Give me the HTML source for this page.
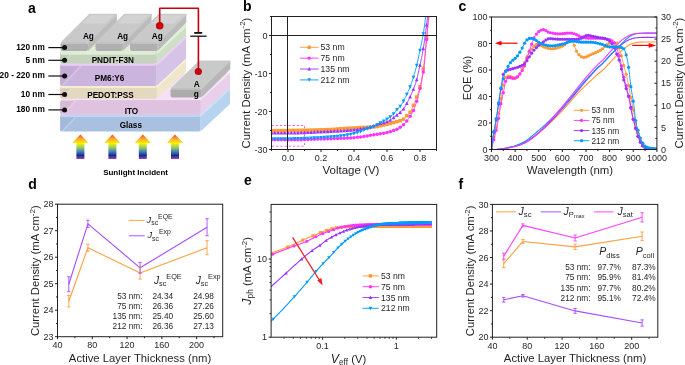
<!DOCTYPE html>
<html><head><meta charset="utf-8"><style>
html,body{margin:0;padding:0;background:#fff;overflow:hidden;}
svg{display:block;font-family:"Liberation Sans", sans-serif;will-change:transform;}
</style></head><body>
<svg width="685" height="365" viewBox="0 0 685 365">
<polygon points="200.5,115 230,87.5 230,103.9 200.5,131.4" fill="#b6d3f0"/>
<polygon points="200.5,115 230,87.5 230,89.5 200.5,117" fill="#cbe4fa"/>
<polygon points="60,115 200.5,115 230,87.5 89.5,87.5" fill="#c4dcf4"/>
<rect x="60" y="115" width="140.5" height="16.4" rx="2" fill="#a9c0e1"/>
<rect x="60.6" y="115" width="139.3" height="2" rx="1" fill="#bdd6f3"/>
<polygon points="60.8,117.5 74.46,117.5 61.5,130.9 60.8,130.9" fill="#000" fill-opacity="0.035"/>
<polygon points="74.46,117.3 76.66,117.3 63.7,131.1 61.5,131.1" fill="#fff" fill-opacity="0.22"/>
<polygon points="200.5,100.3 230,72.8 230,87.3 200.5,114.8" fill="#e9cfea"/>
<polygon points="200.5,100.3 230,72.8 230,72.9 200.5,100.4" fill="#f3dcf3"/>
<polygon points="60,100.3 200.5,100.3 230,72.8 89.5,72.8" fill="#f7e0f7"/>
<rect x="60" y="100.3" width="140.5" height="14.5" rx="2" fill="#dec2df"/>
<rect x="60.6" y="100.3" width="139.3" height="0.1" rx="1" fill="#dec2df"/>
<polygon points="60.8,100.9 74.46,100.9 61.5,114.3 60.8,114.3" fill="#000" fill-opacity="0.035"/>
<polygon points="74.46,100.7 76.66,100.7 63.7,114.5 61.5,114.5" fill="#fff" fill-opacity="0.22"/>
<polygon points="156.5,85.8 186,58.3 186,71.3 156.5,98.8" fill="#efe6cc"/>
<polygon points="156.5,85.8 186,58.3 186,60.5 156.5,88" fill="#f8f4da"/>
<polygon points="60,85.8 156.5,85.8 186,58.3 89.5,58.3" fill="#f4efd3"/>
<rect x="60" y="85.8" width="96.5" height="13" rx="2" fill="#e4d8bf"/>
<rect x="60.6" y="85.8" width="95.3" height="2.2" rx="1" fill="#f4efd3"/>
<polygon points="60.8,88.5 71.22,88.5 61.5,98.3 60.8,98.3" fill="#000" fill-opacity="0.035"/>
<polygon points="71.22,88.3 73.42,88.3 63.7,98.5 61.5,98.5" fill="#fff" fill-opacity="0.22"/>
<polygon points="156.5,63.7 186,36.2 186,58.4 156.5,85.9" fill="#d5c3e8"/>
<polygon points="156.5,63.7 186,36.2 186,38.2 156.5,65.7" fill="#efd2f8"/>
<polygon points="60,63.7 156.5,63.7 186,36.2 89.5,36.2" fill="#ebcdf5"/>
<rect x="60" y="63.7" width="96.5" height="22.2" rx="2" fill="#cbb4de"/>
<rect x="60.6" y="63.7" width="95.3" height="2" rx="1" fill="#ebcdf5"/>
<polygon points="60.8,66.2 79.68,66.2 61.5,85.4 60.8,85.4" fill="#000" fill-opacity="0.035"/>
<polygon points="79.68,66 81.88,66 63.7,85.6 61.5,85.6" fill="#fff" fill-opacity="0.22"/>
<polygon points="156.5,51.1 186,23.6 186,35.9 156.5,63.4" fill="#cfdfc6"/>
<polygon points="156.5,51.1 186,23.6 186,27.3 156.5,54.8" fill="#e0f0d8"/>
<polygon points="60,51.1 156.5,51.1 186,23.6 89.5,23.6" fill="#ddeed5"/>
<rect x="60" y="51.1" width="96.5" height="12.3" rx="2" fill="#c5d3bd"/>
<rect x="60.6" y="51.1" width="95.3" height="3.7" rx="1" fill="#ddeed5"/>
<polygon points="60.8,55.3 69.24,55.3 61.5,62.9 60.8,62.9" fill="#000" fill-opacity="0.035"/>
<polygon points="69.24,55.1 71.44,55.1 63.7,63.1 61.5,63.1" fill="#fff" fill-opacity="0.22"/>
<polygon points="201.5,88.6 230.3,60.4 230.3,69.2 201.5,97.4" fill="#b7b7b7"/>
<polygon points="201.5,88.6 230.3,60.4 230.3,61.8 201.5,90" fill="#c2c2c2"/>
<polygon points="170.5,88.6 201.5,88.6 230.3,60.4 199.3,60.4" fill="#c9c9c9"/>
<rect x="170.5" y="88.6" width="31" height="8.8" rx="2" fill="#acacac"/>
<rect x="171.1" y="88.6" width="29.8" height="1.4" rx="1" fill="#bdbdbd"/>
<polygon points="88,42.4 116.8,13.8 116.8,22.4 88,51" fill="#bbbbbb"/>
<polygon points="88,42.4 116.8,13.8 116.8,15.4 88,44" fill="#c6c6c6"/>
<polygon points="60.5,42.4 88,42.4 116.8,13.8 89.3,13.8" fill="#c9c9c9"/>
<rect x="60.5" y="42.4" width="27.5" height="8.6" rx="2" fill="#b0b0b0"/>
<rect x="61.1" y="42.4" width="26.3" height="1.6" rx="1" fill="#c2c2c2"/>
<polygon points="82.01,23.52 104.51,23.52 113.86,15.23 90.36,15.23" fill="#d3d3d3"/>
<polygon points="122.8,42.4 151.6,13.8 151.6,22.4 122.8,51" fill="#bbbbbb"/>
<polygon points="122.8,42.4 151.6,13.8 151.6,15.4 122.8,44" fill="#c6c6c6"/>
<polygon points="95.5,42.4 122.8,42.4 151.6,13.8 124.3,13.8" fill="#c9c9c9"/>
<rect x="95.5" y="42.4" width="27.3" height="8.6" rx="2" fill="#b0b0b0"/>
<rect x="96.1" y="42.4" width="26.1" height="1.6" rx="1" fill="#c2c2c2"/>
<polygon points="117.01,23.52 139.31,23.52 148.66,15.23 125.36,15.23" fill="#d3d3d3"/>
<polygon points="157.5,42.4 186.3,13.8 186.3,22.4 157.5,51" fill="#bbbbbb"/>
<polygon points="157.5,42.4 186.3,13.8 186.3,15.4 157.5,44" fill="#c6c6c6"/>
<polygon points="130,42.4 157.5,42.4 186.3,13.8 158.8,13.8" fill="#c9c9c9"/>
<rect x="130" y="42.4" width="27.5" height="8.6" rx="2" fill="#b0b0b0"/>
<rect x="130.6" y="42.4" width="26.3" height="1.6" rx="1" fill="#c2c2c2"/>
<polygon points="151.51,23.52 174.01,23.52 183.36,15.23 159.86,15.23" fill="#d3d3d3"/>
<text x="88.4" y="39.1" font-size="8.2" text-anchor="middle" font-weight="bold" fill="#000">Ag</text>
<text x="122.6" y="39.1" font-size="8.2" text-anchor="middle" font-weight="bold" fill="#000">Ag</text>
<text x="157.3" y="39.1" font-size="8.2" text-anchor="middle" font-weight="bold" fill="#000">Ag</text>
<text x="112.8" y="63.1" font-size="8.2" text-anchor="middle" font-weight="bold" fill="#000">PNDIT-F3N</text>
<text x="109.6" y="80.7" font-size="8.2" text-anchor="middle" font-weight="bold" fill="#000">PM6:Y6</text>
<text x="110.4" y="97.7" font-size="8.2" text-anchor="middle" font-weight="bold" fill="#000">PEDOT:PSS</text>
<text x="131.4" y="114" font-size="8.2" text-anchor="middle" font-weight="bold" fill="#000">ITO</text>
<text x="130.8" y="128.4" font-size="8.2" text-anchor="middle" font-weight="bold" fill="#000">Glass</text>
<text x="196.8" y="87.2" font-size="8.2" text-anchor="middle" font-weight="bold" fill="#000">A</text>
<text x="196.2" y="96.6" font-size="8.2" text-anchor="middle" font-weight="bold" fill="#000">g</text>
<text x="44.8" y="49.9" font-size="8.3" text-anchor="end" font-weight="bold" fill="#000">120 nm</text>
<path d="M48.3 47.6H64.5" stroke="#111" stroke-width="1.2"/><circle cx="64.6" cy="47.6" r="2.5" fill="#111"/>
<text x="44.8" y="62.6" font-size="8.3" text-anchor="end" font-weight="bold" fill="#000">5 nm</text>
<path d="M48.3 60.3H64.5" stroke="#111" stroke-width="1.2"/><circle cx="64.6" cy="60.3" r="2.5" fill="#111"/>
<text x="44.8" y="78.3" font-size="8.3" text-anchor="end" font-weight="bold" fill="#000">20 - 220 nm</text>
<path d="M48.3 76H64.5" stroke="#111" stroke-width="1.2"/><circle cx="64.6" cy="76" r="2.5" fill="#111"/>
<text x="44.8" y="96.8" font-size="8.3" text-anchor="end" font-weight="bold" fill="#000">10 nm</text>
<path d="M48.3 94.5H64.5" stroke="#111" stroke-width="1.2"/><circle cx="64.6" cy="94.5" r="2.5" fill="#111"/>
<text x="44.8" y="112.2" font-size="8.3" text-anchor="end" font-weight="bold" fill="#000">180 nm</text>
<path d="M48.3 109.9H64.5" stroke="#111" stroke-width="1.2"/><circle cx="64.6" cy="109.9" r="2.5" fill="#111"/>
<path d="M159.7 25.7V8.6Q159.7 8.3 160 8.3H198.1Q198.4 8.3 198.4 8.6V32.6M198.4 36.2V71.5" stroke="#c8000b" stroke-width="1.6" fill="none"/>
<circle cx="159.7" cy="25.7" r="3.8" fill="#c8000b"/><circle cx="198.3" cy="71.5" r="3.6" fill="#c8000b"/>
<path d="M194.2 32.9H202.2" stroke="#111" stroke-width="1.8"/><path d="M190.3 36.2H206.6" stroke="#111" stroke-width="1.3"/>
<defs><linearGradient id="rb" x1="0" y1="0" x2="0" y2="1"><stop offset="0" stop-color="#f0443a"/><stop offset="0.18" stop-color="#fca629"/><stop offset="0.36" stop-color="#fff200"/><stop offset="0.55" stop-color="#8fc868"/><stop offset="0.72" stop-color="#3c78bf"/><stop offset="0.86" stop-color="#1d2a86"/><stop offset="1" stop-color="#8b4ac4"/></linearGradient></defs>
<polygon points="80.4,134.4 88.6,142.9 84.4,142.9 84.4,158.9 76.4,158.9 76.4,142.9 72.2,142.9" fill="url(#rb)"/>
<polygon points="112.4,134.4 120.6,142.9 116.4,142.9 116.4,158.9 108.4,158.9 108.4,142.9 104.2,142.9" fill="url(#rb)"/>
<polygon points="142.8,134.4 151,142.9 146.8,142.9 146.8,158.9 138.8,158.9 138.8,142.9 134.6,142.9" fill="url(#rb)"/>
<polygon points="175,134.4 183.2,142.9 179,142.9 179,158.9 171,158.9 171,142.9 166.8,142.9" fill="url(#rb)"/>
<text x="135.6" y="174.6" font-size="8.0" text-anchor="middle" font-weight="bold" fill="#000">Sunlight Incident</text>
<clipPath id="cb"><rect x="271.5" y="16.5" width="165.0" height="133.0"/></clipPath>
<rect x="271.5" y="125.5" width="33" height="20.7" fill="none" stroke="#ff4fd0" stroke-width="0.9" stroke-dasharray="2.2 2"/>
<g clip-path="url(#cb)">
<polyline points="271.5,130.69 271.91,130.69 272.32,130.68 272.74,130.68 273.15,130.68 273.56,130.67 273.98,130.67 274.39,130.66 274.8,130.66 275.21,130.66 275.62,130.65 276.04,130.65 276.45,130.64 276.86,130.64 277.27,130.64 277.69,130.63 278.1,130.63 278.51,130.62 278.93,130.62 279.34,130.61 279.75,130.61 280.16,130.6 280.57,130.6 280.99,130.59 281.4,130.59 281.81,130.58 282.23,130.58 282.64,130.57 283.05,130.57 283.46,130.56 283.88,130.56 284.29,130.55 284.7,130.55 285.11,130.54 285.53,130.53 285.94,130.53 286.35,130.52 286.76,130.52 287.18,130.51 287.59,130.51 288,130.5 288.41,130.49 288.83,130.49 289.24,130.48 289.65,130.48 290.06,130.47 290.48,130.46 290.89,130.46 291.3,130.45 291.71,130.45 292.12,130.44 292.54,130.43 292.95,130.43 293.36,130.42 293.78,130.41 294.19,130.41 294.6,130.4 295.01,130.4 295.43,130.39 295.84,130.38 296.25,130.38 296.66,130.37 297.08,130.36 297.49,130.36 297.9,130.35 298.31,130.34 298.73,130.34 299.14,130.33 299.55,130.32 299.96,130.32 300.38,130.31 300.79,130.3 301.2,130.29 301.61,130.29 302.03,130.28 302.44,130.27 302.85,130.27 303.26,130.26 303.68,130.25 304.09,130.24 304.5,130.24 304.91,130.23 305.33,130.22 305.74,130.21 306.15,130.2 306.56,130.2 306.98,130.19 307.39,130.18 307.8,130.17 308.21,130.16 308.63,130.15 309.04,130.15 309.45,130.14 309.86,130.13 310.28,130.12 310.69,130.11 311.1,130.1 311.51,130.09 311.93,130.08 312.34,130.07 312.75,130.06 313.16,130.05 313.58,130.04 313.99,130.04 314.4,130.03 314.81,130.02 315.23,130 315.64,129.99 316.05,129.98 316.46,129.97 316.88,129.96 317.29,129.95 317.7,129.94 318.11,129.93 318.53,129.92 318.94,129.91 319.35,129.9 319.76,129.89 320.18,129.87 320.59,129.86 321,129.85 321.41,129.84 321.83,129.83 322.24,129.81 322.65,129.8 323.06,129.79 323.48,129.77 323.89,129.76 324.3,129.75 324.71,129.74 325.13,129.72 325.54,129.71 325.95,129.69 326.36,129.68 326.78,129.67 327.19,129.65 327.6,129.64 328.01,129.62 328.43,129.61 328.84,129.59 329.25,129.58 329.66,129.56 330.08,129.55 330.49,129.53 330.9,129.51 331.31,129.49 331.73,129.47 332.14,129.45 332.55,129.42 332.96,129.39 333.38,129.37 333.79,129.34 334.2,129.31 334.61,129.28 335.03,129.25 335.44,129.22 335.85,129.18 336.26,129.15 336.68,129.11 337.09,129.08 337.5,129.05 337.91,129.01 338.33,128.98 338.74,128.94 339.15,128.91 339.56,128.87 339.98,128.84 340.39,128.8 340.8,128.77 341.21,128.73 341.63,128.7 342.04,128.67 342.45,128.64 342.86,128.6 343.28,128.57 343.69,128.55 344.1,128.52 344.51,128.49 344.93,128.47 345.34,128.44 345.75,128.42 346.16,128.39 346.58,128.37 346.99,128.34 347.4,128.32 347.81,128.3 348.23,128.27 348.64,128.25 349.05,128.23 349.46,128.2 349.88,128.18 350.29,128.16 350.7,128.14 351.11,128.12 351.53,128.09 351.94,128.07 352.35,128.05 352.76,128.03 353.18,128.01 353.59,127.99 354,127.96 354.41,127.94 354.83,127.92 355.24,127.9 355.65,127.88 356.06,127.86 356.48,127.84 356.89,127.81 357.3,127.79 357.71,127.77 358.13,127.75 358.54,127.72 358.95,127.7 359.36,127.68 359.78,127.66 360.19,127.63 360.6,127.61 361.01,127.59 361.43,127.57 361.84,127.55 362.25,127.53 362.66,127.52 363.08,127.5 363.49,127.48 363.9,127.46 364.31,127.44 364.73,127.42 365.14,127.4 365.55,127.39 365.96,127.37 366.38,127.35 366.79,127.33 367.2,127.31 367.61,127.29 368.03,127.27 368.44,127.24 368.85,127.22 369.26,127.2 369.68,127.18 370.09,127.15 370.5,127.13 370.91,127.1 371.33,127.07 371.74,127.05 372.15,127.02 372.56,126.99 372.98,126.95 373.39,126.92 373.8,126.89 374.21,126.85 374.63,126.81 375.04,126.77 375.45,126.73 375.86,126.67 376.28,126.61 376.69,126.55 377.1,126.48 377.51,126.41 377.93,126.33 378.34,126.25 378.75,126.16 379.16,126.07 379.58,125.98 379.99,125.89 380.4,125.8 380.81,125.7 381.23,125.61 381.64,125.51 382.05,125.41 382.46,125.31 382.88,125.22 383.29,125.12 383.7,125.03 384.11,124.93 384.53,124.84 384.94,124.75 385.35,124.65 385.76,124.56 386.18,124.46 386.59,124.36 387,124.27 387.41,124.17 387.83,124.07 388.24,123.97 388.65,123.86 389.06,123.76 389.48,123.65 389.89,123.55 390.3,123.44 390.71,123.33 391.13,123.22 391.54,123.11 391.95,123 392.36,122.88 392.78,122.77 393.19,122.65 393.6,122.53 394.01,122.41 394.43,122.3 394.84,122.18 395.25,122.07 395.66,121.97 396.08,121.86 396.49,121.75 396.9,121.64 397.31,121.53 397.73,121.42 398.14,121.31 398.55,121.19 398.96,121.06 399.38,120.93 399.79,120.8 400.2,120.65 400.61,120.5 401.03,120.34 401.44,120.16 401.85,119.98 402.26,119.78 402.68,119.58 403.09,119.35 403.5,119.11 403.91,118.76 404.33,118.32 404.74,117.83 405.15,117.33 405.56,116.87 405.98,116.46 406.39,116.07 406.8,115.7 407.21,115.35 407.63,114.99 408.04,114.61 408.45,114.22 408.86,113.8 409.28,113.34 409.69,112.83 410.1,112.24 410.51,111.55 410.93,110.78 411.34,109.95 411.75,109.06 412.16,108.15 412.58,107.21 412.99,106.29 413.4,105.36 413.81,104.42 414.23,103.44 414.64,102.44 415.05,101.41 415.46,100.34 415.88,99.25 416.29,98.13 416.7,96.98 417.11,95.83 417.53,94.68 417.94,93.49 418.35,92.27 418.76,90.99 419.18,89.64 419.59,88.21 420,86.69 420.41,85.05 420.83,83.28 421.24,81.32 421.65,79.19 422.06,76.88 422.48,74.41 422.89,71.76 423.3,68.95 423.71,65.97 424.13,62.51 424.54,58.56 424.95,54.3 425.36,49.88 425.78,45.49 426.19,41.28 426.6,37.4 427.01,33.65 427.43,29.97 427.84,26.36 428.25,22.81 428.66,19.34 429.08,15.94" fill="none" stroke="#ff9933" stroke-width="0.9" stroke-linejoin="round"/>
<g><rect x="269.75" y="128.94" width="3.5" height="3.5" fill="#ff9933"/><rect x="273.05" y="128.91" width="3.5" height="3.5" fill="#ff9933"/><rect x="276.35" y="128.88" width="3.5" height="3.5" fill="#ff9933"/><rect x="279.65" y="128.84" width="3.5" height="3.5" fill="#ff9933"/><rect x="282.95" y="128.8" width="3.5" height="3.5" fill="#ff9933"/><rect x="286.25" y="128.75" width="3.5" height="3.5" fill="#ff9933"/><rect x="289.55" y="128.7" width="3.5" height="3.5" fill="#ff9933"/><rect x="292.85" y="128.65" width="3.5" height="3.5" fill="#ff9933"/><rect x="296.15" y="128.6" width="3.5" height="3.5" fill="#ff9933"/><rect x="299.45" y="128.54" width="3.5" height="3.5" fill="#ff9933"/><rect x="302.75" y="128.49" width="3.5" height="3.5" fill="#ff9933"/><rect x="306.05" y="128.42" width="3.5" height="3.5" fill="#ff9933"/><rect x="309.35" y="128.35" width="3.5" height="3.5" fill="#ff9933"/><rect x="312.65" y="128.28" width="3.5" height="3.5" fill="#ff9933"/><rect x="315.95" y="128.19" width="3.5" height="3.5" fill="#ff9933"/><rect x="319.25" y="128.1" width="3.5" height="3.5" fill="#ff9933"/><rect x="322.55" y="128" width="3.5" height="3.5" fill="#ff9933"/><rect x="325.85" y="127.89" width="3.5" height="3.5" fill="#ff9933"/><rect x="329.15" y="127.76" width="3.5" height="3.5" fill="#ff9933"/><rect x="332.45" y="127.56" width="3.5" height="3.5" fill="#ff9933"/><rect x="335.75" y="127.3" width="3.5" height="3.5" fill="#ff9933"/><rect x="339.05" y="127.02" width="3.5" height="3.5" fill="#ff9933"/><rect x="342.35" y="126.77" width="3.5" height="3.5" fill="#ff9933"/><rect x="345.65" y="126.57" width="3.5" height="3.5" fill="#ff9933"/><rect x="348.95" y="126.39" width="3.5" height="3.5" fill="#ff9933"/><rect x="352.25" y="126.21" width="3.5" height="3.5" fill="#ff9933"/><rect x="355.55" y="126.04" width="3.5" height="3.5" fill="#ff9933"/><rect x="358.85" y="125.86" width="3.5" height="3.5" fill="#ff9933"/><rect x="362.15" y="125.71" width="3.5" height="3.5" fill="#ff9933"/><rect x="365.45" y="125.56" width="3.5" height="3.5" fill="#ff9933"/><rect x="368.75" y="125.38" width="3.5" height="3.5" fill="#ff9933"/><rect x="372.05" y="125.14" width="3.5" height="3.5" fill="#ff9933"/><rect x="375.35" y="124.73" width="3.5" height="3.5" fill="#ff9933"/><rect x="378.65" y="124.05" width="3.5" height="3.5" fill="#ff9933"/><rect x="381.95" y="123.28" width="3.5" height="3.5" fill="#ff9933"/><rect x="385.25" y="122.52" width="3.5" height="3.5" fill="#ff9933"/><rect x="388.55" y="121.69" width="3.5" height="3.5" fill="#ff9933"/><rect x="391.85" y="120.78" width="3.5" height="3.5" fill="#ff9933"/><rect x="395.15" y="119.89" width="3.5" height="3.5" fill="#ff9933"/><rect x="398.45" y="118.9" width="3.5" height="3.5" fill="#ff9933"/><rect x="401.75" y="117.36" width="3.5" height="3.5" fill="#ff9933"/><rect x="405.05" y="113.95" width="3.5" height="3.5" fill="#ff9933"/><rect x="408.35" y="110.49" width="3.5" height="3.5" fill="#ff9933"/><rect x="411.65" y="103.61" width="3.5" height="3.5" fill="#ff9933"/><rect x="414.95" y="95.23" width="3.5" height="3.5" fill="#ff9933"/><rect x="418.25" y="84.94" width="3.5" height="3.5" fill="#ff9933"/><rect x="421.55" y="67.2" width="3.5" height="3.5" fill="#ff9933"/><rect x="424.85" y="35.65" width="3.5" height="3.5" fill="#ff9933"/></g>
<polyline points="271.5,133.01 271.91,133.01 272.32,133.01 272.74,133.01 273.15,133.01 273.56,133.01 273.98,133.01 274.39,133.01 274.8,133.01 275.21,133.01 275.62,133.01 276.04,133.01 276.45,133.01 276.86,133.01 277.27,133.01 277.69,133.01 278.1,133.01 278.51,133.01 278.93,133.01 279.34,133.01 279.75,133.01 280.16,133.01 280.57,133.01 280.99,133.01 281.4,133.01 281.81,133.01 282.23,133.01 282.64,133.01 283.05,133.01 283.46,133.01 283.88,133.01 284.29,133.01 284.7,133.01 285.11,133.01 285.53,133.01 285.94,133.01 286.35,133.01 286.76,133.01 287.18,133.01 287.59,133.01 288,133.01 288.41,133.01 288.83,133.01 289.24,133.01 289.65,133 290.06,133 290.48,133 290.89,132.99 291.3,132.99 291.71,132.99 292.12,132.98 292.54,132.98 292.95,132.97 293.36,132.96 293.78,132.96 294.19,132.95 294.6,132.94 295.01,132.93 295.43,132.92 295.84,132.91 296.25,132.9 296.66,132.89 297.08,132.88 297.49,132.87 297.9,132.86 298.31,132.85 298.73,132.84 299.14,132.83 299.55,132.81 299.96,132.8 300.38,132.79 300.79,132.77 301.2,132.76 301.61,132.74 302.03,132.73 302.44,132.71 302.85,132.7 303.26,132.68 303.68,132.67 304.09,132.65 304.5,132.64 304.91,132.62 305.33,132.6 305.74,132.58 306.15,132.57 306.56,132.55 306.98,132.53 307.39,132.51 307.8,132.49 308.21,132.48 308.63,132.46 309.04,132.44 309.45,132.42 309.86,132.4 310.28,132.38 310.69,132.36 311.1,132.34 311.51,132.32 311.93,132.3 312.34,132.28 312.75,132.26 313.16,132.24 313.58,132.22 313.99,132.2 314.4,132.18 314.81,132.16 315.23,132.14 315.64,132.12 316.05,132.1 316.46,132.08 316.88,132.05 317.29,132.03 317.7,132.01 318.11,131.99 318.53,131.97 318.94,131.95 319.35,131.93 319.76,131.91 320.18,131.89 320.59,131.86 321,131.84 321.41,131.82 321.83,131.8 322.24,131.78 322.65,131.76 323.06,131.74 323.48,131.72 323.89,131.7 324.3,131.68 324.71,131.66 325.13,131.64 325.54,131.62 325.95,131.6 326.36,131.58 326.78,131.56 327.19,131.54 327.6,131.52 328.01,131.5 328.43,131.48 328.84,131.46 329.25,131.44 329.66,131.43 330.08,131.41 330.49,131.39 330.9,131.37 331.31,131.35 331.73,131.34 332.14,131.32 332.55,131.3 332.96,131.28 333.38,131.27 333.79,131.25 334.2,131.23 334.61,131.21 335.03,131.19 335.44,131.18 335.85,131.16 336.26,131.14 336.68,131.12 337.09,131.1 337.5,131.08 337.91,131.06 338.33,131.04 338.74,131.02 339.15,131 339.56,130.98 339.98,130.96 340.39,130.94 340.8,130.92 341.21,130.89 341.63,130.87 342.04,130.85 342.45,130.82 342.86,130.8 343.28,130.77 343.69,130.75 344.1,130.72 344.51,130.7 344.93,130.67 345.34,130.64 345.75,130.61 346.16,130.58 346.58,130.55 346.99,130.52 347.4,130.48 347.81,130.45 348.23,130.41 348.64,130.38 349.05,130.34 349.46,130.3 349.88,130.26 350.29,130.23 350.7,130.19 351.11,130.15 351.53,130.1 351.94,130.06 352.35,130.02 352.76,129.97 353.18,129.93 353.59,129.89 354,129.84 354.41,129.79 354.83,129.75 355.24,129.7 355.65,129.65 356.06,129.6 356.48,129.55 356.89,129.5 357.3,129.45 357.71,129.4 358.13,129.35 358.54,129.29 358.95,129.24 359.36,129.19 359.78,129.13 360.19,129.08 360.6,129.02 361.01,128.96 361.43,128.9 361.84,128.84 362.25,128.78 362.66,128.71 363.08,128.65 363.49,128.58 363.9,128.51 364.31,128.44 364.73,128.36 365.14,128.29 365.55,128.21 365.96,128.13 366.38,128.05 366.79,127.96 367.2,127.87 367.61,127.78 368.03,127.69 368.44,127.59 368.85,127.48 369.26,127.36 369.68,127.24 370.09,127.1 370.5,126.96 370.91,126.82 371.33,126.67 371.74,126.51 372.15,126.35 372.56,126.19 372.98,126.03 373.39,125.86 373.8,125.7 374.21,125.53 374.63,125.36 375.04,125.2 375.45,125.03 375.86,124.87 376.28,124.72 376.69,124.56 377.1,124.41 377.51,124.27 377.93,124.13 378.34,124 378.75,123.87 379.16,123.76 379.58,123.64 379.99,123.53 380.4,123.43 380.81,123.33 381.23,123.23 381.64,123.14 382.05,123.04 382.46,122.95 382.88,122.85 383.29,122.76 383.7,122.66 384.11,122.56 384.53,122.46 384.94,122.36 385.35,122.25 385.76,122.14 386.18,122.02 386.59,121.89 387,121.76 387.41,121.62 387.83,121.47 388.24,121.31 388.65,121.14 389.06,120.96 389.48,120.75 389.89,120.49 390.3,120.19 390.71,119.87 391.13,119.54 391.54,119.19 391.95,118.85 392.36,118.51 392.78,118.19 393.19,117.88 393.6,117.57 394.01,117.26 394.43,116.95 394.84,116.64 395.25,116.32 395.66,116.01 396.08,115.69 396.49,115.36 396.9,115.04 397.31,114.72 397.73,114.4 398.14,114.08 398.55,113.75 398.96,113.41 399.38,113.07 399.79,112.71 400.2,112.34 400.61,111.96 401.03,111.58 401.44,111.18 401.85,110.77 402.26,110.34 402.68,109.89 403.09,109.41 403.5,108.9 403.91,108.33 404.33,107.72 404.74,107.07 405.15,106.39 405.56,105.69 405.98,104.97 406.39,104.25 406.8,103.5 407.21,102.73 407.63,101.94 408.04,101.12 408.45,100.29 408.86,99.44 409.28,98.59 409.69,97.72 410.1,96.85 410.51,95.97 410.93,95.07 411.34,94.16 411.75,93.23 412.16,92.27 412.58,91.29 412.99,90.28 413.4,89.26 413.81,88.23 414.23,87.17 414.64,86.08 415.05,84.94 415.46,83.75 415.88,82.48 416.29,81.13 416.7,79.64 417.11,78.04 417.53,76.32 417.94,74.53 418.35,72.67 418.76,70.79 419.18,68.89 419.59,67.01 420,65.14 420.41,63.27 420.83,61.38 421.24,59.46 421.65,57.47 422.06,55.42 422.48,53.27 422.89,51.01 423.3,48.62 423.71,46.04 424.13,43.28 424.54,40.38 424.95,37.37 425.36,34.29 425.78,31.17 426.19,28.05 426.6,24.95 427.01,21.78 427.43,18.55 427.84,15.26" fill="none" stroke="#9933ff" stroke-width="0.9" stroke-linejoin="round"/>
<g><polygon points="271.5,131 273.34,134.62 269.66,134.62" fill="#9933ff"/><polygon points="274.8,131 276.64,134.62 272.96,134.62" fill="#9933ff"/><polygon points="278.1,131 279.94,134.62 276.26,134.62" fill="#9933ff"/><polygon points="281.4,131 283.24,134.62 279.56,134.62" fill="#9933ff"/><polygon points="284.7,131 286.54,134.62 282.86,134.62" fill="#9933ff"/><polygon points="288,131 289.84,134.62 286.16,134.62" fill="#9933ff"/><polygon points="291.3,130.98 293.14,134.6 289.46,134.6" fill="#9933ff"/><polygon points="294.6,130.93 296.44,134.55 292.76,134.55" fill="#9933ff"/><polygon points="297.9,130.85 299.74,134.47 296.06,134.47" fill="#9933ff"/><polygon points="301.2,130.75 303.04,134.37 299.36,134.37" fill="#9933ff"/><polygon points="304.5,130.62 306.34,134.25 302.66,134.25" fill="#9933ff"/><polygon points="307.8,130.48 309.64,134.1 305.96,134.1" fill="#9933ff"/><polygon points="311.1,130.33 312.94,133.95 309.26,133.95" fill="#9933ff"/><polygon points="314.4,130.17 316.24,133.79 312.56,133.79" fill="#9933ff"/><polygon points="317.7,130 319.54,133.62 315.86,133.62" fill="#9933ff"/><polygon points="321,129.83 322.84,133.45 319.16,133.45" fill="#9933ff"/><polygon points="324.3,129.67 326.14,133.29 322.46,133.29" fill="#9933ff"/><polygon points="327.6,129.51 329.44,133.13 325.76,133.13" fill="#9933ff"/><polygon points="330.9,129.36 332.74,132.98 329.06,132.98" fill="#9933ff"/><polygon points="334.2,129.22 336.04,132.84 332.36,132.84" fill="#9933ff"/><polygon points="337.5,129.07 339.34,132.69 335.66,132.69" fill="#9933ff"/><polygon points="340.8,128.9 342.64,132.53 338.96,132.53" fill="#9933ff"/><polygon points="344.1,128.71 345.94,132.33 342.26,132.33" fill="#9933ff"/><polygon points="347.4,128.47 349.24,132.09 345.56,132.09" fill="#9933ff"/><polygon points="350.7,128.17 352.54,131.8 348.86,131.8" fill="#9933ff"/><polygon points="354,127.83 355.84,131.45 352.16,131.45" fill="#9933ff"/><polygon points="357.3,127.44 359.14,131.06 355.46,131.06" fill="#9933ff"/><polygon points="360.6,127.01 362.44,130.63 358.76,130.63" fill="#9933ff"/><polygon points="363.9,126.5 365.74,130.12 362.06,130.12" fill="#9933ff"/><polygon points="367.2,125.86 369.04,129.48 365.36,129.48" fill="#9933ff"/><polygon points="370.5,124.95 372.34,128.57 368.66,128.57" fill="#9933ff"/><polygon points="373.8,123.68 375.64,127.31 371.96,127.31" fill="#9933ff"/><polygon points="377.1,122.4 378.94,126.02 375.26,126.02" fill="#9933ff"/><polygon points="380.4,121.42 382.24,125.04 378.56,125.04" fill="#9933ff"/><polygon points="383.7,120.65 385.54,124.27 381.86,124.27" fill="#9933ff"/><polygon points="387,119.74 388.84,123.37 385.16,123.37" fill="#9933ff"/><polygon points="390.3,118.18 392.14,121.8 388.46,121.8" fill="#9933ff"/><polygon points="393.6,115.56 395.44,119.18 391.76,119.18" fill="#9933ff"/><polygon points="396.9,113.03 398.74,116.65 395.06,116.65" fill="#9933ff"/><polygon points="400.2,110.33 402.04,113.95 398.36,113.95" fill="#9933ff"/><polygon points="403.5,106.88 405.34,110.51 401.66,110.51" fill="#9933ff"/><polygon points="406.8,101.49 408.64,105.11 404.96,105.11" fill="#9933ff"/><polygon points="410.1,94.84 411.94,98.46 408.26,98.46" fill="#9933ff"/><polygon points="413.4,87.25 415.24,90.87 411.56,90.87" fill="#9933ff"/><polygon points="416.7,77.63 418.54,81.25 414.86,81.25" fill="#9933ff"/><polygon points="420,63.13 421.84,66.75 418.16,66.75" fill="#9933ff"/><polygon points="423.3,46.61 425.14,50.23 421.46,50.23" fill="#9933ff"/><polygon points="426.6,22.94 428.44,26.56 424.76,26.56" fill="#9933ff"/></g>
<polyline points="271.5,139.81 271.91,139.81 272.32,139.81 272.74,139.81 273.15,139.81 273.56,139.81 273.98,139.81 274.39,139.81 274.8,139.81 275.21,139.81 275.62,139.81 276.04,139.81 276.45,139.81 276.86,139.81 277.27,139.81 277.69,139.81 278.1,139.81 278.51,139.81 278.93,139.81 279.34,139.81 279.75,139.81 280.16,139.81 280.57,139.81 280.99,139.81 281.4,139.81 281.81,139.81 282.23,139.81 282.64,139.81 283.05,139.81 283.46,139.81 283.88,139.81 284.29,139.81 284.7,139.81 285.11,139.81 285.53,139.81 285.94,139.81 286.35,139.81 286.76,139.81 287.18,139.81 287.59,139.81 288,139.81 288.41,139.81 288.83,139.81 289.24,139.81 289.65,139.81 290.06,139.81 290.48,139.8 290.89,139.8 291.3,139.8 291.71,139.79 292.12,139.79 292.54,139.79 292.95,139.78 293.36,139.78 293.78,139.77 294.19,139.77 294.6,139.76 295.01,139.76 295.43,139.75 295.84,139.75 296.25,139.74 296.66,139.73 297.08,139.72 297.49,139.72 297.9,139.71 298.31,139.7 298.73,139.69 299.14,139.68 299.55,139.68 299.96,139.67 300.38,139.66 300.79,139.65 301.2,139.64 301.61,139.63 302.03,139.62 302.44,139.61 302.85,139.6 303.26,139.59 303.68,139.57 304.09,139.56 304.5,139.55 304.91,139.54 305.33,139.53 305.74,139.52 306.15,139.5 306.56,139.49 306.98,139.48 307.39,139.47 307.8,139.45 308.21,139.44 308.63,139.43 309.04,139.42 309.45,139.4 309.86,139.39 310.28,139.38 310.69,139.36 311.1,139.35 311.51,139.34 311.93,139.32 312.34,139.31 312.75,139.29 313.16,139.28 313.58,139.27 313.99,139.25 314.4,139.24 314.81,139.22 315.23,139.21 315.64,139.19 316.05,139.18 316.46,139.17 316.88,139.15 317.29,139.14 317.7,139.12 318.11,139.11 318.53,139.09 318.94,139.08 319.35,139.06 319.76,139.05 320.18,139.03 320.59,139.02 321,139.01 321.41,138.99 321.83,138.98 322.24,138.96 322.65,138.95 323.06,138.93 323.48,138.92 323.89,138.91 324.3,138.89 324.71,138.88 325.13,138.86 325.54,138.85 325.95,138.84 326.36,138.82 326.78,138.81 327.19,138.8 327.6,138.78 328.01,138.77 328.43,138.76 328.84,138.74 329.25,138.73 329.66,138.72 330.08,138.71 330.49,138.69 330.9,138.68 331.31,138.67 331.73,138.66 332.14,138.64 332.55,138.63 332.96,138.62 333.38,138.61 333.79,138.6 334.2,138.58 334.61,138.57 335.03,138.56 335.44,138.55 335.85,138.53 336.26,138.52 336.68,138.51 337.09,138.5 337.5,138.48 337.91,138.47 338.33,138.46 338.74,138.44 339.15,138.43 339.56,138.41 339.98,138.4 340.39,138.38 340.8,138.37 341.21,138.35 341.63,138.34 342.04,138.32 342.45,138.31 342.86,138.29 343.28,138.27 343.69,138.25 344.1,138.24 344.51,138.22 344.93,138.2 345.34,138.18 345.75,138.16 346.16,138.14 346.58,138.12 346.99,138.1 347.4,138.07 347.81,138.05 348.23,138.03 348.64,138.01 349.05,137.98 349.46,137.96 349.88,137.93 350.29,137.91 350.7,137.88 351.11,137.85 351.53,137.83 351.94,137.8 352.35,137.77 352.76,137.74 353.18,137.71 353.59,137.68 354,137.65 354.41,137.61 354.83,137.58 355.24,137.55 355.65,137.51 356.06,137.48 356.48,137.44 356.89,137.41 357.3,137.37 357.71,137.33 358.13,137.29 358.54,137.25 358.95,137.21 359.36,137.17 359.78,137.13 360.19,137.08 360.6,137.03 361.01,136.97 361.43,136.92 361.84,136.86 362.25,136.79 362.66,136.73 363.08,136.66 363.49,136.59 363.9,136.52 364.31,136.45 364.73,136.37 365.14,136.29 365.55,136.22 365.96,136.14 366.38,136.06 366.79,135.98 367.2,135.9 367.61,135.81 368.03,135.73 368.44,135.65 368.85,135.56 369.26,135.48 369.68,135.4 370.09,135.32 370.5,135.24 370.91,135.16 371.33,135.08 371.74,135 372.15,134.92 372.56,134.84 372.98,134.77 373.39,134.7 373.8,134.63 374.21,134.56 374.63,134.49 375.04,134.43 375.45,134.36 375.86,134.3 376.28,134.24 376.69,134.19 377.1,134.13 377.51,134.07 377.93,134.02 378.34,133.96 378.75,133.91 379.16,133.85 379.58,133.8 379.99,133.74 380.4,133.69 380.81,133.63 381.23,133.57 381.64,133.51 382.05,133.45 382.46,133.38 382.88,133.32 383.29,133.25 383.7,133.17 384.11,133.1 384.53,133.02 384.94,132.94 385.35,132.86 385.76,132.77 386.18,132.68 386.59,132.59 387,132.5 387.41,132.4 387.83,132.3 388.24,132.2 388.65,132.09 389.06,131.98 389.48,131.87 389.89,131.75 390.3,131.63 390.71,131.51 391.13,131.39 391.54,131.26 391.95,131.13 392.36,131 392.78,130.85 393.19,130.71 393.6,130.56 394.01,130.4 394.43,130.24 394.84,130.07 395.25,129.89 395.66,129.71 396.08,129.53 396.49,129.34 396.9,129.14 397.31,128.94 397.73,128.73 398.14,128.52 398.55,128.3 398.96,128.07 399.38,127.83 399.79,127.58 400.2,127.32 400.61,127.04 401.03,126.76 401.44,126.46 401.85,126.15 402.26,125.82 402.68,125.49 403.09,125.13 403.5,124.76 403.91,124.37 404.33,123.96 404.74,123.51 405.15,123.05 405.56,122.57 405.98,122.07 406.39,121.55 406.8,121.01 407.21,120.46 407.63,119.89 408.04,119.32 408.45,118.73 408.86,118.13 409.28,117.52 409.69,116.91 410.1,116.28 410.51,115.65 410.93,115 411.34,114.33 411.75,113.63 412.16,112.9 412.58,112.14 412.99,111.34 413.4,110.49 413.81,109.6 414.23,108.63 414.64,107.56 415.05,106.41 415.46,105.19 415.88,103.9 416.29,102.56 416.7,101.18 417.11,99.77 417.53,98.34 417.94,96.85 418.35,95.3 418.76,93.68 419.18,92.02 419.59,90.29 420,88.51 420.41,86.68 420.83,84.82 421.24,82.95 421.65,81.04 422.06,79.04 422.48,76.92 422.89,74.61 423.3,72.09 423.71,69.3 424.13,65.99 424.54,62.14 424.95,57.89 425.36,53.38 425.78,48.74 426.19,44.11 426.6,39.59 427.01,35 427.43,30.31 427.84,25.5 428.25,20.6 428.66,15.61" fill="none" stroke="#ff33ff" stroke-width="0.9" stroke-linejoin="round"/>
<g><circle cx="271.5" cy="139.81" r="1.75" fill="#ff33ff"/><circle cx="274.8" cy="139.81" r="1.75" fill="#ff33ff"/><circle cx="278.1" cy="139.81" r="1.75" fill="#ff33ff"/><circle cx="281.4" cy="139.81" r="1.75" fill="#ff33ff"/><circle cx="284.7" cy="139.81" r="1.75" fill="#ff33ff"/><circle cx="288" cy="139.81" r="1.75" fill="#ff33ff"/><circle cx="291.3" cy="139.8" r="1.75" fill="#ff33ff"/><circle cx="294.6" cy="139.76" r="1.75" fill="#ff33ff"/><circle cx="297.9" cy="139.71" r="1.75" fill="#ff33ff"/><circle cx="301.2" cy="139.64" r="1.75" fill="#ff33ff"/><circle cx="304.5" cy="139.55" r="1.75" fill="#ff33ff"/><circle cx="307.8" cy="139.45" r="1.75" fill="#ff33ff"/><circle cx="311.1" cy="139.35" r="1.75" fill="#ff33ff"/><circle cx="314.4" cy="139.24" r="1.75" fill="#ff33ff"/><circle cx="317.7" cy="139.12" r="1.75" fill="#ff33ff"/><circle cx="321" cy="139.01" r="1.75" fill="#ff33ff"/><circle cx="324.3" cy="138.89" r="1.75" fill="#ff33ff"/><circle cx="327.6" cy="138.78" r="1.75" fill="#ff33ff"/><circle cx="330.9" cy="138.68" r="1.75" fill="#ff33ff"/><circle cx="334.2" cy="138.58" r="1.75" fill="#ff33ff"/><circle cx="337.5" cy="138.48" r="1.75" fill="#ff33ff"/><circle cx="340.8" cy="138.37" r="1.75" fill="#ff33ff"/><circle cx="344.1" cy="138.24" r="1.75" fill="#ff33ff"/><circle cx="347.4" cy="138.07" r="1.75" fill="#ff33ff"/><circle cx="350.7" cy="137.88" r="1.75" fill="#ff33ff"/><circle cx="354" cy="137.65" r="1.75" fill="#ff33ff"/><circle cx="357.3" cy="137.37" r="1.75" fill="#ff33ff"/><circle cx="360.6" cy="137.03" r="1.75" fill="#ff33ff"/><circle cx="363.9" cy="136.52" r="1.75" fill="#ff33ff"/><circle cx="367.2" cy="135.9" r="1.75" fill="#ff33ff"/><circle cx="370.5" cy="135.24" r="1.75" fill="#ff33ff"/><circle cx="373.8" cy="134.63" r="1.75" fill="#ff33ff"/><circle cx="377.1" cy="134.13" r="1.75" fill="#ff33ff"/><circle cx="380.4" cy="133.69" r="1.75" fill="#ff33ff"/><circle cx="383.7" cy="133.17" r="1.75" fill="#ff33ff"/><circle cx="387" cy="132.5" r="1.75" fill="#ff33ff"/><circle cx="390.3" cy="131.63" r="1.75" fill="#ff33ff"/><circle cx="393.6" cy="130.56" r="1.75" fill="#ff33ff"/><circle cx="396.9" cy="129.14" r="1.75" fill="#ff33ff"/><circle cx="400.2" cy="127.32" r="1.75" fill="#ff33ff"/><circle cx="403.5" cy="124.76" r="1.75" fill="#ff33ff"/><circle cx="406.8" cy="121.01" r="1.75" fill="#ff33ff"/><circle cx="410.1" cy="116.28" r="1.75" fill="#ff33ff"/><circle cx="413.4" cy="110.49" r="1.75" fill="#ff33ff"/><circle cx="416.7" cy="101.18" r="1.75" fill="#ff33ff"/><circle cx="420" cy="88.51" r="1.75" fill="#ff33ff"/><circle cx="423.3" cy="72.09" r="1.75" fill="#ff33ff"/><circle cx="426.6" cy="39.59" r="1.75" fill="#ff33ff"/></g>
<polyline points="271.5,138.86 271.91,138.86 272.32,138.86 272.74,138.86 273.15,138.86 273.56,138.86 273.98,138.86 274.39,138.86 274.8,138.86 275.21,138.86 275.62,138.85 276.04,138.85 276.45,138.85 276.86,138.85 277.27,138.85 277.69,138.85 278.1,138.85 278.51,138.84 278.93,138.84 279.34,138.84 279.75,138.84 280.16,138.84 280.57,138.83 280.99,138.83 281.4,138.83 281.81,138.83 282.23,138.82 282.64,138.82 283.05,138.82 283.46,138.82 283.88,138.81 284.29,138.81 284.7,138.81 285.11,138.8 285.53,138.8 285.94,138.8 286.35,138.8 286.76,138.79 287.18,138.79 287.59,138.79 288,138.78 288.41,138.78 288.83,138.78 289.24,138.77 289.65,138.77 290.06,138.76 290.48,138.76 290.89,138.75 291.3,138.75 291.71,138.74 292.12,138.73 292.54,138.73 292.95,138.72 293.36,138.71 293.78,138.7 294.19,138.7 294.6,138.69 295.01,138.68 295.43,138.67 295.84,138.66 296.25,138.65 296.66,138.64 297.08,138.63 297.49,138.62 297.9,138.61 298.31,138.59 298.73,138.58 299.14,138.57 299.55,138.56 299.96,138.55 300.38,138.53 300.79,138.52 301.2,138.51 301.61,138.49 302.03,138.48 302.44,138.46 302.85,138.45 303.26,138.43 303.68,138.42 304.09,138.4 304.5,138.39 304.91,138.37 305.33,138.35 305.74,138.34 306.15,138.32 306.56,138.3 306.98,138.28 307.39,138.27 307.8,138.25 308.21,138.23 308.63,138.21 309.04,138.19 309.45,138.17 309.86,138.15 310.28,138.14 310.69,138.12 311.1,138.1 311.51,138.08 311.93,138.06 312.34,138.04 312.75,138.01 313.16,137.99 313.58,137.97 313.99,137.95 314.4,137.93 314.81,137.91 315.23,137.89 315.64,137.86 316.05,137.84 316.46,137.82 316.88,137.8 317.29,137.77 317.7,137.75 318.11,137.73 318.53,137.7 318.94,137.68 319.35,137.66 319.76,137.63 320.18,137.61 320.59,137.58 321,137.56 321.41,137.54 321.83,137.51 322.24,137.49 322.65,137.46 323.06,137.44 323.48,137.41 323.89,137.39 324.3,137.36 324.71,137.34 325.13,137.31 325.54,137.28 325.95,137.26 326.36,137.23 326.78,137.21 327.19,137.18 327.6,137.15 328.01,137.13 328.43,137.1 328.84,137.07 329.25,137.05 329.66,137.02 330.08,136.99 330.49,136.96 330.9,136.94 331.31,136.91 331.73,136.88 332.14,136.84 332.55,136.81 332.96,136.78 333.38,136.74 333.79,136.71 334.2,136.67 334.61,136.63 335.03,136.6 335.44,136.56 335.85,136.52 336.26,136.47 336.68,136.43 337.09,136.39 337.5,136.35 337.91,136.3 338.33,136.25 338.74,136.21 339.15,136.16 339.56,136.11 339.98,136.06 340.39,136.01 340.8,135.96 341.21,135.91 341.63,135.85 342.04,135.8 342.45,135.74 342.86,135.69 343.28,135.63 343.69,135.57 344.1,135.51 344.51,135.45 344.93,135.39 345.34,135.33 345.75,135.26 346.16,135.19 346.58,135.12 346.99,135.05 347.4,134.98 347.81,134.9 348.23,134.82 348.64,134.74 349.05,134.66 349.46,134.57 349.88,134.48 350.29,134.4 350.7,134.3 351.11,134.21 351.53,134.12 351.94,134.02 352.35,133.92 352.76,133.82 353.18,133.72 353.59,133.61 354,133.51 354.41,133.4 354.83,133.29 355.24,133.18 355.65,133.06 356.06,132.95 356.48,132.83 356.89,132.71 357.3,132.59 357.71,132.47 358.13,132.35 358.54,132.22 358.95,132.1 359.36,131.97 359.78,131.83 360.19,131.68 360.6,131.52 361.01,131.36 361.43,131.18 361.84,131 362.25,130.82 362.66,130.63 363.08,130.44 363.49,130.25 363.9,130.06 364.31,129.87 364.73,129.68 365.14,129.5 365.55,129.32 365.96,129.14 366.38,128.98 366.79,128.82 367.2,128.67 367.61,128.53 368.03,128.39 368.44,128.26 368.85,128.14 369.26,128.01 369.68,127.89 370.09,127.77 370.5,127.65 370.91,127.53 371.33,127.4 371.74,127.27 372.15,127.13 372.56,126.99 372.98,126.84 373.39,126.68 373.8,126.52 374.21,126.34 374.63,126.15 375.04,125.95 375.45,125.74 375.86,125.52 376.28,125.3 376.69,125.06 377.1,124.83 377.51,124.59 377.93,124.35 378.34,124.11 378.75,123.87 379.16,123.63 379.58,123.39 379.99,123.15 380.4,122.92 380.81,122.69 381.23,122.47 381.64,122.24 382.05,122.02 382.46,121.79 382.88,121.57 383.29,121.34 383.7,121.11 384.11,120.87 384.53,120.64 384.94,120.4 385.35,120.15 385.76,119.9 386.18,119.64 386.59,119.38 387,119.1 387.41,118.83 387.83,118.55 388.24,118.27 388.65,117.99 389.06,117.7 389.48,117.4 389.89,117.1 390.3,116.78 390.71,116.46 391.13,116.13 391.54,115.79 391.95,115.43 392.36,115.06 392.78,114.68 393.19,114.28 393.6,113.85 394.01,113.35 394.43,112.82 394.84,112.25 395.25,111.68 395.66,111.13 396.08,110.6 396.49,110.12 396.9,109.68 397.31,109.28 397.73,108.89 398.14,108.51 398.55,108.12 398.96,107.72 399.38,107.28 399.79,106.8 400.2,106.28 400.61,105.73 401.03,105.15 401.44,104.54 401.85,103.9 402.26,103.24 402.68,102.56 403.09,101.86 403.5,101.12 403.91,100.34 404.33,99.53 404.74,98.69 405.15,97.83 405.56,96.96 405.98,96.09 406.39,95.21 406.8,94.34 407.21,93.46 407.63,92.57 408.04,91.67 408.45,90.74 408.86,89.8 409.28,88.82 409.69,87.81 410.1,86.77 410.51,85.71 410.93,84.61 411.34,83.48 411.75,82.32 412.16,81.13 412.58,79.9 412.99,78.64 413.4,77.34 413.81,76 414.23,74.62 414.64,73.2 415.05,71.73 415.46,70.22 415.88,68.66 416.29,67.06 416.7,65.38 417.11,63.62 417.53,61.8 417.94,59.92 418.35,58.02 418.76,56.09 419.18,54.15 419.59,52.22 420,50.31 420.41,48.43 420.83,46.55 421.24,44.64 421.65,42.68 422.06,40.64 422.48,38.51 422.89,36.24 423.3,33.83 423.71,31.23 424.13,28.46 424.54,25.53 424.95,22.45 425.36,19.25 425.78,15.95" fill="none" stroke="#0099ff" stroke-width="0.9" stroke-linejoin="round"/>
<g><polygon points="271.5,140.87 273.34,137.25 269.66,137.25" fill="#0099ff"/><polygon points="274.8,140.87 276.64,137.25 272.96,137.25" fill="#0099ff"/><polygon points="278.1,140.86 279.94,137.24 276.26,137.24" fill="#0099ff"/><polygon points="281.4,140.84 283.24,137.22 279.56,137.22" fill="#0099ff"/><polygon points="284.7,140.82 286.54,137.2 282.86,137.2" fill="#0099ff"/><polygon points="288,140.8 289.84,137.17 286.16,137.17" fill="#0099ff"/><polygon points="291.3,140.76 293.14,137.14 289.46,137.14" fill="#0099ff"/><polygon points="294.6,140.7 296.44,137.08 292.76,137.08" fill="#0099ff"/><polygon points="297.9,140.62 299.74,137 296.06,137" fill="#0099ff"/><polygon points="301.2,140.52 303.04,136.9 299.36,136.9" fill="#0099ff"/><polygon points="304.5,140.4 306.34,136.78 302.66,136.78" fill="#0099ff"/><polygon points="307.8,140.26 309.64,136.64 305.96,136.64" fill="#0099ff"/><polygon points="311.1,140.11 312.94,136.49 309.26,136.49" fill="#0099ff"/><polygon points="314.4,139.94 316.24,136.32 312.56,136.32" fill="#0099ff"/><polygon points="317.7,139.76 319.54,136.14 315.86,136.14" fill="#0099ff"/><polygon points="321,139.57 322.84,135.95 319.16,135.95" fill="#0099ff"/><polygon points="324.3,139.37 326.14,135.75 322.46,135.75" fill="#0099ff"/><polygon points="327.6,139.17 329.44,135.54 325.76,135.54" fill="#0099ff"/><polygon points="330.9,138.95 332.74,135.33 329.06,135.33" fill="#0099ff"/><polygon points="334.2,138.68 336.04,135.06 332.36,135.06" fill="#0099ff"/><polygon points="337.5,138.36 339.34,134.74 335.66,134.74" fill="#0099ff"/><polygon points="340.8,137.97 342.64,134.35 338.96,134.35" fill="#0099ff"/><polygon points="344.1,137.52 345.94,133.9 342.26,133.9" fill="#0099ff"/><polygon points="347.4,136.99 349.24,133.37 345.56,133.37" fill="#0099ff"/><polygon points="350.7,136.32 352.54,132.69 348.86,132.69" fill="#0099ff"/><polygon points="354,135.52 355.84,131.9 352.16,131.9" fill="#0099ff"/><polygon points="357.3,134.6 359.14,130.98 355.46,130.98" fill="#0099ff"/><polygon points="360.6,133.53 362.44,129.91 358.76,129.91" fill="#0099ff"/><polygon points="363.9,132.07 365.74,128.45 362.06,128.45" fill="#0099ff"/><polygon points="367.2,130.68 369.04,127.06 365.36,127.06" fill="#0099ff"/><polygon points="370.5,129.66 372.34,126.04 368.66,126.04" fill="#0099ff"/><polygon points="373.8,128.53 375.64,124.91 371.96,124.91" fill="#0099ff"/><polygon points="377.1,126.84 378.94,123.22 375.26,123.22" fill="#0099ff"/><polygon points="380.4,124.93 382.24,121.31 378.56,121.31" fill="#0099ff"/><polygon points="383.7,123.12 385.54,119.5 381.86,119.5" fill="#0099ff"/><polygon points="387,121.12 388.84,117.49 385.16,117.49" fill="#0099ff"/><polygon points="390.3,118.8 392.14,115.17 388.46,115.17" fill="#0099ff"/><polygon points="393.6,115.86 395.44,112.24 391.76,112.24" fill="#0099ff"/><polygon points="396.9,111.69 398.74,108.07 395.06,108.07" fill="#0099ff"/><polygon points="400.2,108.3 402.04,104.67 398.36,104.67" fill="#0099ff"/><polygon points="403.5,103.13 405.34,99.51 401.66,99.51" fill="#0099ff"/><polygon points="406.8,96.35 408.64,92.73 404.96,92.73" fill="#0099ff"/><polygon points="410.1,88.79 411.94,85.16 408.26,85.16" fill="#0099ff"/><polygon points="413.4,79.35 415.24,75.73 411.56,75.73" fill="#0099ff"/><polygon points="416.7,67.39 418.54,63.77 414.86,63.77" fill="#0099ff"/><polygon points="420,52.33 421.84,48.7 418.16,48.7" fill="#0099ff"/><polygon points="423.3,35.84 425.14,32.22 421.46,32.22" fill="#0099ff"/></g>
</g>
<path d="M271.5 35.5H436.5M287.5 16.5V149.5" stroke="#231f20" stroke-width="1.0"/>
<rect x="271.5" y="16.5" width="165" height="133" fill="none" stroke="#231f20" stroke-width="1.0"/>
<path d="M288 149.5v2.5M321 149.5v2.5M354 149.5v2.5M387 149.5v2.5M420 149.5v2.5M271.5 149.5v1.5M304.5 149.5v1.5M337.5 149.5v1.5M370.5 149.5v1.5M403.5 149.5v1.5M436.5 149.5v1.5" stroke="#231f20" stroke-width="1.0" fill="none"/>
<text x="288" y="161" font-size="9.0" text-anchor="middle" fill="#231f20">0.0</text>
<text x="321" y="161" font-size="9.0" text-anchor="middle" fill="#231f20">0.2</text>
<text x="354" y="161" font-size="9.0" text-anchor="middle" fill="#231f20">0.4</text>
<text x="387" y="161" font-size="9.0" text-anchor="middle" fill="#231f20">0.6</text>
<text x="420" y="161" font-size="9.0" text-anchor="middle" fill="#231f20">0.8</text>
<path d="M271.5 149.5h-2.5M271.5 111.5h-2.5M271.5 73.5h-2.5M271.5 35.5h-2.5M271.5 130.5h-1.5M271.5 92.5h-1.5M271.5 54.5h-1.5M271.5 16.5h-1.5" stroke="#231f20" stroke-width="1.0" fill="none"/>
<text x="267.5" y="152.7" font-size="9.0" text-anchor="end" fill="#231f20">-30</text>
<text x="267.5" y="114.7" font-size="9.0" text-anchor="end" fill="#231f20">-20</text>
<text x="267.5" y="76.7" font-size="9.0" text-anchor="end" fill="#231f20">-10</text>
<text x="267.5" y="38.7" font-size="9.0" text-anchor="end" fill="#231f20">0</text>
<text x="351" y="173.6" font-size="11.5" text-anchor="middle" fill="#231f20">Voltage (V)</text>
<text transform="translate(249.5,83) rotate(-90)" font-size="11.3" text-anchor="middle" fill="#231f20">Current Density (mA cm<tspan font-size="8" dy="-4.2">-2</tspan><tspan dy="4.2">)</tspan></text>
<path d="M300 47.3H318.6" stroke="#ff9933" stroke-width="0.9"/>
<rect x="307.5" y="45.6" width="3.4" height="3.4" fill="#ff9933"/>
<text x="320.5" y="50.4" font-size="8.7" fill="#231f20">53 nm</text>
<path d="M300 58.17H318.6" stroke="#ff33ff" stroke-width="0.9"/>
<circle cx="309.2" cy="58.17" r="1.7" fill="#ff33ff"/>
<text x="320.5" y="61.27" font-size="8.7" fill="#231f20">75 nm</text>
<path d="M300 69.04H318.6" stroke="#9933ff" stroke-width="0.9"/>
<polygon points="309.2,67.08 310.99,70.6 307.41,70.6" fill="#9933ff"/>
<text x="320.5" y="72.14" font-size="8.7" fill="#231f20">135 nm</text>
<path d="M300 79.91H318.6" stroke="#0099ff" stroke-width="0.9"/>
<polygon points="309.2,81.86 310.99,78.35 307.41,78.35" fill="#0099ff"/>
<text x="320.5" y="83.01" font-size="8.7" fill="#231f20">212 nm</text>
<clipPath id="cc"><rect x="491.5" y="14.0" width="165.39999999999998" height="135.5"/></clipPath>
<g clip-path="url(#cc)">
<polyline points="491.5,149.5 492.45,149.5 493.39,149.5 494.34,149.49 495.28,149.48 496.23,149.46 497.17,149.43 498.12,149.38 499.06,149.32 500.01,149.23 500.95,149.12 501.9,149.01 502.84,148.88 503.79,148.73 504.73,148.58 505.68,148.41 506.62,148.23 507.57,148.04 508.51,147.84 509.46,147.64 510.4,147.44 511.35,147.23 512.29,147.03 513.24,146.82 514.18,146.6 515.13,146.36 516.07,146.1 517.02,145.83 517.96,145.55 518.91,145.24 519.85,144.93 520.8,144.59 521.74,144.23 522.69,143.84 523.63,143.43 524.58,142.98 525.53,142.51 526.47,142 527.42,141.46 528.36,140.88 529.31,140.27 530.25,139.63 531.2,138.97 532.14,138.29 533.09,137.58 534.03,136.86 534.98,136.12 535.92,135.37 536.87,134.6 537.81,133.82 538.76,133.03 539.7,132.24 540.65,131.44 541.59,130.63 542.54,129.82 543.48,129.01 544.43,128.19 545.37,127.35 546.32,126.5 547.26,125.64 548.21,124.77 549.15,123.88 550.1,122.98 551.04,122.08 551.99,121.16 552.93,120.23 553.88,119.29 554.82,118.35 555.77,117.4 556.71,116.44 557.66,115.48 558.61,114.51 559.55,113.53 560.5,112.54 561.44,111.54 562.39,110.53 563.33,109.51 564.28,108.48 565.22,107.44 566.17,106.4 567.11,105.33 568.06,104.26 569,103.17 569.95,102.08 570.89,100.97 571.84,99.87 572.78,98.78 573.73,97.71 574.67,96.65 575.62,95.6 576.56,94.58 577.51,93.58 578.45,92.6 579.4,91.62 580.34,90.65 581.29,89.69 582.23,88.75 583.18,87.81 584.12,86.88 585.07,85.96 586.01,85.05 586.96,84.15 587.9,83.27 588.85,82.39 589.79,81.53 590.74,80.67 591.69,79.81 592.63,78.94 593.58,78.06 594.52,77.16 595.47,76.26 596.41,75.38 597.36,74.53 598.3,73.72 599.25,72.97 600.19,72.24 601.14,71.5 602.08,70.72 603.03,69.89 603.97,68.99 604.92,68.03 605.86,67.04 606.81,66.02 607.75,64.99 608.7,63.97 609.64,62.94 610.59,61.92 611.53,60.91 612.48,59.91 613.42,58.92 614.37,57.95 615.31,56.98 616.26,56.02 617.2,55.04 618.15,54.08 619.09,53.13 620.04,52.21 620.98,51.31 621.93,50.45 622.87,49.61 623.82,48.82 624.77,48.06 625.71,47.34 626.66,46.65 627.6,46 628.55,45.39 629.49,44.85 630.44,44.37 631.38,43.94 632.33,43.57 633.27,43.26 634.22,42.99 635.16,42.77 636.11,42.6 637.05,42.45 638,42.34 638.94,42.25 639.89,42.19 640.83,42.14 641.78,42.11 642.72,42.09 643.67,42.07 644.61,42.06 645.56,42.05 646.5,42.04 647.45,42.04 648.39,42.03 649.34,42.03 650.28,42.02 651.23,42.02 652.17,42.01 653.12,42.01 654.06,42.01 655.01,42 655.95,42 656.9,42" fill="none" stroke="#ff9933" stroke-width="1.1" stroke-linejoin="round"/>
<polyline points="491.5,149.5 492.45,149.5 493.39,149.5 494.34,149.49 495.28,149.48 496.23,149.45 497.17,149.41 498.12,149.35 499.06,149.26 500.01,149.15 500.95,149.03 501.9,148.89 502.84,148.74 503.79,148.57 504.73,148.4 505.68,148.21 506.62,148.02 507.57,147.81 508.51,147.6 509.46,147.38 510.4,147.16 511.35,146.93 512.29,146.71 513.24,146.48 514.18,146.23 515.13,145.95 516.07,145.66 517.02,145.35 517.96,145.02 518.91,144.69 519.85,144.33 520.8,143.97 521.74,143.58 522.69,143.18 523.63,142.76 524.58,142.32 525.53,141.86 526.47,141.38 527.42,140.86 528.36,140.31 529.31,139.73 530.25,139.12 531.2,138.49 532.14,137.84 533.09,137.16 534.03,136.47 534.98,135.76 535.92,135.03 536.87,134.29 537.81,133.53 538.76,132.76 539.7,131.97 540.65,131.17 541.59,130.35 542.54,129.52 543.48,128.68 544.43,127.81 545.37,126.92 546.32,126.02 547.26,125.09 548.21,124.14 549.15,123.17 550.1,122.18 551.04,121.19 551.99,120.18 552.93,119.16 553.88,118.14 554.82,117.11 555.77,116.07 556.71,115.03 557.66,113.99 558.61,112.94 559.55,111.89 560.5,110.83 561.44,109.76 562.39,108.68 563.33,107.6 564.28,106.52 565.22,105.43 566.17,104.34 567.11,103.25 568.06,102.16 569,101.06 569.95,99.96 570.89,98.86 571.84,97.76 572.78,96.65 573.73,95.54 574.67,94.42 575.62,93.3 576.56,92.17 577.51,91.04 578.45,89.91 579.4,88.78 580.34,87.64 581.29,86.5 582.23,85.37 583.18,84.23 584.12,83.1 585.07,81.97 586.01,80.86 586.96,79.76 587.9,78.67 588.85,77.61 589.79,76.57 590.74,75.54 591.69,74.51 592.63,73.49 593.58,72.45 594.52,71.4 595.47,70.35 596.41,69.33 597.36,68.35 598.3,67.44 599.25,66.58 600.19,65.76 601.14,64.93 602.08,64.07 603.03,63.15 603.97,62.17 604.92,61.14 605.86,60.08 606.81,59 607.75,57.94 608.7,56.87 609.64,55.82 610.59,54.79 611.53,53.78 612.48,52.79 613.42,51.83 614.37,50.89 615.31,49.98 616.26,49.1 617.2,48.23 618.15,47.38 619.09,46.55 620.04,45.74 620.98,44.96 621.93,44.21 622.87,43.52 623.82,42.86 624.77,42.23 625.71,41.64 626.66,41.09 627.6,40.56 628.55,40.07 629.49,39.61 630.44,39.2 631.38,38.86 632.33,38.57 633.27,38.33 634.22,38.13 635.16,37.96 636.11,37.81 637.05,37.7 638,37.6 638.94,37.53 639.89,37.48 640.83,37.45 641.78,37.42 642.72,37.4 643.67,37.39 644.61,37.38 645.56,37.37 646.5,37.36 647.45,37.36 648.39,37.35 649.34,37.34 650.28,37.34 651.23,37.33 652.17,37.33 653.12,37.33 654.06,37.32 655.01,37.32 655.95,37.32 656.9,37.32" fill="none" stroke="#9933ff" stroke-width="1.1" stroke-linejoin="round"/>
<polyline points="491.5,149.5 492.45,149.5 493.39,149.5 494.34,149.49 495.28,149.48 496.23,149.45 497.17,149.4 498.12,149.34 499.06,149.25 500.01,149.14 500.95,149.01 501.9,148.87 502.84,148.72 503.79,148.56 504.73,148.39 505.68,148.21 506.62,148.01 507.57,147.8 508.51,147.57 509.46,147.34 510.4,147.09 511.35,146.85 512.29,146.6 513.24,146.34 514.18,146.06 515.13,145.75 516.07,145.42 517.02,145.06 517.96,144.69 518.91,144.3 519.85,143.88 520.8,143.44 521.74,142.98 522.69,142.49 523.63,141.98 524.58,141.43 525.53,140.85 526.47,140.23 527.42,139.58 528.36,138.9 529.31,138.2 530.25,137.46 531.2,136.71 532.14,135.95 533.09,135.18 534.03,134.39 534.98,133.6 535.92,132.8 536.87,132 537.81,131.19 538.76,130.38 539.7,129.57 540.65,128.75 541.59,127.92 542.54,127.09 543.48,126.25 544.43,125.4 545.37,124.54 546.32,123.67 547.26,122.77 548.21,121.87 549.15,120.95 550.1,120.02 551.04,119.08 551.99,118.13 552.93,117.16 553.88,116.19 554.82,115.21 555.77,114.23 556.71,113.23 557.66,112.24 558.61,111.23 559.55,110.22 560.5,109.2 561.44,108.17 562.39,107.13 563.33,106.09 564.28,105.03 565.22,103.98 566.17,102.91 567.11,101.85 568.06,100.77 569,99.69 569.95,98.6 570.89,97.51 571.84,96.41 572.78,95.31 573.73,94.2 574.67,93.09 575.62,91.98 576.56,90.86 577.51,89.74 578.45,88.62 579.4,87.5 580.34,86.39 581.29,85.28 582.23,84.17 583.18,83.07 584.12,81.98 585.07,80.9 586.01,79.84 586.96,78.78 587.9,77.75 588.85,76.74 589.79,75.74 590.74,74.76 591.69,73.79 592.63,72.8 593.58,71.81 594.52,70.8 595.47,69.79 596.41,68.81 597.36,67.88 598.3,67 599.25,66.18 600.19,65.39 601.14,64.6 602.08,63.77 603.03,62.9 603.97,61.96 604.92,60.98 605.86,59.97 606.81,58.95 607.75,57.94 608.7,56.93 609.64,55.93 610.59,54.93 611.53,53.95 612.48,52.98 613.42,52.03 614.37,51.08 615.31,50.14 616.26,49.2 617.2,48.26 618.15,47.31 619.09,46.36 620.04,45.41 620.98,44.45 621.93,43.5 622.87,42.55 623.82,41.61 624.77,40.68 625.71,39.77 626.66,38.89 627.6,38.06 628.55,37.28 629.49,36.58 630.44,35.97 631.38,35.45 632.33,35 633.27,34.62 634.22,34.29 635.16,34.03 636.11,33.83 637.05,33.67 638,33.54 638.94,33.44 639.89,33.36 640.83,33.3 641.78,33.26 642.72,33.23 643.67,33.2 644.61,33.19 645.56,33.17 646.5,33.16 647.45,33.15 648.39,33.14 649.34,33.13 650.28,33.12 651.23,33.11 652.17,33.11 653.12,33.1 654.06,33.09 655.01,33.09 655.95,33.08 656.9,33.08" fill="none" stroke="#0099ff" stroke-width="1.1" stroke-linejoin="round"/>
<polyline points="491.5,149.5 492.45,149.5 493.39,149.5 494.34,149.49 495.28,149.49 496.23,149.47 497.17,149.44 498.12,149.4 499.06,149.34 500.01,149.26 500.95,149.17 501.9,149.06 502.84,148.95 503.79,148.82 504.73,148.68 505.68,148.52 506.62,148.35 507.57,148.16 508.51,147.97 509.46,147.77 510.4,147.56 511.35,147.36 512.29,147.16 513.24,146.96 514.18,146.74 515.13,146.49 516.07,146.23 517.02,145.96 517.96,145.67 518.91,145.36 519.85,145.04 520.8,144.7 521.74,144.34 522.69,143.96 523.63,143.56 524.58,143.13 525.53,142.67 526.47,142.17 527.42,141.64 528.36,141.06 529.31,140.44 530.25,139.78 531.2,139.09 532.14,138.37 533.09,137.62 534.03,136.84 534.98,136.03 535.92,135.19 536.87,134.34 537.81,133.48 538.76,132.59 539.7,131.69 540.65,130.78 541.59,129.85 542.54,128.91 543.48,127.95 544.43,126.98 545.37,126 546.32,125.01 547.26,124 548.21,122.97 549.15,121.94 550.1,120.89 551.04,119.83 551.99,118.76 552.93,117.68 553.88,116.59 554.82,115.5 555.77,114.4 556.71,113.3 557.66,112.19 558.61,111.08 559.55,109.96 560.5,108.84 561.44,107.7 562.39,106.56 563.33,105.41 564.28,104.26 565.22,103.11 566.17,101.95 567.11,100.78 568.06,99.62 569,98.45 569.95,97.27 570.89,96.1 571.84,94.92 572.78,93.74 573.73,92.56 574.67,91.37 575.62,90.18 576.56,88.99 577.51,87.81 578.45,86.62 579.4,85.45 580.34,84.27 581.29,83.11 582.23,81.95 583.18,80.81 584.12,79.67 585.07,78.55 586.01,77.45 586.96,76.36 587.9,75.29 588.85,74.24 589.79,73.21 590.74,72.19 591.69,71.18 592.63,70.16 593.58,69.13 594.52,68.08 595.47,67.04 596.41,66.02 597.36,65.04 598.3,64.12 599.25,63.26 600.19,62.43 601.14,61.6 602.08,60.73 603.03,59.81 603.97,58.81 604.92,57.77 605.86,56.7 606.81,55.61 607.75,54.53 608.7,53.44 609.64,52.37 610.59,51.31 611.53,50.27 612.48,49.24 613.42,48.24 614.37,47.25 615.31,46.29 616.26,45.33 617.2,44.4 618.15,43.49 619.09,42.61 620.04,41.76 620.98,40.94 621.93,40.16 622.87,39.42 623.82,38.73 624.77,38.07 625.71,37.45 626.66,36.86 627.6,36.31 628.55,35.81 629.49,35.36 630.44,34.96 631.38,34.62 632.33,34.33 633.27,34.09 634.22,33.89 635.16,33.71 636.11,33.57 637.05,33.45 638,33.36 638.94,33.29 639.89,33.24 640.83,33.2 641.78,33.18 642.72,33.16 643.67,33.15 644.61,33.14 645.56,33.13 646.5,33.12 647.45,33.12 648.39,33.11 649.34,33.1 650.28,33.1 651.23,33.1 652.17,33.09 653.12,33.09 654.06,33.08 655.01,33.08 655.95,33.08 656.9,33.08" fill="none" stroke="#ff33ff" stroke-width="1.1" stroke-linejoin="round"/>
<polyline points="491.5,149.5 491.97,146.61 492.45,143.88 492.92,141.33 493.39,139.01 493.86,136.98 494.34,135.2 494.81,133.52 495.28,131.79 495.75,129.85 496.23,127.57 496.7,124.94 497.17,122.09 497.64,119.12 498.12,116.14 498.59,113.25 499.06,110.33 499.53,107.38 500.01,104.43 500.48,101.53 500.95,98.7 501.42,95.8 501.9,92.87 502.37,90.04 502.84,87.43 503.31,85.2 503.79,83.27 504.26,81.38 504.73,79.67 505.2,78.3 505.68,77.43 506.15,77.05 506.62,76.74 507.09,76.48 507.57,76.26 508.04,76.1 508.51,76 508.99,75.96 509.46,75.99 509.93,76.09 510.4,76.24 510.88,76.43 511.35,76.65 511.82,76.87 512.29,77.09 512.77,77.3 513.24,77.53 513.71,77.81 514.18,78.09 514.66,78.32 515.13,78.46 515.6,78.46 516.07,78.32 516.55,78.06 517.02,77.69 517.49,77.23 517.96,76.68 518.44,76.07 518.91,75.42 519.38,74.72 519.85,74.01 520.33,73.26 520.8,72.26 521.27,71.03 521.74,69.69 522.22,68.35 522.69,67.12 523.16,66 523.63,64.86 524.11,63.71 524.58,62.55 525.05,61.39 525.53,60.24 526,59.1 526.47,57.99 526.94,56.91 527.42,55.87 527.89,54.87 528.36,53.92 528.83,53.04 529.31,52.23 529.78,51.49 530.25,50.83 530.72,50.25 531.2,49.66 531.67,49.07 532.14,48.49 532.61,47.92 533.09,47.37 533.56,46.84 534.03,46.34 534.5,45.88 534.98,45.45 535.45,45.07 535.92,44.74 536.39,44.47 536.87,44.26 537.34,44.11 537.81,44.04 538.28,44.04 538.76,44.13 539.23,44.3 539.7,44.52 540.17,44.79 540.65,45.09 541.12,45.42 541.59,45.74 542.07,46.06 542.54,46.36 543.01,46.63 543.48,46.85 543.96,47.02 544.43,47.17 544.9,47.33 545.37,47.49 545.85,47.64 546.32,47.79 546.79,47.94 547.26,48.08 547.74,48.21 548.21,48.33 548.68,48.44 549.15,48.54 549.63,48.63 550.1,48.7 550.57,48.75 551.04,48.78 551.52,48.8 551.99,48.8 552.46,48.78 552.93,48.75 553.41,48.71 553.88,48.65 554.35,48.58 554.82,48.51 555.3,48.42 555.77,48.32 556.24,48.21 556.71,48.09 557.19,47.97 557.66,47.83 558.13,47.69 558.61,47.54 559.08,47.39 559.55,47.23 560.02,47.06 560.5,46.89 560.97,46.71 561.44,46.53 561.91,46.35 562.39,46.16 562.86,45.97 563.33,45.77 563.8,45.48 564.28,45.11 564.75,44.68 565.22,44.21 565.69,43.69 566.17,43.15 566.64,42.61 567.11,42.06 567.58,41.54 568.06,41.05 568.53,40.6 569,40.21 569.47,39.9 569.95,39.67 570.42,39.55 570.89,39.56 571.36,39.88 571.84,40.49 572.31,41.31 572.78,42.28 573.25,43.3 573.73,44.3 574.2,45.23 574.67,46.28 575.15,47.47 575.62,48.73 576.09,49.99 576.56,51.19 577.04,52.25 577.51,53.1 577.98,53.7 578.45,54.19 578.93,54.67 579.4,55.13 579.87,55.56 580.34,55.96 580.82,56.32 581.29,56.64 581.76,56.91 582.23,57.13 582.71,57.29 583.18,57.38 583.65,57.41 584.12,57.39 584.6,57.32 585.07,57.23 585.54,57.1 586.01,56.94 586.49,56.76 586.96,56.57 587.43,56.35 587.9,56.12 588.38,55.89 588.85,55.65 589.32,55.41 589.79,55.17 590.27,54.94 590.74,54.72 591.21,54.51 591.69,54.31 592.16,54.11 592.63,53.91 593.1,53.71 593.58,53.5 594.05,53.3 594.52,53.09 594.99,52.88 595.47,52.67 595.94,52.45 596.41,52.23 596.88,52.01 597.36,51.78 597.83,51.55 598.3,51.32 598.77,51.08 599.25,50.83 599.72,50.58 600.19,50.32 600.66,50.06 601.14,49.79 601.61,49.49 602.08,49.14 602.55,48.76 603.03,48.36 603.5,47.93 603.97,47.48 604.44,47.03 604.92,46.57 605.39,46.11 605.86,45.67 606.33,45.23 606.81,44.82 607.28,44.43 607.75,44.08 608.23,43.76 608.7,43.49 609.17,43.27 609.64,43.1 610.12,43 610.59,42.97 611.06,42.97 611.53,42.97 612.01,42.97 612.48,42.97 612.95,42.97 613.42,42.97 613.9,42.97 614.37,42.97 614.84,42.97 615.31,42.97 615.79,42.97 616.26,42.97 616.73,43.01 617.2,43.4 617.68,44.14 618.15,45.18 618.62,46.45 619.09,47.89 619.57,49.46 620.04,51.08 620.51,52.71 620.98,54.27 621.46,55.87 621.93,57.69 622.4,59.66 622.87,61.69 623.35,63.72 623.82,65.66 624.29,67.45 624.77,69.15 625.24,70.82 625.71,72.49 626.18,74.22 626.66,76.07 627.13,78.07 627.6,80.31 628.07,82.73 628.55,85.26 629.02,87.85 629.49,90.41 629.96,92.89 630.44,95.29 630.91,97.67 631.38,100.05 631.85,102.44 632.33,104.87 632.8,107.35 633.27,109.97 633.74,112.7 634.22,115.45 634.69,118.16 635.16,120.74 635.63,123.11 636.11,125.35 636.58,127.52 637.05,129.61 637.52,131.56 638,133.34 638.47,134.93 638.94,136.38 639.41,137.78 639.89,139.13 640.36,140.38 640.83,141.53 641.31,142.56 641.78,143.43 642.25,144.14 642.72,144.73 643.2,145.28 643.67,145.8 644.14,146.29 644.61,146.73 645.09,147.12 645.56,147.47 646.03,147.76 646.5,147.98 646.98,148.15 647.45,148.27 647.92,148.37 648.39,148.46 648.87,148.55 649.34,148.62 649.81,148.69 650.28,148.75 650.76,148.8 651.23,148.85 651.7,148.9 652.17,148.94 652.65,148.98 653.12,149.02 653.59,149.05 654.06,149.09 654.54,149.12 655.01,149.15 655.48,149.18 655.95,149.2 656.43,149.22 656.9,149.24" fill="none" stroke="#ff9933" stroke-width="0.9" stroke-linejoin="round"/>
<g><circle cx="491.5" cy="149.5" r="1.6" fill="#ff9933"/><circle cx="493.86" cy="136.98" r="1.6" fill="#ff9933"/><circle cx="496.23" cy="127.57" r="1.6" fill="#ff9933"/><circle cx="498.59" cy="113.25" r="1.6" fill="#ff9933"/><circle cx="500.95" cy="98.7" r="1.6" fill="#ff9933"/><circle cx="503.31" cy="85.2" r="1.6" fill="#ff9933"/><circle cx="505.68" cy="77.43" r="1.6" fill="#ff9933"/><circle cx="508.04" cy="76.1" r="1.6" fill="#ff9933"/><circle cx="510.4" cy="76.24" r="1.6" fill="#ff9933"/><circle cx="512.77" cy="77.3" r="1.6" fill="#ff9933"/><circle cx="515.13" cy="78.46" r="1.6" fill="#ff9933"/><circle cx="517.49" cy="77.23" r="1.6" fill="#ff9933"/><circle cx="519.85" cy="74.01" r="1.6" fill="#ff9933"/><circle cx="522.22" cy="68.35" r="1.6" fill="#ff9933"/><circle cx="524.58" cy="62.55" r="1.6" fill="#ff9933"/><circle cx="526.94" cy="56.91" r="1.6" fill="#ff9933"/><circle cx="529.31" cy="52.23" r="1.6" fill="#ff9933"/><circle cx="531.67" cy="49.07" r="1.6" fill="#ff9933"/><circle cx="534.03" cy="46.34" r="1.6" fill="#ff9933"/><circle cx="536.39" cy="44.47" r="1.6" fill="#ff9933"/><circle cx="538.76" cy="44.13" r="1.6" fill="#ff9933"/><circle cx="541.12" cy="45.42" r="1.6" fill="#ff9933"/><circle cx="543.48" cy="46.85" r="1.6" fill="#ff9933"/><circle cx="545.85" cy="47.64" r="1.6" fill="#ff9933"/><circle cx="548.21" cy="48.33" r="1.6" fill="#ff9933"/><circle cx="550.57" cy="48.75" r="1.6" fill="#ff9933"/><circle cx="552.93" cy="48.75" r="1.6" fill="#ff9933"/><circle cx="555.3" cy="48.42" r="1.6" fill="#ff9933"/><circle cx="557.66" cy="47.83" r="1.6" fill="#ff9933"/><circle cx="560.02" cy="47.06" r="1.6" fill="#ff9933"/><circle cx="562.39" cy="46.16" r="1.6" fill="#ff9933"/><circle cx="564.75" cy="44.68" r="1.6" fill="#ff9933"/><circle cx="567.11" cy="42.06" r="1.6" fill="#ff9933"/><circle cx="569.47" cy="39.9" r="1.6" fill="#ff9933"/><circle cx="571.84" cy="40.49" r="1.6" fill="#ff9933"/><circle cx="574.2" cy="45.23" r="1.6" fill="#ff9933"/><circle cx="576.56" cy="51.19" r="1.6" fill="#ff9933"/><circle cx="578.93" cy="54.67" r="1.6" fill="#ff9933"/><circle cx="581.29" cy="56.64" r="1.6" fill="#ff9933"/><circle cx="583.65" cy="57.41" r="1.6" fill="#ff9933"/><circle cx="586.01" cy="56.94" r="1.6" fill="#ff9933"/><circle cx="588.38" cy="55.89" r="1.6" fill="#ff9933"/><circle cx="590.74" cy="54.72" r="1.6" fill="#ff9933"/><circle cx="593.1" cy="53.71" r="1.6" fill="#ff9933"/><circle cx="595.47" cy="52.67" r="1.6" fill="#ff9933"/><circle cx="597.83" cy="51.55" r="1.6" fill="#ff9933"/><circle cx="600.19" cy="50.32" r="1.6" fill="#ff9933"/><circle cx="602.55" cy="48.76" r="1.6" fill="#ff9933"/><circle cx="604.92" cy="46.57" r="1.6" fill="#ff9933"/><circle cx="607.28" cy="44.43" r="1.6" fill="#ff9933"/><circle cx="609.64" cy="43.1" r="1.6" fill="#ff9933"/><circle cx="612.01" cy="42.97" r="1.6" fill="#ff9933"/><circle cx="614.37" cy="42.97" r="1.6" fill="#ff9933"/><circle cx="616.73" cy="43.01" r="1.6" fill="#ff9933"/><circle cx="619.09" cy="47.89" r="1.6" fill="#ff9933"/><circle cx="621.46" cy="55.87" r="1.6" fill="#ff9933"/><circle cx="623.82" cy="65.66" r="1.6" fill="#ff9933"/><circle cx="626.18" cy="74.22" r="1.6" fill="#ff9933"/><circle cx="628.55" cy="85.26" r="1.6" fill="#ff9933"/><circle cx="630.91" cy="97.67" r="1.6" fill="#ff9933"/><circle cx="633.27" cy="109.97" r="1.6" fill="#ff9933"/><circle cx="635.63" cy="123.11" r="1.6" fill="#ff9933"/><circle cx="638" cy="133.34" r="1.6" fill="#ff9933"/><circle cx="640.36" cy="140.38" r="1.6" fill="#ff9933"/><circle cx="642.72" cy="144.73" r="1.6" fill="#ff9933"/><circle cx="645.09" cy="147.12" r="1.6" fill="#ff9933"/><circle cx="647.45" cy="148.27" r="1.6" fill="#ff9933"/><circle cx="649.81" cy="148.69" r="1.6" fill="#ff9933"/><circle cx="652.17" cy="148.94" r="1.6" fill="#ff9933"/><circle cx="654.54" cy="149.12" r="1.6" fill="#ff9933"/><circle cx="656.9" cy="149.24" r="1.6" fill="#ff9933"/></g>
<polyline points="491.5,149.5 491.97,147.51 492.45,145.53 492.92,143.58 493.39,141.65 493.86,139.77 494.34,137.95 494.81,136.14 495.28,134.28 495.75,132.33 496.23,130.25 496.7,128.07 497.17,125.8 497.64,123.43 498.12,120.96 498.59,118.36 499.06,115.46 499.53,112.38 500.01,109.27 500.48,106.33 500.95,103.7 501.42,101.32 501.9,99.09 502.37,96.95 502.84,94.83 503.31,92.68 503.79,90.35 504.26,87.75 504.73,85.17 505.2,82.93 505.68,81.31 506.15,80.38 506.62,79.56 507.09,78.82 507.57,78.2 508.04,77.73 508.51,77.41 508.99,77.29 509.46,77.33 509.93,77.46 510.4,77.66 510.88,77.88 511.35,78.1 511.82,78.3 512.29,78.43 512.77,78.48 513.24,78.45 513.71,78.38 514.18,78.26 514.66,78.11 515.13,77.93 515.6,77.73 516.07,77.51 516.55,77.29 517.02,77.01 517.49,76.64 517.96,76.19 518.44,75.68 518.91,75.12 519.38,74.54 519.85,73.94 520.33,73.34 520.8,72.71 521.27,72.04 521.74,71.33 522.22,70.58 522.69,69.77 523.16,68.91 523.63,67.98 524.11,66.99 524.58,65.83 525.05,64.51 525.53,63.07 526,61.54 526.47,59.97 526.94,58.38 527.42,56.81 527.89,55.31 528.36,53.9 528.83,52.57 529.31,51.2 529.78,49.8 530.25,48.38 530.72,46.96 531.2,45.54 531.67,44.14 532.14,42.77 532.61,41.45 533.09,40.19 533.56,39 534.03,37.89 534.5,36.89 534.98,35.99 535.45,35.21 535.92,34.57 536.39,34.05 536.87,33.56 537.34,33.07 537.81,32.6 538.28,32.15 538.76,31.72 539.23,31.32 539.7,30.95 540.17,30.61 540.65,30.32 541.12,30.07 541.59,29.87 542.07,29.72 542.54,29.62 543.01,29.59 543.48,29.62 543.96,29.72 544.43,29.89 544.9,30.1 545.37,30.34 545.85,30.62 546.32,30.91 546.79,31.2 547.26,31.5 547.74,31.78 548.21,32.03 548.68,32.24 549.15,32.42 549.63,32.53 550.1,32.63 550.57,32.73 551.04,32.83 551.52,32.93 551.99,33.02 552.46,33.11 552.93,33.19 553.41,33.28 553.88,33.35 554.35,33.43 554.82,33.49 555.3,33.56 555.77,33.61 556.24,33.67 556.71,33.71 557.19,33.75 557.66,33.78 558.13,33.8 558.61,33.82 559.08,33.83 559.55,33.83 560.02,33.82 560.5,33.8 560.97,33.78 561.44,33.75 561.91,33.72 562.39,33.68 562.86,33.64 563.33,33.6 563.8,33.55 564.28,33.5 564.75,33.45 565.22,33.41 565.69,33.36 566.17,33.31 566.64,33.26 567.11,33.22 567.58,33.18 568.06,33.14 568.53,33.11 569,33.08 569.47,33.06 569.95,33.04 570.42,33.03 570.89,33.04 571.36,33.07 571.84,33.13 572.31,33.21 572.78,33.32 573.25,33.45 573.73,33.59 574.2,33.75 574.67,33.91 575.15,34.07 575.62,34.24 576.09,34.4 576.56,34.59 577.04,34.83 577.51,35.09 577.98,35.37 578.45,35.67 578.93,35.97 579.4,36.26 579.87,36.54 580.34,36.79 580.82,37 581.29,37.17 581.76,37.29 582.23,37.38 582.71,37.47 583.18,37.56 583.65,37.64 584.12,37.72 584.6,37.8 585.07,37.87 585.54,37.93 586.01,37.99 586.49,38.04 586.96,38.09 587.43,38.13 587.9,38.16 588.38,38.18 588.85,38.2 589.32,38.2 589.79,38.2 590.27,38.2 590.74,38.2 591.21,38.2 591.69,38.2 592.16,38.2 592.63,38.2 593.1,38.2 593.58,38.2 594.05,38.2 594.52,38.2 594.99,38.2 595.47,38.2 595.94,38.2 596.41,38.2 596.88,38.2 597.36,38.2 597.83,38.2 598.3,38.2 598.77,38.2 599.25,38.2 599.72,38.21 600.19,38.22 600.66,38.24 601.14,38.26 601.61,38.29 602.08,38.33 602.55,38.37 603.03,38.41 603.5,38.46 603.97,38.51 604.44,38.57 604.92,38.63 605.39,38.7 605.86,38.77 606.33,38.84 606.81,38.92 607.28,39 607.75,39.09 608.23,39.18 608.7,39.27 609.17,39.39 609.64,39.54 610.12,39.73 610.59,39.95 611.06,40.21 611.53,40.5 612.01,40.83 612.48,41.19 612.95,41.59 613.42,42.02 613.9,42.48 614.37,42.97 614.84,43.61 615.31,44.47 615.79,45.54 616.26,46.76 616.73,48.1 617.2,49.53 617.68,51.01 618.15,52.49 618.62,54.05 619.09,55.79 619.57,57.67 620.04,59.64 620.51,61.68 620.98,63.73 621.46,65.84 621.93,68.1 622.4,70.44 622.87,72.77 623.35,75.04 623.82,77.15 624.29,79.07 624.77,80.84 625.24,82.51 625.71,84.16 626.18,85.85 626.66,87.64 627.13,89.59 627.6,91.71 628.07,93.97 628.55,96.32 629.02,98.72 629.49,101.12 629.96,103.48 630.44,105.87 630.91,108.32 631.38,110.74 631.85,113.08 632.33,115.26 632.8,117.32 633.27,119.32 633.74,121.25 634.22,123.11 634.69,124.92 635.16,126.68 635.63,128.38 636.11,130.07 636.58,131.73 637.05,133.34 637.52,134.87 638,136.29 638.47,137.57 638.94,138.79 639.41,140 639.89,141.18 640.36,142.29 640.83,143.31 641.31,144.2 641.78,144.93 642.25,145.48 642.72,145.89 643.2,146.27 643.67,146.61 644.14,146.93 644.61,147.21 645.09,147.46 645.56,147.67 646.03,147.86 646.5,148.02 646.98,148.15 647.45,148.26 647.92,148.36 648.39,148.45 648.87,148.53 649.34,148.61 649.81,148.67 650.28,148.74 650.76,148.79 651.23,148.85 651.7,148.89 652.17,148.94 652.65,148.98 653.12,149.02 653.59,149.05 654.06,149.09 654.54,149.12 655.01,149.15 655.48,149.18 655.95,149.2 656.43,149.22 656.9,149.24" fill="none" stroke="#ff33ff" stroke-width="0.9" stroke-linejoin="round"/>
<g><circle cx="491.5" cy="149.5" r="1.6" fill="#ff33ff"/><circle cx="493.86" cy="139.77" r="1.6" fill="#ff33ff"/><circle cx="496.23" cy="130.25" r="1.6" fill="#ff33ff"/><circle cx="498.59" cy="118.36" r="1.6" fill="#ff33ff"/><circle cx="500.95" cy="103.7" r="1.6" fill="#ff33ff"/><circle cx="503.31" cy="92.68" r="1.6" fill="#ff33ff"/><circle cx="505.68" cy="81.31" r="1.6" fill="#ff33ff"/><circle cx="508.04" cy="77.73" r="1.6" fill="#ff33ff"/><circle cx="510.4" cy="77.66" r="1.6" fill="#ff33ff"/><circle cx="512.77" cy="78.48" r="1.6" fill="#ff33ff"/><circle cx="515.13" cy="77.93" r="1.6" fill="#ff33ff"/><circle cx="517.49" cy="76.64" r="1.6" fill="#ff33ff"/><circle cx="519.85" cy="73.94" r="1.6" fill="#ff33ff"/><circle cx="522.22" cy="70.58" r="1.6" fill="#ff33ff"/><circle cx="524.58" cy="65.83" r="1.6" fill="#ff33ff"/><circle cx="526.94" cy="58.38" r="1.6" fill="#ff33ff"/><circle cx="529.31" cy="51.2" r="1.6" fill="#ff33ff"/><circle cx="531.67" cy="44.14" r="1.6" fill="#ff33ff"/><circle cx="534.03" cy="37.89" r="1.6" fill="#ff33ff"/><circle cx="536.39" cy="34.05" r="1.6" fill="#ff33ff"/><circle cx="538.76" cy="31.72" r="1.6" fill="#ff33ff"/><circle cx="541.12" cy="30.07" r="1.6" fill="#ff33ff"/><circle cx="543.48" cy="29.62" r="1.6" fill="#ff33ff"/><circle cx="545.85" cy="30.62" r="1.6" fill="#ff33ff"/><circle cx="548.21" cy="32.03" r="1.6" fill="#ff33ff"/><circle cx="550.57" cy="32.73" r="1.6" fill="#ff33ff"/><circle cx="552.93" cy="33.19" r="1.6" fill="#ff33ff"/><circle cx="555.3" cy="33.56" r="1.6" fill="#ff33ff"/><circle cx="557.66" cy="33.78" r="1.6" fill="#ff33ff"/><circle cx="560.02" cy="33.82" r="1.6" fill="#ff33ff"/><circle cx="562.39" cy="33.68" r="1.6" fill="#ff33ff"/><circle cx="564.75" cy="33.45" r="1.6" fill="#ff33ff"/><circle cx="567.11" cy="33.22" r="1.6" fill="#ff33ff"/><circle cx="569.47" cy="33.06" r="1.6" fill="#ff33ff"/><circle cx="571.84" cy="33.13" r="1.6" fill="#ff33ff"/><circle cx="574.2" cy="33.75" r="1.6" fill="#ff33ff"/><circle cx="576.56" cy="34.59" r="1.6" fill="#ff33ff"/><circle cx="578.93" cy="35.97" r="1.6" fill="#ff33ff"/><circle cx="581.29" cy="37.17" r="1.6" fill="#ff33ff"/><circle cx="583.65" cy="37.64" r="1.6" fill="#ff33ff"/><circle cx="586.01" cy="37.99" r="1.6" fill="#ff33ff"/><circle cx="588.38" cy="38.18" r="1.6" fill="#ff33ff"/><circle cx="590.74" cy="38.2" r="1.6" fill="#ff33ff"/><circle cx="593.1" cy="38.2" r="1.6" fill="#ff33ff"/><circle cx="595.47" cy="38.2" r="1.6" fill="#ff33ff"/><circle cx="597.83" cy="38.2" r="1.6" fill="#ff33ff"/><circle cx="600.19" cy="38.22" r="1.6" fill="#ff33ff"/><circle cx="602.55" cy="38.37" r="1.6" fill="#ff33ff"/><circle cx="604.92" cy="38.63" r="1.6" fill="#ff33ff"/><circle cx="607.28" cy="39" r="1.6" fill="#ff33ff"/><circle cx="609.64" cy="39.54" r="1.6" fill="#ff33ff"/><circle cx="612.01" cy="40.83" r="1.6" fill="#ff33ff"/><circle cx="614.37" cy="42.97" r="1.6" fill="#ff33ff"/><circle cx="616.73" cy="48.1" r="1.6" fill="#ff33ff"/><circle cx="619.09" cy="55.79" r="1.6" fill="#ff33ff"/><circle cx="621.46" cy="65.84" r="1.6" fill="#ff33ff"/><circle cx="623.82" cy="77.15" r="1.6" fill="#ff33ff"/><circle cx="626.18" cy="85.85" r="1.6" fill="#ff33ff"/><circle cx="628.55" cy="96.32" r="1.6" fill="#ff33ff"/><circle cx="630.91" cy="108.32" r="1.6" fill="#ff33ff"/><circle cx="633.27" cy="119.32" r="1.6" fill="#ff33ff"/><circle cx="635.63" cy="128.38" r="1.6" fill="#ff33ff"/><circle cx="638" cy="136.29" r="1.6" fill="#ff33ff"/><circle cx="640.36" cy="142.29" r="1.6" fill="#ff33ff"/><circle cx="642.72" cy="145.89" r="1.6" fill="#ff33ff"/><circle cx="645.09" cy="147.46" r="1.6" fill="#ff33ff"/><circle cx="647.45" cy="148.26" r="1.6" fill="#ff33ff"/><circle cx="649.81" cy="148.67" r="1.6" fill="#ff33ff"/><circle cx="652.17" cy="148.94" r="1.6" fill="#ff33ff"/><circle cx="654.54" cy="149.12" r="1.6" fill="#ff33ff"/><circle cx="656.9" cy="149.24" r="1.6" fill="#ff33ff"/></g>
<polyline points="491.5,149.5 491.97,145.52 492.45,141.75 492.92,138.25 493.39,135.07 493.86,132.29 494.34,129.81 494.81,127.48 495.28,125.14 495.75,122.62 496.23,119.81 496.7,116.77 497.17,113.59 497.64,110.35 498.12,107.14 498.59,104.04 499.06,100.98 499.53,97.94 500.01,94.93 500.48,91.94 500.95,88.97 501.42,85.67 501.9,82.22 502.37,78.94 502.84,76.18 503.31,74.28 503.79,73.23 504.26,72.37 504.73,71.67 505.2,71.13 505.68,70.75 506.15,70.5 506.62,70.32 507.09,70.18 507.57,70.05 508.04,69.91 508.51,69.77 508.99,69.65 509.46,69.52 509.93,69.4 510.4,69.29 510.88,69.17 511.35,69.05 511.82,68.93 512.29,68.8 512.77,68.67 513.24,68.53 513.71,68.4 514.18,68.26 514.66,68.12 515.13,67.98 515.6,67.84 516.07,67.69 516.55,67.54 517.02,67.39 517.49,67.23 517.96,67.06 518.44,66.88 518.91,66.7 519.38,66.51 519.85,66.32 520.33,66.13 520.8,65.93 521.27,65.73 521.74,65.51 522.22,65.29 522.69,65.04 523.16,64.77 523.63,64.48 524.11,64.17 524.58,63.83 525.05,63.45 525.53,62.99 526,62.36 526.47,61.61 526.94,60.77 527.42,59.9 527.89,59.05 528.36,58.26 528.83,57.53 529.31,56.81 529.78,56.07 530.25,55.34 530.72,54.61 531.2,53.9 531.67,53.19 532.14,52.51 532.61,51.85 533.09,51.21 533.56,50.61 534.03,50.05 534.5,49.52 534.98,49.01 535.45,48.51 535.92,48.02 536.39,47.55 536.87,47.09 537.34,46.64 537.81,46.21 538.28,45.78 538.76,45.37 539.23,44.97 539.7,44.59 540.17,44.21 540.65,43.85 541.12,43.5 541.59,43.15 542.07,42.82 542.54,42.47 543.01,42.12 543.48,41.75 543.96,41.38 544.43,41.02 544.9,40.67 545.37,40.32 545.85,40 546.32,39.69 546.79,39.42 547.26,39.17 547.74,38.96 548.21,38.8 548.68,38.68 549.15,38.61 549.63,38.6 550.1,38.61 550.57,38.62 551.04,38.64 551.52,38.67 551.99,38.71 552.46,38.74 552.93,38.79 553.41,38.83 553.88,38.88 554.35,38.93 554.82,38.97 555.3,39.02 555.77,39.07 556.24,39.11 556.71,39.15 557.19,39.18 557.66,39.21 558.13,39.24 558.61,39.25 559.08,39.26 559.55,39.26 560.02,39.26 560.5,39.26 560.97,39.26 561.44,39.26 561.91,39.26 562.39,39.26 562.86,39.26 563.33,39.26 563.8,39.26 564.28,39.26 564.75,39.26 565.22,39.26 565.69,39.26 566.17,39.26 566.64,39.26 567.11,39.26 567.58,39.26 568.06,39.26 568.53,39.26 569,39.26 569.47,39.26 569.95,39.26 570.42,39.26 570.89,39.26 571.36,39.26 571.84,39.26 572.31,39.26 572.78,39.26 573.25,39.26 573.73,39.26 574.2,39.26 574.67,39.26 575.15,39.26 575.62,39.26 576.09,39.26 576.56,39.26 577.04,39.26 577.51,39.26 577.98,39.26 578.45,39.22 578.93,39.13 579.4,38.99 579.87,38.82 580.34,38.62 580.82,38.38 581.29,38.13 581.76,37.86 582.23,37.58 582.71,37.3 583.18,37.01 583.65,36.73 584.12,36.47 584.6,36.22 585.07,36 585.54,35.8 586.01,35.64 586.49,35.52 586.96,35.44 587.43,35.42 587.9,35.43 588.38,35.45 588.85,35.49 589.32,35.54 589.79,35.61 590.27,35.68 590.74,35.77 591.21,35.86 591.69,35.96 592.16,36.07 592.63,36.18 593.1,36.3 593.58,36.41 594.05,36.53 594.52,36.65 594.99,36.77 595.47,36.89 595.94,37 596.41,37.11 596.88,37.21 597.36,37.3 597.83,37.39 598.3,37.48 598.77,37.56 599.25,37.64 599.72,37.72 600.19,37.79 600.66,37.87 601.14,37.94 601.61,38.02 602.08,38.11 602.55,38.19 603.03,38.28 603.5,38.38 603.97,38.48 604.44,38.59 604.92,38.71 605.39,38.84 605.86,38.97 606.33,39.12 606.81,39.29 607.28,39.48 607.75,39.71 608.23,39.98 608.7,40.3 609.17,40.65 609.64,41.03 610.12,41.45 610.59,41.91 611.06,42.4 611.53,42.92 612.01,43.48 612.48,44.06 612.95,44.77 613.42,45.66 613.9,46.7 614.37,47.86 614.84,49.09 615.31,50.36 615.79,51.64 616.26,52.9 616.73,54.1 617.2,55.27 617.68,56.43 618.15,57.61 618.62,58.83 619.09,60.12 619.57,61.5 620.04,62.99 620.51,64.65 620.98,66.65 621.46,68.93 621.93,71.36 622.4,73.79 622.87,76.1 623.35,78.14 623.82,80.02 624.29,81.81 624.77,83.54 625.24,85.23 625.71,86.9 626.18,88.57 626.66,90.14 627.13,91.61 627.6,93.04 628.07,94.48 628.55,95.99 629.02,97.62 629.49,99.42 629.96,101.47 630.44,104.14 630.91,107.28 631.38,110.39 631.85,113.01 632.33,115.25 632.8,117.34 633.27,119.3 633.74,121.17 634.22,122.96 634.69,124.7 635.16,126.41 635.63,128.12 636.11,129.85 636.58,131.56 637.05,133.24 637.52,134.82 638,136.28 638.47,137.57 638.94,138.77 639.41,139.94 639.89,141.07 640.36,142.12 640.83,143.09 641.31,143.94 641.78,144.66 642.25,145.21 642.72,145.65 643.2,146.06 643.67,146.44 644.14,146.79 644.61,147.1 645.09,147.38 645.56,147.63 646.03,147.84 646.5,148.01 646.98,148.15 647.45,148.26 647.92,148.36 648.39,148.45 648.87,148.53 649.34,148.61 649.81,148.68 650.28,148.74 650.76,148.8 651.23,148.85 651.7,148.89 652.17,148.94 652.65,148.98 653.12,149.02 653.59,149.05 654.06,149.09 654.54,149.12 655.01,149.15 655.48,149.18 655.95,149.2 656.43,149.22 656.9,149.24" fill="none" stroke="#9933ff" stroke-width="0.9" stroke-linejoin="round"/>
<g><circle cx="491.5" cy="149.5" r="1.6" fill="#9933ff"/><circle cx="493.86" cy="132.29" r="1.6" fill="#9933ff"/><circle cx="496.23" cy="119.81" r="1.6" fill="#9933ff"/><circle cx="498.59" cy="104.04" r="1.6" fill="#9933ff"/><circle cx="500.95" cy="88.97" r="1.6" fill="#9933ff"/><circle cx="503.31" cy="74.28" r="1.6" fill="#9933ff"/><circle cx="505.68" cy="70.75" r="1.6" fill="#9933ff"/><circle cx="508.04" cy="69.91" r="1.6" fill="#9933ff"/><circle cx="510.4" cy="69.29" r="1.6" fill="#9933ff"/><circle cx="512.77" cy="68.67" r="1.6" fill="#9933ff"/><circle cx="515.13" cy="67.98" r="1.6" fill="#9933ff"/><circle cx="517.49" cy="67.23" r="1.6" fill="#9933ff"/><circle cx="519.85" cy="66.32" r="1.6" fill="#9933ff"/><circle cx="522.22" cy="65.29" r="1.6" fill="#9933ff"/><circle cx="524.58" cy="63.83" r="1.6" fill="#9933ff"/><circle cx="526.94" cy="60.77" r="1.6" fill="#9933ff"/><circle cx="529.31" cy="56.81" r="1.6" fill="#9933ff"/><circle cx="531.67" cy="53.19" r="1.6" fill="#9933ff"/><circle cx="534.03" cy="50.05" r="1.6" fill="#9933ff"/><circle cx="536.39" cy="47.55" r="1.6" fill="#9933ff"/><circle cx="538.76" cy="45.37" r="1.6" fill="#9933ff"/><circle cx="541.12" cy="43.5" r="1.6" fill="#9933ff"/><circle cx="543.48" cy="41.75" r="1.6" fill="#9933ff"/><circle cx="545.85" cy="40" r="1.6" fill="#9933ff"/><circle cx="548.21" cy="38.8" r="1.6" fill="#9933ff"/><circle cx="550.57" cy="38.62" r="1.6" fill="#9933ff"/><circle cx="552.93" cy="38.79" r="1.6" fill="#9933ff"/><circle cx="555.3" cy="39.02" r="1.6" fill="#9933ff"/><circle cx="557.66" cy="39.21" r="1.6" fill="#9933ff"/><circle cx="560.02" cy="39.26" r="1.6" fill="#9933ff"/><circle cx="562.39" cy="39.26" r="1.6" fill="#9933ff"/><circle cx="564.75" cy="39.26" r="1.6" fill="#9933ff"/><circle cx="567.11" cy="39.26" r="1.6" fill="#9933ff"/><circle cx="569.47" cy="39.26" r="1.6" fill="#9933ff"/><circle cx="571.84" cy="39.26" r="1.6" fill="#9933ff"/><circle cx="574.2" cy="39.26" r="1.6" fill="#9933ff"/><circle cx="576.56" cy="39.26" r="1.6" fill="#9933ff"/><circle cx="578.93" cy="39.13" r="1.6" fill="#9933ff"/><circle cx="581.29" cy="38.13" r="1.6" fill="#9933ff"/><circle cx="583.65" cy="36.73" r="1.6" fill="#9933ff"/><circle cx="586.01" cy="35.64" r="1.6" fill="#9933ff"/><circle cx="588.38" cy="35.45" r="1.6" fill="#9933ff"/><circle cx="590.74" cy="35.77" r="1.6" fill="#9933ff"/><circle cx="593.1" cy="36.3" r="1.6" fill="#9933ff"/><circle cx="595.47" cy="36.89" r="1.6" fill="#9933ff"/><circle cx="597.83" cy="37.39" r="1.6" fill="#9933ff"/><circle cx="600.19" cy="37.79" r="1.6" fill="#9933ff"/><circle cx="602.55" cy="38.19" r="1.6" fill="#9933ff"/><circle cx="604.92" cy="38.71" r="1.6" fill="#9933ff"/><circle cx="607.28" cy="39.48" r="1.6" fill="#9933ff"/><circle cx="609.64" cy="41.03" r="1.6" fill="#9933ff"/><circle cx="612.01" cy="43.48" r="1.6" fill="#9933ff"/><circle cx="614.37" cy="47.86" r="1.6" fill="#9933ff"/><circle cx="616.73" cy="54.1" r="1.6" fill="#9933ff"/><circle cx="619.09" cy="60.12" r="1.6" fill="#9933ff"/><circle cx="621.46" cy="68.93" r="1.6" fill="#9933ff"/><circle cx="623.82" cy="80.02" r="1.6" fill="#9933ff"/><circle cx="626.18" cy="88.57" r="1.6" fill="#9933ff"/><circle cx="628.55" cy="95.99" r="1.6" fill="#9933ff"/><circle cx="630.91" cy="107.28" r="1.6" fill="#9933ff"/><circle cx="633.27" cy="119.3" r="1.6" fill="#9933ff"/><circle cx="635.63" cy="128.12" r="1.6" fill="#9933ff"/><circle cx="638" cy="136.28" r="1.6" fill="#9933ff"/><circle cx="640.36" cy="142.12" r="1.6" fill="#9933ff"/><circle cx="642.72" cy="145.65" r="1.6" fill="#9933ff"/><circle cx="645.09" cy="147.38" r="1.6" fill="#9933ff"/><circle cx="647.45" cy="148.26" r="1.6" fill="#9933ff"/><circle cx="649.81" cy="148.68" r="1.6" fill="#9933ff"/><circle cx="652.17" cy="148.94" r="1.6" fill="#9933ff"/><circle cx="654.54" cy="149.12" r="1.6" fill="#9933ff"/><circle cx="656.9" cy="149.24" r="1.6" fill="#9933ff"/></g>
<polyline points="491.5,149.5 491.97,145.27 492.45,141.29 492.92,137.6 493.39,134.29 493.86,131.38 494.34,128.81 494.81,126.41 495.28,124 495.75,121.45 496.23,118.61 496.7,115.59 497.17,112.46 497.64,109.27 498.12,106.09 498.59,102.95 499.06,99.66 499.53,96.3 500.01,93.07 500.48,90.16 500.95,87.75 501.42,85.68 501.9,83.81 502.37,82.1 502.84,80.48 503.31,78.88 503.79,77.27 504.26,75.66 504.73,74.11 505.2,72.68 505.68,71.4 506.15,70.29 506.62,69.24 507.09,68.24 507.57,67.29 508.04,66.39 508.51,65.55 508.99,64.75 509.46,64.01 509.93,63.32 510.4,62.69 510.88,62.11 511.35,61.58 511.82,61.1 512.29,60.67 512.77,60.26 513.24,59.87 513.71,59.5 514.18,59.13 514.66,58.75 515.13,58.36 515.6,57.95 516.07,57.51 516.55,57.02 517.02,56.48 517.49,55.89 517.96,55.23 518.44,54.52 518.91,53.77 519.38,52.99 519.85,52.18 520.33,51.35 520.8,50.52 521.27,49.7 521.74,48.88 522.22,48.03 522.69,47.1 523.16,46.11 523.63,45.1 524.11,44.1 524.58,43.13 525.05,42.23 525.53,41.44 526,40.77 526.47,40.27 526.94,39.89 527.42,39.53 527.89,39.19 528.36,38.89 528.83,38.62 529.31,38.42 529.78,38.27 530.25,38.2 530.72,38.21 531.2,38.27 531.67,38.37 532.14,38.51 532.61,38.66 533.09,38.84 533.56,39.02 534.03,39.2 534.5,39.38 534.98,39.61 535.45,39.87 535.92,40.17 536.39,40.49 536.87,40.83 537.34,41.19 537.81,41.55 538.28,41.91 538.76,42.27 539.23,42.62 539.7,42.94 540.17,43.25 540.65,43.52 541.12,43.75 541.59,43.94 542.07,44.09 542.54,44.23 543.01,44.37 543.48,44.5 543.96,44.64 544.43,44.76 544.9,44.89 545.37,45.01 545.85,45.12 546.32,45.23 546.79,45.33 547.26,45.43 547.74,45.51 548.21,45.59 548.68,45.66 549.15,45.73 549.63,45.78 550.1,45.82 550.57,45.85 551.04,45.88 551.52,45.88 551.99,45.88 552.46,45.87 552.93,45.85 553.41,45.81 553.88,45.77 554.35,45.73 554.82,45.67 555.3,45.61 555.77,45.54 556.24,45.46 556.71,45.38 557.19,45.29 557.66,45.2 558.13,45.11 558.61,45.01 559.08,44.91 559.55,44.81 560.02,44.71 560.5,44.6 560.97,44.49 561.44,44.39 561.91,44.28 562.39,44.18 562.86,44.08 563.33,43.97 563.8,43.85 564.28,43.71 564.75,43.55 565.22,43.38 565.69,43.2 566.17,43.01 566.64,42.81 567.11,42.62 567.58,42.42 568.06,42.23 568.53,42.05 569,41.87 569.47,41.71 569.95,41.56 570.42,41.42 570.89,41.31 571.36,41.22 571.84,41.16 572.31,41.12 572.78,41.12 573.25,41.13 573.73,41.16 574.2,41.2 574.67,41.25 575.15,41.32 575.62,41.39 576.09,41.46 576.56,41.54 577.04,41.62 577.51,41.71 577.98,41.79 578.45,41.87 578.93,41.94 579.4,42.01 579.87,42.06 580.34,42.11 580.82,42.15 581.29,42.17 581.76,42.17 582.23,42.17 582.71,42.17 583.18,42.17 583.65,42.17 584.12,42.17 584.6,42.17 585.07,42.17 585.54,42.17 586.01,42.17 586.49,42.17 586.96,42.17 587.43,42.17 587.9,42.17 588.38,42.17 588.85,42.17 589.32,42.17 589.79,42.17 590.27,42.17 590.74,42.17 591.21,42.17 591.69,42.18 592.16,42.2 592.63,42.24 593.1,42.28 593.58,42.34 594.05,42.41 594.52,42.49 594.99,42.58 595.47,42.67 595.94,42.77 596.41,42.88 596.88,42.99 597.36,43.11 597.83,43.23 598.3,43.35 598.77,43.47 599.25,43.59 599.72,43.71 600.19,43.83 600.66,43.95 601.14,44.06 601.61,44.18 602.08,44.33 602.55,44.49 603.03,44.66 603.5,44.84 603.97,45.02 604.44,45.22 604.92,45.41 605.39,45.6 605.86,45.8 606.33,45.98 606.81,46.16 607.28,46.32 607.75,46.47 608.23,46.61 608.7,46.72 609.17,46.82 609.64,46.89 610.12,46.93 610.59,46.94 611.06,46.94 611.53,46.94 612.01,46.94 612.48,46.94 612.95,46.94 613.42,46.94 613.9,46.94 614.37,46.94 614.84,46.94 615.31,46.94 615.79,46.94 616.26,46.94 616.73,46.94 617.2,46.94 617.68,46.94 618.15,46.94 618.62,46.96 619.09,46.99 619.57,47.05 620.04,47.14 620.51,47.26 620.98,47.39 621.46,47.56 621.93,47.74 622.4,47.96 622.87,48.19 623.35,48.46 623.82,48.74 624.29,49.21 624.77,50.14 625.24,51.46 625.71,53.07 626.18,54.9 626.66,56.85 627.13,58.86 627.6,61.28 628.07,64.16 628.55,67.34 629.02,70.69 629.49,74.55 629.96,78.79 630.44,82.98 630.91,86.67 631.38,89.84 631.85,92.71 632.33,95.44 632.8,98.19 633.27,101.13 633.74,104.4 634.22,108.44 634.69,112.95 635.16,117.2 635.63,120.48 636.11,122.9 636.58,124.99 637.05,126.84 637.52,128.53 638,130.14 638.47,131.75 638.94,133.39 639.41,135.02 639.89,136.59 640.36,138.05 640.83,139.35 641.31,140.44 641.78,141.39 642.25,142.3 642.72,143.15 643.2,143.93 643.67,144.64 644.14,145.25 644.61,145.75 645.09,146.14 645.56,146.44 646.03,146.71 646.5,146.96 646.98,147.19 647.45,147.39 647.92,147.57 648.39,147.74 648.87,147.88 649.34,148 649.81,148.11 650.28,148.19 650.76,148.27 651.23,148.33 651.7,148.38 652.17,148.42 652.65,148.46 653.12,148.5 653.59,148.55 654.06,148.59 654.54,148.65 655.01,148.72 655.48,148.8 655.95,148.89 656.43,148.99 656.9,149.1" fill="none" stroke="#0099ff" stroke-width="0.9" stroke-linejoin="round"/>
<g><circle cx="491.5" cy="149.5" r="1.6" fill="#0099ff"/><circle cx="493.86" cy="131.38" r="1.6" fill="#0099ff"/><circle cx="496.23" cy="118.61" r="1.6" fill="#0099ff"/><circle cx="498.59" cy="102.95" r="1.6" fill="#0099ff"/><circle cx="500.95" cy="87.75" r="1.6" fill="#0099ff"/><circle cx="503.31" cy="78.88" r="1.6" fill="#0099ff"/><circle cx="505.68" cy="71.4" r="1.6" fill="#0099ff"/><circle cx="508.04" cy="66.39" r="1.6" fill="#0099ff"/><circle cx="510.4" cy="62.69" r="1.6" fill="#0099ff"/><circle cx="512.77" cy="60.26" r="1.6" fill="#0099ff"/><circle cx="515.13" cy="58.36" r="1.6" fill="#0099ff"/><circle cx="517.49" cy="55.89" r="1.6" fill="#0099ff"/><circle cx="519.85" cy="52.18" r="1.6" fill="#0099ff"/><circle cx="522.22" cy="48.03" r="1.6" fill="#0099ff"/><circle cx="524.58" cy="43.13" r="1.6" fill="#0099ff"/><circle cx="526.94" cy="39.89" r="1.6" fill="#0099ff"/><circle cx="529.31" cy="38.42" r="1.6" fill="#0099ff"/><circle cx="531.67" cy="38.37" r="1.6" fill="#0099ff"/><circle cx="534.03" cy="39.2" r="1.6" fill="#0099ff"/><circle cx="536.39" cy="40.49" r="1.6" fill="#0099ff"/><circle cx="538.76" cy="42.27" r="1.6" fill="#0099ff"/><circle cx="541.12" cy="43.75" r="1.6" fill="#0099ff"/><circle cx="543.48" cy="44.5" r="1.6" fill="#0099ff"/><circle cx="545.85" cy="45.12" r="1.6" fill="#0099ff"/><circle cx="548.21" cy="45.59" r="1.6" fill="#0099ff"/><circle cx="550.57" cy="45.85" r="1.6" fill="#0099ff"/><circle cx="552.93" cy="45.85" r="1.6" fill="#0099ff"/><circle cx="555.3" cy="45.61" r="1.6" fill="#0099ff"/><circle cx="557.66" cy="45.2" r="1.6" fill="#0099ff"/><circle cx="560.02" cy="44.71" r="1.6" fill="#0099ff"/><circle cx="562.39" cy="44.18" r="1.6" fill="#0099ff"/><circle cx="564.75" cy="43.55" r="1.6" fill="#0099ff"/><circle cx="567.11" cy="42.62" r="1.6" fill="#0099ff"/><circle cx="569.47" cy="41.71" r="1.6" fill="#0099ff"/><circle cx="571.84" cy="41.16" r="1.6" fill="#0099ff"/><circle cx="574.2" cy="41.2" r="1.6" fill="#0099ff"/><circle cx="576.56" cy="41.54" r="1.6" fill="#0099ff"/><circle cx="578.93" cy="41.94" r="1.6" fill="#0099ff"/><circle cx="581.29" cy="42.17" r="1.6" fill="#0099ff"/><circle cx="583.65" cy="42.17" r="1.6" fill="#0099ff"/><circle cx="586.01" cy="42.17" r="1.6" fill="#0099ff"/><circle cx="588.38" cy="42.17" r="1.6" fill="#0099ff"/><circle cx="590.74" cy="42.17" r="1.6" fill="#0099ff"/><circle cx="593.1" cy="42.28" r="1.6" fill="#0099ff"/><circle cx="595.47" cy="42.67" r="1.6" fill="#0099ff"/><circle cx="597.83" cy="43.23" r="1.6" fill="#0099ff"/><circle cx="600.19" cy="43.83" r="1.6" fill="#0099ff"/><circle cx="602.55" cy="44.49" r="1.6" fill="#0099ff"/><circle cx="604.92" cy="45.41" r="1.6" fill="#0099ff"/><circle cx="607.28" cy="46.32" r="1.6" fill="#0099ff"/><circle cx="609.64" cy="46.89" r="1.6" fill="#0099ff"/><circle cx="612.01" cy="46.94" r="1.6" fill="#0099ff"/><circle cx="614.37" cy="46.94" r="1.6" fill="#0099ff"/><circle cx="616.73" cy="46.94" r="1.6" fill="#0099ff"/><circle cx="619.09" cy="46.99" r="1.6" fill="#0099ff"/><circle cx="621.46" cy="47.56" r="1.6" fill="#0099ff"/><circle cx="623.82" cy="48.74" r="1.6" fill="#0099ff"/><circle cx="626.18" cy="54.9" r="1.6" fill="#0099ff"/><circle cx="628.55" cy="67.34" r="1.6" fill="#0099ff"/><circle cx="630.91" cy="86.67" r="1.6" fill="#0099ff"/><circle cx="633.27" cy="101.13" r="1.6" fill="#0099ff"/><circle cx="635.63" cy="120.48" r="1.6" fill="#0099ff"/><circle cx="638" cy="130.14" r="1.6" fill="#0099ff"/><circle cx="640.36" cy="138.05" r="1.6" fill="#0099ff"/><circle cx="642.72" cy="143.15" r="1.6" fill="#0099ff"/><circle cx="645.09" cy="146.14" r="1.6" fill="#0099ff"/><circle cx="647.45" cy="147.39" r="1.6" fill="#0099ff"/><circle cx="649.81" cy="148.11" r="1.6" fill="#0099ff"/><circle cx="652.17" cy="148.42" r="1.6" fill="#0099ff"/><circle cx="654.54" cy="148.65" r="1.6" fill="#0099ff"/><circle cx="656.9" cy="149.1" r="1.6" fill="#0099ff"/></g>
</g>
<rect x="491.5" y="17" width="165.4" height="132.5" fill="none" stroke="#231f20" stroke-width="1.0"/>
<path d="M491.5 149.5v2.5M515.13 149.5v2.5M538.76 149.5v2.5M562.39 149.5v2.5M586.01 149.5v2.5M609.64 149.5v2.5M633.27 149.5v2.5M656.9 149.5v2.5M503.31 149.5v1.5M526.94 149.5v1.5M550.57 149.5v1.5M574.2 149.5v1.5M597.83 149.5v1.5M621.46 149.5v1.5M645.09 149.5v1.5" stroke="#231f20" stroke-width="1.0" fill="none"/>
<text x="491.5" y="161" font-size="9.0" text-anchor="middle" fill="#231f20">300</text>
<text x="515.13" y="161" font-size="9.0" text-anchor="middle" fill="#231f20">400</text>
<text x="538.76" y="161" font-size="9.0" text-anchor="middle" fill="#231f20">500</text>
<text x="562.39" y="161" font-size="9.0" text-anchor="middle" fill="#231f20">600</text>
<text x="586.01" y="161" font-size="9.0" text-anchor="middle" fill="#231f20">700</text>
<text x="609.64" y="161" font-size="9.0" text-anchor="middle" fill="#231f20">800</text>
<text x="633.27" y="161" font-size="9.0" text-anchor="middle" fill="#231f20">900</text>
<text x="656.9" y="161" font-size="9.0" text-anchor="middle" fill="#231f20">1000</text>
<path d="M491.5 149.5h-2.5M491.5 123h-2.5M491.5 96.5h-2.5M491.5 70h-2.5M491.5 43.5h-2.5M491.5 17h-2.5M491.5 136.25h-1.5M491.5 109.75h-1.5M491.5 83.25h-1.5M491.5 56.75h-1.5M491.5 30.25h-1.5" stroke="#231f20" stroke-width="1.0" fill="none"/>
<text x="487.5" y="152.7" font-size="9.0" text-anchor="end" fill="#231f20">0</text>
<text x="487.5" y="126.2" font-size="9.0" text-anchor="end" fill="#231f20">20</text>
<text x="487.5" y="99.7" font-size="9.0" text-anchor="end" fill="#231f20">40</text>
<text x="487.5" y="73.2" font-size="9.0" text-anchor="end" fill="#231f20">60</text>
<text x="487.5" y="46.7" font-size="9.0" text-anchor="end" fill="#231f20">80</text>
<text x="487.5" y="20.2" font-size="9.0" text-anchor="end" fill="#231f20">100</text>
<path d="M656.9 149.5h-2.5M656.9 127.42h-2.5M656.9 105.33h-2.5M656.9 83.25h-2.5M656.9 61.17h-2.5M656.9 39.08h-2.5M656.9 17h-2.5M656.9 138.46h-1.5M656.9 116.38h-1.5M656.9 94.29h-1.5M656.9 72.21h-1.5M656.9 50.12h-1.5M656.9 28.04h-1.5" stroke="#231f20" stroke-width="1.0" fill="none"/>
<text x="660.9" y="152.7" font-size="9.0" fill="#231f20">0</text>
<text x="660.9" y="130.62" font-size="9.0" fill="#231f20">5</text>
<text x="660.9" y="108.53" font-size="9.0" fill="#231f20">10</text>
<text x="660.9" y="86.45" font-size="9.0" fill="#231f20">15</text>
<text x="660.9" y="64.37" font-size="9.0" fill="#231f20">20</text>
<text x="660.9" y="42.28" font-size="9.0" fill="#231f20">25</text>
<text x="660.9" y="20.2" font-size="9.0" fill="#231f20">30</text>
<text x="570" y="173.8" font-size="11.4" text-anchor="middle" fill="#231f20">Wavelength (nm)</text>
<text transform="translate(471.3,78) rotate(-90)" font-size="11.3" text-anchor="middle" fill="#231f20">EQE (%)</text>
<text transform="translate(682.5,83) rotate(-90)" font-size="11.3" text-anchor="middle" fill="#231f20">Current Density (mA cm<tspan font-size="8" dy="-4.2">-2</tspan><tspan dy="4.2">)</tspan></text>
<path d="M517.6 43.2H500" stroke="#ff0000" stroke-width="1.2"/><polygon points="495,43.2 501.5,40.8 501.5,45.6" fill="#ff0000"/>
<path d="M632.3 45.4H650" stroke="#ff0000" stroke-width="1.2"/><polygon points="656.2,45.4 648.7,43.1 648.7,47.7" fill="#ff0000"/>
<path d="M573.8 110.3H589.2" stroke="#ff9933" stroke-width="0.9"/>
<circle cx="581.5" cy="110.3" r="1.6" fill="#ff9933"/>
<text x="591.5" y="113.3" font-size="8.3" fill="#231f20">53 nm</text>
<path d="M573.8 120.43H589.2" stroke="#ff33ff" stroke-width="0.9"/>
<circle cx="581.5" cy="120.43" r="1.6" fill="#ff33ff"/>
<text x="591.5" y="123.43" font-size="8.3" fill="#231f20">75 nm</text>
<path d="M573.8 130.56H589.2" stroke="#9933ff" stroke-width="0.9"/>
<circle cx="581.5" cy="130.56" r="1.6" fill="#9933ff"/>
<text x="591.5" y="133.56" font-size="8.3" fill="#231f20">135 nm</text>
<path d="M573.8 140.69H589.2" stroke="#0099ff" stroke-width="0.9"/>
<circle cx="581.5" cy="140.69" r="1.6" fill="#0099ff"/>
<text x="591.5" y="143.69" font-size="8.3" fill="#231f20">212 nm</text>
<polyline points="68.8,301.19 87.93,247.66 140.1,273.1 207.05,247.66" fill="none" stroke="#ff9f40" stroke-width="1.1" stroke-linejoin="round"/>
<polyline points="68.8,284.23 87.93,223.81 140.1,267.8 207.05,227.25" fill="none" stroke="#a64dff" stroke-width="1.1" stroke-linejoin="round"/>
<path d="M68.8 295.39V306.99M67.1 295.39H70.5M67.1 306.99H70.5" stroke="#ff9f40" stroke-width="0.9" fill="none"/><path d="M87.93 244.16V251.16M86.23 244.16H89.63M86.23 251.16H89.63" stroke="#ff9f40" stroke-width="0.9" fill="none"/><path d="M140.1 267.1V279.1M138.4 267.1H141.8M138.4 279.1H141.8" stroke="#ff9f40" stroke-width="0.9" fill="none"/><path d="M207.05 240.66V254.66M205.35 240.66H208.75M205.35 254.66H208.75" stroke="#ff9f40" stroke-width="0.9" fill="none"/>
<path d="M68.8 276.73V291.73M67.1 276.73H70.5M67.1 291.73H70.5" stroke="#a64dff" stroke-width="0.9" fill="none"/><path d="M87.93 220.21V227.41M86.23 220.21H89.63M86.23 227.41H89.63" stroke="#a64dff" stroke-width="0.9" fill="none"/><path d="M140.1 262.4V273.2M138.4 262.4H141.8M138.4 273.2H141.8" stroke="#a64dff" stroke-width="0.9" fill="none"/><path d="M207.05 218.75V235.75M205.35 218.75H208.75M205.35 235.75H208.75" stroke="#a64dff" stroke-width="0.9" fill="none"/>
<rect x="57.5" y="204.2" width="165.2" height="132.5" fill="none" stroke="#231f20" stroke-width="1.0"/>
<path d="M57.5 336.7v2.5M92.28 336.7v2.5M127.06 336.7v2.5M161.84 336.7v2.5M196.62 336.7v2.5M74.89 336.7v1.5M109.67 336.7v1.5M144.45 336.7v1.5M179.23 336.7v1.5M214.01 336.7v1.5" stroke="#231f20" stroke-width="1.0" fill="none"/>
<text x="57.5" y="348.2" font-size="9.0" text-anchor="middle" fill="#231f20">40</text>
<text x="92.28" y="348.2" font-size="9.0" text-anchor="middle" fill="#231f20">80</text>
<text x="127.06" y="348.2" font-size="9.0" text-anchor="middle" fill="#231f20">120</text>
<text x="161.84" y="348.2" font-size="9.0" text-anchor="middle" fill="#231f20">160</text>
<text x="196.62" y="348.2" font-size="9.0" text-anchor="middle" fill="#231f20">200</text>
<path d="M57.5 336.7h-2.5M57.5 310.2h-2.5M57.5 283.7h-2.5M57.5 257.2h-2.5M57.5 230.7h-2.5M57.5 204.2h-2.5M57.5 323.45h-1.5M57.5 296.95h-1.5M57.5 270.45h-1.5M57.5 243.95h-1.5M57.5 217.45h-1.5" stroke="#231f20" stroke-width="1.0" fill="none"/>
<text x="53.5" y="339.9" font-size="9.0" text-anchor="end" fill="#231f20">23</text>
<text x="53.5" y="313.4" font-size="9.0" text-anchor="end" fill="#231f20">24</text>
<text x="53.5" y="286.9" font-size="9.0" text-anchor="end" fill="#231f20">25</text>
<text x="53.5" y="260.4" font-size="9.0" text-anchor="end" fill="#231f20">26</text>
<text x="53.5" y="233.9" font-size="9.0" text-anchor="end" fill="#231f20">27</text>
<text x="53.5" y="207.4" font-size="9.0" text-anchor="end" fill="#231f20">28</text>
<text x="140" y="361.7" font-size="11.3" text-anchor="middle" fill="#231f20">Active Layer Thickness (nm)</text>
<text transform="translate(39.2,270.7) rotate(-90)" font-size="11.3" text-anchor="middle" fill="#231f20">Current Density (mA cm<tspan font-size="8" dy="-4.2">-2</tspan><tspan dy="4.2">)</tspan></text>
<path d="M128.9 220.4H144.7" stroke="#ff9f40" stroke-width="0.95"/><path d="M128.9 235.8H144.7" stroke="#a64dff" stroke-width="0.95"/>
<text x="146.6" y="222.9" font-size="9.2" fill="#231f20"><tspan font-style="italic">J</tspan><tspan font-size="6.9" dy="2.4">sc</tspan><tspan font-size="6.9" dy="-6.7">EQE</tspan></text>
<text x="147.4" y="238.3" font-size="9.2" fill="#231f20"><tspan font-style="italic">J</tspan><tspan font-size="6.9" dy="2.4">sc</tspan><tspan font-size="6.9" dy="-6.7">Exp</tspan></text>
<text x="153.9" y="283.7" font-size="10.2" fill="#231f20"><tspan font-style="italic">J</tspan><tspan font-size="7.3" dy="2.4">sc</tspan><tspan font-size="7.3" dy="-6.7">EQE</tspan></text>
<text x="195.7" y="283.7" font-size="10.2" fill="#231f20"><tspan font-style="italic">J</tspan><tspan font-size="7.3" dy="2.4">sc</tspan><tspan font-size="7.3" dy="-6.7">Exp</tspan></text>
<text x="142.6" y="298.8" font-size="8.3" text-anchor="end" fill="#231f20">53 nm:</text>
<text x="152.4" y="298.8" font-size="8.3" fill="#231f20">24.34</text>
<text x="193.2" y="298.8" font-size="8.3" fill="#231f20">24.98</text>
<text x="142.6" y="309" font-size="8.3" text-anchor="end" fill="#231f20">75 nm:</text>
<text x="152.4" y="309" font-size="8.3" fill="#231f20">26.36</text>
<text x="193.2" y="309" font-size="8.3" fill="#231f20">27.26</text>
<text x="142.6" y="319.2" font-size="8.3" text-anchor="end" fill="#231f20">135 nm:</text>
<text x="152.4" y="319.2" font-size="8.3" fill="#231f20">25.40</text>
<text x="193.2" y="319.2" font-size="8.3" fill="#231f20">25.60</text>
<text x="142.6" y="329.4" font-size="8.3" text-anchor="end" fill="#231f20">212 nm:</text>
<text x="152.4" y="329.4" font-size="8.3" fill="#231f20">26.36</text>
<text x="193.2" y="329.4" font-size="8.3" fill="#231f20">27.13</text>
<clipPath id="ce"><rect x="271.1" y="204.4" width="165.59999999999997" height="132.79999999999998"/></clipPath>
<g clip-path="url(#ce)">
<polyline points="271.1,252.93 272.44,252.51 273.78,252.07 275.12,251.62 276.47,251.16 277.81,250.69 279.15,250.21 280.49,249.72 281.83,249.22 283.17,248.71 284.51,248.2 285.86,247.67 287.2,247.14 288.54,246.59 289.88,246.02 291.22,245.43 292.56,244.83 293.91,244.21 295.25,243.58 296.59,242.95 297.93,242.32 299.27,241.69 300.61,241.06 301.95,240.46 303.3,239.86 304.64,239.28 305.98,238.7 307.32,238.12 308.66,237.55 310,236.98 311.34,236.42 312.69,235.85 314.03,235.29 315.37,234.72 316.71,234.15 318.05,233.59 319.39,233.05 320.73,232.52 322.08,232 323.42,231.49 324.76,231 326.1,230.53 327.44,230.09 328.78,229.68 330.13,229.27 331.47,228.86 332.81,228.48 334.15,228.14 335.49,227.84 336.83,227.61 338.17,227.44 339.52,227.29 340.86,227.15 342.2,227.02 343.54,226.9 344.88,226.79 346.22,226.7 347.56,226.62 348.91,226.55 350.25,226.5 351.59,226.47 352.93,226.46 354.27,226.44 355.61,226.43 356.95,226.42 358.3,226.41 359.64,226.39 360.98,226.38 362.32,226.38 363.66,226.37 365,226.36 366.35,226.35 367.69,226.35 369.03,226.35 370.37,226.34 371.71,226.34 373.05,226.34 374.39,226.34 375.74,226.34 377.08,226.34 378.42,226.34 379.76,226.34 381.1,226.34 382.44,226.34 383.78,226.34 385.13,226.34 386.47,226.34 387.81,226.34 389.15,226.34 390.49,226.34 391.83,226.34 393.18,226.34 394.52,226.34 395.86,226.34 397.2,226.34 398.54,226.35 399.88,226.35 401.22,226.35 402.57,226.35 403.91,226.35 405.25,226.35 406.59,226.36 407.93,226.36 409.27,226.36 410.61,226.36 411.96,226.37 413.3,226.37 414.64,226.37 415.98,226.38 417.32,226.38 418.66,226.38 420,226.39 421.35,226.39 422.69,226.4 424.03,226.4 425.37,226.41 426.71,226.41 428.05,226.42 429.4,226.43 430.74,226.43" fill="none" stroke="#ff9933" stroke-width="1.1" stroke-linejoin="round"/>
<g><rect x="286.3" y="245.39" width="3" height="3" fill="#ff9933"/><rect x="301.22" y="238.62" width="3" height="3" fill="#ff9933"/><rect x="311.35" y="234.28" width="3" height="3" fill="#ff9933"/><rect x="319.04" y="231.09" width="3" height="3" fill="#ff9933"/><rect x="325.23" y="228.82" width="3" height="3" fill="#ff9933"/><rect x="330.42" y="227.23" width="3" height="3" fill="#ff9933"/><rect x="334.88" y="226.18" width="3" height="3" fill="#ff9933"/><rect x="338.79" y="225.71" width="3" height="3" fill="#ff9933"/><rect x="342.28" y="225.38" width="3" height="3" fill="#ff9933"/><rect x="345.43" y="225.15" width="3" height="3" fill="#ff9933"/><rect x="348.29" y="225.02" width="3" height="3" fill="#ff9933"/><rect x="350.92" y="224.96" width="3" height="3" fill="#ff9933"/><rect x="353.35" y="224.94" width="3" height="3" fill="#ff9933"/><rect x="355.61" y="224.92" width="3" height="3" fill="#ff9933"/><rect x="357.72" y="224.9" width="3" height="3" fill="#ff9933"/><rect x="359.69" y="224.88" width="3" height="3" fill="#ff9933"/><rect x="361.56" y="224.87" width="3" height="3" fill="#ff9933"/><rect x="363.32" y="224.86" width="3" height="3" fill="#ff9933"/><rect x="364.99" y="224.85" width="3" height="3" fill="#ff9933"/><rect x="366.57" y="224.85" width="3" height="3" fill="#ff9933"/><rect x="368.08" y="224.84" width="3" height="3" fill="#ff9933"/><rect x="369.53" y="224.84" width="3" height="3" fill="#ff9933"/><rect x="370.91" y="224.84" width="3" height="3" fill="#ff9933"/><rect x="372.23" y="224.84" width="3" height="3" fill="#ff9933"/><rect x="373.5" y="224.84" width="3" height="3" fill="#ff9933"/><rect x="374.73" y="224.84" width="3" height="3" fill="#ff9933"/><rect x="375.9" y="224.84" width="3" height="3" fill="#ff9933"/><rect x="377.04" y="224.84" width="3" height="3" fill="#ff9933"/><rect x="378.14" y="224.84" width="3" height="3" fill="#ff9933"/><rect x="379.2" y="224.84" width="3" height="3" fill="#ff9933"/><rect x="380.22" y="224.84" width="3" height="3" fill="#ff9933"/><rect x="381.22" y="224.84" width="3" height="3" fill="#ff9933"/><rect x="382.18" y="224.84" width="3" height="3" fill="#ff9933"/><rect x="383.12" y="224.84" width="3" height="3" fill="#ff9933"/><rect x="384.03" y="224.84" width="3" height="3" fill="#ff9933"/><rect x="384.91" y="224.84" width="3" height="3" fill="#ff9933"/><rect x="385.77" y="224.84" width="3" height="3" fill="#ff9933"/><rect x="386.61" y="224.84" width="3" height="3" fill="#ff9933"/><rect x="387.43" y="224.84" width="3" height="3" fill="#ff9933"/><rect x="388.23" y="224.84" width="3" height="3" fill="#ff9933"/><rect x="389" y="224.84" width="3" height="3" fill="#ff9933"/><rect x="389.76" y="224.84" width="3" height="3" fill="#ff9933"/><rect x="390.5" y="224.84" width="3" height="3" fill="#ff9933"/><rect x="391.23" y="224.84" width="3" height="3" fill="#ff9933"/><rect x="391.94" y="224.84" width="3" height="3" fill="#ff9933"/><rect x="392.63" y="224.84" width="3" height="3" fill="#ff9933"/><rect x="393.31" y="224.84" width="3" height="3" fill="#ff9933"/><rect x="393.97" y="224.84" width="3" height="3" fill="#ff9933"/><rect x="394.62" y="224.84" width="3" height="3" fill="#ff9933"/><rect x="395.26" y="224.84" width="3" height="3" fill="#ff9933"/><rect x="395.89" y="224.84" width="3" height="3" fill="#ff9933"/><rect x="396.5" y="224.85" width="3" height="3" fill="#ff9933"/><rect x="397.1" y="224.85" width="3" height="3" fill="#ff9933"/><rect x="397.69" y="224.85" width="3" height="3" fill="#ff9933"/><rect x="398.27" y="224.85" width="3" height="3" fill="#ff9933"/><rect x="398.84" y="224.85" width="3" height="3" fill="#ff9933"/><rect x="399.4" y="224.85" width="3" height="3" fill="#ff9933"/><rect x="399.95" y="224.85" width="3" height="3" fill="#ff9933"/><rect x="400.49" y="224.85" width="3" height="3" fill="#ff9933"/><rect x="401.02" y="224.85" width="3" height="3" fill="#ff9933"/><rect x="401.55" y="224.85" width="3" height="3" fill="#ff9933"/><rect x="402.06" y="224.85" width="3" height="3" fill="#ff9933"/><rect x="402.57" y="224.85" width="3" height="3" fill="#ff9933"/><rect x="403.07" y="224.85" width="3" height="3" fill="#ff9933"/><rect x="403.56" y="224.85" width="3" height="3" fill="#ff9933"/><rect x="404.04" y="224.85" width="3" height="3" fill="#ff9933"/><rect x="404.52" y="224.86" width="3" height="3" fill="#ff9933"/><rect x="404.99" y="224.86" width="3" height="3" fill="#ff9933"/><rect x="405.45" y="224.86" width="3" height="3" fill="#ff9933"/><rect x="405.91" y="224.86" width="3" height="3" fill="#ff9933"/><rect x="406.36" y="224.86" width="3" height="3" fill="#ff9933"/><rect x="406.8" y="224.86" width="3" height="3" fill="#ff9933"/><rect x="407.24" y="224.86" width="3" height="3" fill="#ff9933"/><rect x="407.67" y="224.86" width="3" height="3" fill="#ff9933"/><rect x="408.1" y="224.86" width="3" height="3" fill="#ff9933"/><rect x="408.52" y="224.86" width="3" height="3" fill="#ff9933"/><rect x="408.93" y="224.86" width="3" height="3" fill="#ff9933"/><rect x="409.34" y="224.86" width="3" height="3" fill="#ff9933"/><rect x="409.74" y="224.86" width="3" height="3" fill="#ff9933"/><rect x="410.14" y="224.87" width="3" height="3" fill="#ff9933"/><rect x="410.54" y="224.87" width="3" height="3" fill="#ff9933"/><rect x="410.93" y="224.87" width="3" height="3" fill="#ff9933"/><rect x="411.31" y="224.87" width="3" height="3" fill="#ff9933"/><rect x="411.69" y="224.87" width="3" height="3" fill="#ff9933"/><rect x="412.07" y="224.87" width="3" height="3" fill="#ff9933"/><rect x="412.44" y="224.87" width="3" height="3" fill="#ff9933"/><rect x="412.81" y="224.87" width="3" height="3" fill="#ff9933"/><rect x="413.17" y="224.87" width="3" height="3" fill="#ff9933"/><rect x="413.53" y="224.87" width="3" height="3" fill="#ff9933"/><rect x="413.88" y="224.87" width="3" height="3" fill="#ff9933"/><rect x="414.23" y="224.88" width="3" height="3" fill="#ff9933"/><rect x="414.58" y="224.88" width="3" height="3" fill="#ff9933"/><rect x="414.93" y="224.88" width="3" height="3" fill="#ff9933"/><rect x="415.27" y="224.88" width="3" height="3" fill="#ff9933"/><rect x="415.6" y="224.88" width="3" height="3" fill="#ff9933"/><rect x="415.93" y="224.88" width="3" height="3" fill="#ff9933"/><rect x="416.26" y="224.88" width="3" height="3" fill="#ff9933"/><rect x="416.59" y="224.88" width="3" height="3" fill="#ff9933"/><rect x="416.91" y="224.88" width="3" height="3" fill="#ff9933"/><rect x="417.23" y="224.88" width="3" height="3" fill="#ff9933"/><rect x="417.55" y="224.89" width="3" height="3" fill="#ff9933"/><rect x="417.86" y="224.89" width="3" height="3" fill="#ff9933"/><rect x="418.17" y="224.89" width="3" height="3" fill="#ff9933"/><rect x="418.48" y="224.89" width="3" height="3" fill="#ff9933"/><rect x="418.78" y="224.89" width="3" height="3" fill="#ff9933"/><rect x="419.08" y="224.89" width="3" height="3" fill="#ff9933"/><rect x="419.38" y="224.89" width="3" height="3" fill="#ff9933"/><rect x="419.68" y="224.89" width="3" height="3" fill="#ff9933"/><rect x="419.97" y="224.89" width="3" height="3" fill="#ff9933"/><rect x="420.26" y="224.89" width="3" height="3" fill="#ff9933"/><rect x="420.55" y="224.9" width="3" height="3" fill="#ff9933"/><rect x="420.84" y="224.9" width="3" height="3" fill="#ff9933"/><rect x="421.12" y="224.9" width="3" height="3" fill="#ff9933"/><rect x="421.4" y="224.9" width="3" height="3" fill="#ff9933"/><rect x="421.68" y="224.9" width="3" height="3" fill="#ff9933"/><rect x="421.95" y="224.9" width="3" height="3" fill="#ff9933"/><rect x="422.23" y="224.9" width="3" height="3" fill="#ff9933"/><rect x="422.5" y="224.9" width="3" height="3" fill="#ff9933"/><rect x="422.77" y="224.9" width="3" height="3" fill="#ff9933"/><rect x="423.03" y="224.9" width="3" height="3" fill="#ff9933"/><rect x="423.3" y="224.91" width="3" height="3" fill="#ff9933"/><rect x="423.56" y="224.91" width="3" height="3" fill="#ff9933"/><rect x="423.82" y="224.91" width="3" height="3" fill="#ff9933"/><rect x="424.08" y="224.91" width="3" height="3" fill="#ff9933"/><rect x="424.33" y="224.91" width="3" height="3" fill="#ff9933"/><rect x="424.58" y="224.91" width="3" height="3" fill="#ff9933"/><rect x="424.84" y="224.91" width="3" height="3" fill="#ff9933"/><rect x="425.09" y="224.91" width="3" height="3" fill="#ff9933"/><rect x="425.33" y="224.91" width="3" height="3" fill="#ff9933"/><rect x="425.58" y="224.91" width="3" height="3" fill="#ff9933"/><rect x="425.82" y="224.92" width="3" height="3" fill="#ff9933"/><rect x="426.07" y="224.92" width="3" height="3" fill="#ff9933"/><rect x="426.31" y="224.92" width="3" height="3" fill="#ff9933"/><rect x="426.54" y="224.92" width="3" height="3" fill="#ff9933"/><rect x="426.78" y="224.92" width="3" height="3" fill="#ff9933"/><rect x="427.02" y="224.92" width="3" height="3" fill="#ff9933"/><rect x="427.25" y="224.92" width="3" height="3" fill="#ff9933"/><rect x="427.48" y="224.92" width="3" height="3" fill="#ff9933"/><rect x="427.71" y="224.92" width="3" height="3" fill="#ff9933"/><rect x="427.94" y="224.93" width="3" height="3" fill="#ff9933"/><rect x="428.17" y="224.93" width="3" height="3" fill="#ff9933"/><rect x="428.39" y="224.93" width="3" height="3" fill="#ff9933"/><rect x="428.62" y="224.93" width="3" height="3" fill="#ff9933"/><rect x="428.84" y="224.93" width="3" height="3" fill="#ff9933"/><rect x="429.06" y="224.93" width="3" height="3" fill="#ff9933"/></g>
<polyline points="271.1,254.89 272.44,254.36 273.78,253.83 275.12,253.3 276.47,252.78 277.81,252.25 279.15,251.73 280.49,251.21 281.83,250.69 283.17,250.17 284.51,249.66 285.86,249.14 287.2,248.63 288.54,248.12 289.88,247.61 291.22,247.1 292.56,246.59 293.91,246.08 295.25,245.58 296.59,245.09 297.93,244.62 299.27,244.15 300.61,243.68 301.95,243.2 303.3,242.7 304.64,242.19 305.98,241.65 307.32,241.08 308.66,240.46 310,239.79 311.34,239.09 312.69,238.39 314.03,237.69 315.37,237.02 316.71,236.38 318.05,235.74 319.39,235.12 320.73,234.51 322.08,233.93 323.42,233.37 324.76,232.85 326.1,232.35 327.44,231.86 328.78,231.39 330.13,230.92 331.47,230.44 332.81,229.96 334.15,229.45 335.49,228.9 336.83,228.4 338.17,228.01 339.52,227.65 340.86,227.31 342.2,227 343.54,226.7 344.88,226.43 346.22,226.19 347.56,225.98 348.91,225.79 350.25,225.64 351.59,225.49 352.93,225.36 354.27,225.23 355.61,225.12 356.95,225.01 358.3,224.92 359.64,224.84 360.98,224.77 362.32,224.71 363.66,224.66 365,224.62 366.35,224.58 367.69,224.54 369.03,224.51 370.37,224.48 371.71,224.45 373.05,224.42 374.39,224.4 375.74,224.37 377.08,224.36 378.42,224.34 379.76,224.33 381.1,224.32 382.44,224.31 383.78,224.3 385.13,224.29 386.47,224.28 387.81,224.27 389.15,224.26 390.49,224.25 391.83,224.24 393.18,224.23 394.52,224.22 395.86,224.21 397.2,224.21 398.54,224.2 399.88,224.19 401.22,224.18 402.57,224.18 403.91,224.17 405.25,224.16 406.59,224.16 407.93,224.15 409.27,224.14 410.61,224.14 411.96,224.13 413.3,224.13 414.64,224.12 415.98,224.12 417.32,224.11 418.66,224.11 420,224.11 421.35,224.1 422.69,224.1 424.03,224.1 425.37,224.09 426.71,224.09 428.05,224.09 429.4,224.09 430.74,224.09" fill="none" stroke="#ff33ff" stroke-width="1.1" stroke-linejoin="round"/>
<g><circle cx="272.66" cy="254.27" r="1.5" fill="#ff33ff"/><circle cx="294.08" cy="246.02" r="1.5" fill="#ff33ff"/><circle cx="306.8" cy="241.31" r="1.5" fill="#ff33ff"/><circle cx="315.87" cy="236.78" r="1.5" fill="#ff33ff"/><circle cx="322.94" cy="233.57" r="1.5" fill="#ff33ff"/><circle cx="328.72" cy="231.41" r="1.5" fill="#ff33ff"/><circle cx="333.62" cy="229.66" r="1.5" fill="#ff33ff"/><circle cx="337.86" cy="228.09" r="1.5" fill="#ff33ff"/><circle cx="341.61" cy="227.13" r="1.5" fill="#ff33ff"/><circle cx="344.97" cy="226.42" r="1.5" fill="#ff33ff"/><circle cx="348" cy="225.91" r="1.5" fill="#ff33ff"/><circle cx="350.78" cy="225.58" r="1.5" fill="#ff33ff"/><circle cx="353.33" cy="225.32" r="1.5" fill="#ff33ff"/><circle cx="355.69" cy="225.11" r="1.5" fill="#ff33ff"/><circle cx="357.89" cy="224.94" r="1.5" fill="#ff33ff"/><circle cx="359.95" cy="224.82" r="1.5" fill="#ff33ff"/><circle cx="361.89" cy="224.73" r="1.5" fill="#ff33ff"/><circle cx="363.71" cy="224.66" r="1.5" fill="#ff33ff"/><circle cx="365.44" cy="224.61" r="1.5" fill="#ff33ff"/><circle cx="367.07" cy="224.56" r="1.5" fill="#ff33ff"/><circle cx="368.63" cy="224.52" r="1.5" fill="#ff33ff"/><circle cx="370.12" cy="224.48" r="1.5" fill="#ff33ff"/><circle cx="371.54" cy="224.45" r="1.5" fill="#ff33ff"/><circle cx="372.9" cy="224.42" r="1.5" fill="#ff33ff"/><circle cx="374.2" cy="224.4" r="1.5" fill="#ff33ff"/><circle cx="375.45" cy="224.38" r="1.5" fill="#ff33ff"/><circle cx="376.66" cy="224.36" r="1.5" fill="#ff33ff"/><circle cx="377.82" cy="224.35" r="1.5" fill="#ff33ff"/><circle cx="378.94" cy="224.34" r="1.5" fill="#ff33ff"/><circle cx="380.03" cy="224.33" r="1.5" fill="#ff33ff"/><circle cx="381.07" cy="224.32" r="1.5" fill="#ff33ff"/><circle cx="382.09" cy="224.31" r="1.5" fill="#ff33ff"/><circle cx="383.07" cy="224.3" r="1.5" fill="#ff33ff"/><circle cx="384.03" cy="224.29" r="1.5" fill="#ff33ff"/><circle cx="384.95" cy="224.29" r="1.5" fill="#ff33ff"/><circle cx="385.85" cy="224.28" r="1.5" fill="#ff33ff"/><circle cx="386.73" cy="224.27" r="1.5" fill="#ff33ff"/><circle cx="387.58" cy="224.27" r="1.5" fill="#ff33ff"/><circle cx="388.41" cy="224.26" r="1.5" fill="#ff33ff"/><circle cx="389.22" cy="224.26" r="1.5" fill="#ff33ff"/><circle cx="390.01" cy="224.25" r="1.5" fill="#ff33ff"/><circle cx="390.78" cy="224.25" r="1.5" fill="#ff33ff"/><circle cx="391.53" cy="224.24" r="1.5" fill="#ff33ff"/><circle cx="392.27" cy="224.24" r="1.5" fill="#ff33ff"/><circle cx="392.99" cy="224.23" r="1.5" fill="#ff33ff"/><circle cx="393.69" cy="224.23" r="1.5" fill="#ff33ff"/><circle cx="394.38" cy="224.22" r="1.5" fill="#ff33ff"/><circle cx="395.05" cy="224.22" r="1.5" fill="#ff33ff"/><circle cx="395.71" cy="224.21" r="1.5" fill="#ff33ff"/><circle cx="396.36" cy="224.21" r="1.5" fill="#ff33ff"/><circle cx="396.99" cy="224.21" r="1.5" fill="#ff33ff"/><circle cx="397.61" cy="224.2" r="1.5" fill="#ff33ff"/><circle cx="398.22" cy="224.2" r="1.5" fill="#ff33ff"/><circle cx="398.82" cy="224.2" r="1.5" fill="#ff33ff"/><circle cx="399.41" cy="224.19" r="1.5" fill="#ff33ff"/><circle cx="399.98" cy="224.19" r="1.5" fill="#ff33ff"/><circle cx="400.55" cy="224.19" r="1.5" fill="#ff33ff"/><circle cx="401.1" cy="224.18" r="1.5" fill="#ff33ff"/><circle cx="401.65" cy="224.18" r="1.5" fill="#ff33ff"/><circle cx="402.19" cy="224.18" r="1.5" fill="#ff33ff"/><circle cx="402.72" cy="224.18" r="1.5" fill="#ff33ff"/><circle cx="403.24" cy="224.17" r="1.5" fill="#ff33ff"/><circle cx="403.75" cy="224.17" r="1.5" fill="#ff33ff"/><circle cx="404.25" cy="224.17" r="1.5" fill="#ff33ff"/><circle cx="404.75" cy="224.16" r="1.5" fill="#ff33ff"/><circle cx="405.24" cy="224.16" r="1.5" fill="#ff33ff"/><circle cx="405.72" cy="224.16" r="1.5" fill="#ff33ff"/><circle cx="406.19" cy="224.16" r="1.5" fill="#ff33ff"/><circle cx="406.66" cy="224.16" r="1.5" fill="#ff33ff"/><circle cx="407.12" cy="224.15" r="1.5" fill="#ff33ff"/><circle cx="407.57" cy="224.15" r="1.5" fill="#ff33ff"/><circle cx="408.02" cy="224.15" r="1.5" fill="#ff33ff"/><circle cx="408.46" cy="224.15" r="1.5" fill="#ff33ff"/><circle cx="408.9" cy="224.15" r="1.5" fill="#ff33ff"/><circle cx="409.33" cy="224.14" r="1.5" fill="#ff33ff"/><circle cx="409.75" cy="224.14" r="1.5" fill="#ff33ff"/><circle cx="410.17" cy="224.14" r="1.5" fill="#ff33ff"/><circle cx="410.58" cy="224.14" r="1.5" fill="#ff33ff"/><circle cx="410.99" cy="224.14" r="1.5" fill="#ff33ff"/><circle cx="411.39" cy="224.14" r="1.5" fill="#ff33ff"/><circle cx="411.79" cy="224.13" r="1.5" fill="#ff33ff"/><circle cx="412.18" cy="224.13" r="1.5" fill="#ff33ff"/><circle cx="412.57" cy="224.13" r="1.5" fill="#ff33ff"/><circle cx="412.95" cy="224.13" r="1.5" fill="#ff33ff"/><circle cx="413.33" cy="224.13" r="1.5" fill="#ff33ff"/><circle cx="413.7" cy="224.13" r="1.5" fill="#ff33ff"/><circle cx="414.07" cy="224.13" r="1.5" fill="#ff33ff"/><circle cx="414.44" cy="224.12" r="1.5" fill="#ff33ff"/><circle cx="414.8" cy="224.12" r="1.5" fill="#ff33ff"/><circle cx="415.16" cy="224.12" r="1.5" fill="#ff33ff"/><circle cx="415.51" cy="224.12" r="1.5" fill="#ff33ff"/><circle cx="415.86" cy="224.12" r="1.5" fill="#ff33ff"/><circle cx="416.21" cy="224.12" r="1.5" fill="#ff33ff"/><circle cx="416.55" cy="224.12" r="1.5" fill="#ff33ff"/><circle cx="416.89" cy="224.12" r="1.5" fill="#ff33ff"/><circle cx="417.22" cy="224.11" r="1.5" fill="#ff33ff"/><circle cx="417.55" cy="224.11" r="1.5" fill="#ff33ff"/><circle cx="417.88" cy="224.11" r="1.5" fill="#ff33ff"/><circle cx="418.21" cy="224.11" r="1.5" fill="#ff33ff"/><circle cx="418.53" cy="224.11" r="1.5" fill="#ff33ff"/><circle cx="418.85" cy="224.11" r="1.5" fill="#ff33ff"/><circle cx="419.16" cy="224.11" r="1.5" fill="#ff33ff"/><circle cx="419.48" cy="224.11" r="1.5" fill="#ff33ff"/><circle cx="419.78" cy="224.11" r="1.5" fill="#ff33ff"/><circle cx="420.09" cy="224.11" r="1.5" fill="#ff33ff"/><circle cx="420.39" cy="224.11" r="1.5" fill="#ff33ff"/><circle cx="420.69" cy="224.1" r="1.5" fill="#ff33ff"/><circle cx="420.99" cy="224.1" r="1.5" fill="#ff33ff"/><circle cx="421.29" cy="224.1" r="1.5" fill="#ff33ff"/><circle cx="421.58" cy="224.1" r="1.5" fill="#ff33ff"/><circle cx="421.87" cy="224.1" r="1.5" fill="#ff33ff"/><circle cx="422.16" cy="224.1" r="1.5" fill="#ff33ff"/><circle cx="422.44" cy="224.1" r="1.5" fill="#ff33ff"/><circle cx="422.72" cy="224.1" r="1.5" fill="#ff33ff"/><circle cx="423" cy="224.1" r="1.5" fill="#ff33ff"/><circle cx="423.28" cy="224.1" r="1.5" fill="#ff33ff"/><circle cx="423.55" cy="224.1" r="1.5" fill="#ff33ff"/><circle cx="423.83" cy="224.1" r="1.5" fill="#ff33ff"/><circle cx="424.1" cy="224.1" r="1.5" fill="#ff33ff"/><circle cx="424.36" cy="224.1" r="1.5" fill="#ff33ff"/><circle cx="424.63" cy="224.1" r="1.5" fill="#ff33ff"/><circle cx="424.89" cy="224.1" r="1.5" fill="#ff33ff"/><circle cx="425.15" cy="224.09" r="1.5" fill="#ff33ff"/><circle cx="425.41" cy="224.09" r="1.5" fill="#ff33ff"/><circle cx="425.67" cy="224.09" r="1.5" fill="#ff33ff"/><circle cx="425.92" cy="224.09" r="1.5" fill="#ff33ff"/><circle cx="426.18" cy="224.09" r="1.5" fill="#ff33ff"/><circle cx="426.43" cy="224.09" r="1.5" fill="#ff33ff"/><circle cx="426.68" cy="224.09" r="1.5" fill="#ff33ff"/><circle cx="426.92" cy="224.09" r="1.5" fill="#ff33ff"/><circle cx="427.17" cy="224.09" r="1.5" fill="#ff33ff"/><circle cx="427.41" cy="224.09" r="1.5" fill="#ff33ff"/><circle cx="427.65" cy="224.09" r="1.5" fill="#ff33ff"/><circle cx="427.89" cy="224.09" r="1.5" fill="#ff33ff"/><circle cx="428.13" cy="224.09" r="1.5" fill="#ff33ff"/><circle cx="428.37" cy="224.09" r="1.5" fill="#ff33ff"/><circle cx="428.6" cy="224.09" r="1.5" fill="#ff33ff"/><circle cx="428.83" cy="224.09" r="1.5" fill="#ff33ff"/><circle cx="429.07" cy="224.09" r="1.5" fill="#ff33ff"/><circle cx="429.3" cy="224.09" r="1.5" fill="#ff33ff"/><circle cx="429.52" cy="224.09" r="1.5" fill="#ff33ff"/><circle cx="429.75" cy="224.09" r="1.5" fill="#ff33ff"/><circle cx="429.97" cy="224.09" r="1.5" fill="#ff33ff"/><circle cx="430.2" cy="224.09" r="1.5" fill="#ff33ff"/><circle cx="430.42" cy="224.09" r="1.5" fill="#ff33ff"/><circle cx="430.64" cy="224.09" r="1.5" fill="#ff33ff"/></g>
<polyline points="271.1,286.67 272.44,285.45 273.78,284.23 275.12,283.01 276.47,281.8 277.81,280.58 279.15,279.36 280.49,278.15 281.83,276.93 283.17,275.72 284.51,274.51 285.86,273.3 287.2,272.09 288.54,270.87 289.88,269.64 291.22,268.41 292.56,267.19 293.91,265.96 295.25,264.75 296.59,263.54 297.93,262.34 299.27,261.15 300.61,259.98 301.95,258.83 303.3,257.7 304.64,256.56 305.98,255.44 307.32,254.33 308.66,253.25 310,252.19 311.34,251.15 312.69,250.16 314.03,249.22 315.37,248.32 316.71,247.45 318.05,246.57 319.39,245.66 320.73,244.7 322.08,243.66 323.42,242.58 324.76,241.52 326.1,240.51 327.44,239.61 328.78,238.77 330.13,237.97 331.47,237.21 332.81,236.48 334.15,235.76 335.49,235.05 336.83,234.37 338.17,233.72 339.52,233.1 340.86,232.51 342.2,231.94 343.54,231.39 344.88,230.86 346.22,230.35 347.56,229.87 348.91,229.42 350.25,229 351.59,228.6 352.93,228.2 354.27,227.83 355.61,227.48 356.95,227.15 358.3,226.86 359.64,226.6 360.98,226.37 362.32,226.17 363.66,225.98 365,225.8 366.35,225.64 367.69,225.5 369.03,225.37 370.37,225.24 371.71,225.12 373.05,225.01 374.39,224.91 375.74,224.81 377.08,224.72 378.42,224.65 379.76,224.58 381.1,224.52 382.44,224.47 383.78,224.42 385.13,224.37 386.47,224.33 387.81,224.29 389.15,224.25 390.49,224.22 391.83,224.18 393.18,224.15 394.52,224.12 395.86,224.09 397.2,224.06 398.54,224.04 399.88,224.01 401.22,223.98 402.57,223.96 403.91,223.93 405.25,223.9 406.59,223.88 407.93,223.85 409.27,223.83 410.61,223.8 411.96,223.78 413.3,223.75 414.64,223.73 415.98,223.71 417.32,223.69 418.66,223.67 420,223.65 421.35,223.63 422.69,223.61 424.03,223.59 425.37,223.58 426.71,223.56 428.05,223.55 429.4,223.53 430.74,223.52" fill="none" stroke="#9933ff" stroke-width="1.1" stroke-linejoin="round"/>
<g><polygon points="286.14,271.31 287.72,274.42 284.57,274.42" fill="#9933ff"/><polygon points="301.69,257.34 303.26,260.44 300.11,260.44" fill="#9933ff"/><polygon points="312.1,248.86 313.68,251.97 310.53,251.97" fill="#9933ff"/><polygon points="319.95,243.54 321.52,246.65 318.37,246.65" fill="#9933ff"/><polygon points="326.25,238.68 327.82,241.79 324.67,241.79" fill="#9933ff"/><polygon points="331.51,235.47 333.08,238.57 329.93,238.57" fill="#9933ff"/><polygon points="336.02,233.05 337.6,236.16 334.45,236.16" fill="#9933ff"/><polygon points="339.98,231.17 341.55,234.27 338.4,234.27" fill="#9933ff"/><polygon points="343.5,229.68 345.07,232.79 341.92,232.79" fill="#9933ff"/><polygon points="346.67,228.47 348.25,231.57 345.1,231.57" fill="#9933ff"/><polygon points="349.56,227.49 351.13,230.6 347.98,230.6" fill="#9933ff"/><polygon points="352.2,226.69 353.78,229.8 350.63,229.8" fill="#9933ff"/><polygon points="354.65,226 356.22,229.11 353.07,229.11" fill="#9933ff"/><polygon points="356.92,225.43 358.5,228.54 355.35,228.54" fill="#9933ff"/><polygon points="359.04,224.98 360.62,228.09 357.47,228.09" fill="#9933ff"/><polygon points="361.03,224.64 362.61,227.75 359.46,227.75" fill="#9933ff"/><polygon points="362.9,224.36 364.48,227.46 361.33,227.46" fill="#9933ff"/><polygon points="364.67,224.12 366.25,227.22 363.1,227.22" fill="#9933ff"/><polygon points="366.35,223.92 367.92,227.02 364.77,227.02" fill="#9933ff"/><polygon points="367.94,223.75 369.52,226.85 366.37,226.85" fill="#9933ff"/><polygon points="369.46,223.6 371.03,226.71 367.88,226.71" fill="#9933ff"/><polygon points="370.91,223.47 372.48,226.58 369.33,226.58" fill="#9933ff"/><polygon points="372.29,223.35 373.87,226.46 370.72,226.46" fill="#9933ff"/><polygon points="373.62,223.24 375.2,226.35 372.05,226.35" fill="#9933ff"/><polygon points="374.9,223.15 376.47,226.25 373.32,226.25" fill="#9933ff"/><polygon points="376.12,223.06 377.7,226.17 374.55,226.17" fill="#9933ff"/><polygon points="377.3,222.99 378.88,226.09 375.73,226.09" fill="#9933ff"/><polygon points="378.44,222.92 380.02,226.03 376.87,226.03" fill="#9933ff"/><polygon points="379.54,222.87 381.12,225.97 377.97,225.97" fill="#9933ff"/><polygon points="380.61,222.82 382.18,225.92 379.03,225.92" fill="#9933ff"/><polygon points="381.64,222.78 383.21,225.88 380.06,225.88" fill="#9933ff"/><polygon points="382.63,222.74 384.21,225.84 381.06,225.84" fill="#9933ff"/><polygon points="383.6,222.7 385.18,225.81 382.03,225.81" fill="#9933ff"/><polygon points="384.54,222.67 386.12,225.77 382.97,225.77" fill="#9933ff"/><polygon points="385.45,222.64 387.03,225.74 383.88,225.74" fill="#9933ff"/><polygon points="386.34,222.61 387.91,225.71 384.76,225.71" fill="#9933ff"/><polygon points="387.2,222.58 388.78,225.69 385.63,225.69" fill="#9933ff"/><polygon points="388.04,222.56 389.62,225.66 386.47,225.66" fill="#9933ff"/><polygon points="388.86,222.54 390.44,225.64 387.29,225.64" fill="#9933ff"/><polygon points="389.66,222.51 391.23,225.62 388.08,225.62" fill="#9933ff"/><polygon points="390.44,222.49 392.01,225.6 388.86,225.6" fill="#9933ff"/><polygon points="391.2,222.47 392.77,225.58 389.62,225.58" fill="#9933ff"/><polygon points="391.94,222.46 393.52,225.56 390.37,225.56" fill="#9933ff"/><polygon points="392.67,222.44 394.24,225.54 391.09,225.54" fill="#9933ff"/><polygon points="393.38,222.42 394.95,225.53 391.8,225.53" fill="#9933ff"/><polygon points="394.07,222.41 395.65,225.51 392.5,225.51" fill="#9933ff"/><polygon points="394.75,222.39 396.33,225.5 393.18,225.5" fill="#9933ff"/><polygon points="395.42,222.38 396.99,225.48 393.84,225.48" fill="#9933ff"/><polygon points="396.07,222.36 397.64,225.47 394.49,225.47" fill="#9933ff"/><polygon points="396.71,222.35 398.28,225.45 395.13,225.45" fill="#9933ff"/><polygon points="397.33,222.34 398.91,225.44 395.76,225.44" fill="#9933ff"/><polygon points="397.95,222.32 399.52,225.43 396.37,225.43" fill="#9933ff"/><polygon points="398.55,222.31 400.13,225.42 396.98,225.42" fill="#9933ff"/><polygon points="399.14,222.3 400.72,225.4 397.57,225.4" fill="#9933ff"/><polygon points="399.72,222.29 401.3,225.39 398.15,225.39" fill="#9933ff"/><polygon points="400.29,222.28 401.87,225.38 398.72,225.38" fill="#9933ff"/><polygon points="400.85,222.27 402.43,225.37 399.28,225.37" fill="#9933ff"/><polygon points="401.41,222.25 402.98,225.36 399.83,225.36" fill="#9933ff"/><polygon points="401.95,222.24 403.52,225.35 400.37,225.35" fill="#9933ff"/><polygon points="402.48,222.23 404.06,225.34 400.91,225.34" fill="#9933ff"/><polygon points="403,222.22 404.58,225.33 401.43,225.33" fill="#9933ff"/><polygon points="403.52,222.21 405.09,225.32 401.94,225.32" fill="#9933ff"/><polygon points="404.03,222.2 405.6,225.31 402.45,225.31" fill="#9933ff"/><polygon points="404.53,222.19 406.1,225.3 402.95,225.3" fill="#9933ff"/><polygon points="405.02,222.18 406.59,225.29 403.44,225.29" fill="#9933ff"/><polygon points="405.5,222.17 407.08,225.28 403.93,225.28" fill="#9933ff"/><polygon points="405.98,222.16 407.55,225.27 404.4,225.27" fill="#9933ff"/><polygon points="406.45,222.15 408.02,225.26 404.87,225.26" fill="#9933ff"/><polygon points="406.91,222.15 408.49,225.25 405.34,225.25" fill="#9933ff"/><polygon points="407.37,222.14 408.94,225.24 405.79,225.24" fill="#9933ff"/><polygon points="407.82,222.13 409.39,225.23 406.24,225.23" fill="#9933ff"/><polygon points="408.26,222.12 409.84,225.23 406.69,225.23" fill="#9933ff"/><polygon points="408.7,222.11 410.28,225.22 407.13,225.22" fill="#9933ff"/><polygon points="409.13,222.1 410.71,225.21 407.56,225.21" fill="#9933ff"/><polygon points="409.56,222.1 411.13,225.2 407.98,225.2" fill="#9933ff"/><polygon points="409.98,222.09 411.56,225.19 408.41,225.19" fill="#9933ff"/><polygon points="410.4,222.08 411.97,225.19 408.82,225.19" fill="#9933ff"/><polygon points="410.81,222.07 412.38,225.18 409.23,225.18" fill="#9933ff"/><polygon points="411.21,222.07 412.78,225.17 409.63,225.17" fill="#9933ff"/><polygon points="411.61,222.06 413.18,225.16 410.03,225.16" fill="#9933ff"/><polygon points="412,222.05 413.58,225.16 410.43,225.16" fill="#9933ff"/><polygon points="412.39,222.04 413.97,225.15 410.82,225.15" fill="#9933ff"/><polygon points="412.78,222.04 414.35,225.14 411.2,225.14" fill="#9933ff"/><polygon points="413.16,222.03 414.73,225.14 411.58,225.14" fill="#9933ff"/><polygon points="413.54,222.03 415.11,225.13 411.96,225.13" fill="#9933ff"/><polygon points="413.91,222.02 415.48,225.12 412.33,225.12" fill="#9933ff"/><polygon points="414.28,222.01 415.85,225.12 412.7,225.12" fill="#9933ff"/><polygon points="414.64,222.01 416.21,225.11 413.06,225.11" fill="#9933ff"/><polygon points="415,222 416.57,225.11 413.42,225.11" fill="#9933ff"/><polygon points="415.35,221.99 416.93,225.1 413.78,225.1" fill="#9933ff"/><polygon points="415.7,221.99 417.28,225.09 414.13,225.09" fill="#9933ff"/><polygon points="416.05,221.98 417.63,225.09 414.48,225.09" fill="#9933ff"/><polygon points="416.4,221.98 417.97,225.08 414.82,225.08" fill="#9933ff"/><polygon points="416.74,221.97 418.31,225.08 415.16,225.08" fill="#9933ff"/><polygon points="417.07,221.97 418.65,225.07 415.5,225.07" fill="#9933ff"/><polygon points="417.41,221.96 418.98,225.07 415.83,225.07" fill="#9933ff"/><polygon points="417.74,221.96 419.31,225.06 416.16,225.06" fill="#9933ff"/><polygon points="418.06,221.95 419.64,225.06 416.49,225.06" fill="#9933ff"/><polygon points="418.38,221.95 419.96,225.05 416.81,225.05" fill="#9933ff"/><polygon points="418.7,221.94 420.28,225.05 417.13,225.05" fill="#9933ff"/><polygon points="419.02,221.94 420.6,225.04 417.45,225.04" fill="#9933ff"/><polygon points="419.33,221.93 420.91,225.04 417.76,225.04" fill="#9933ff"/><polygon points="419.65,221.93 421.22,225.03 418.07,225.03" fill="#9933ff"/><polygon points="419.95,221.92 421.53,225.03 418.38,225.03" fill="#9933ff"/><polygon points="420.26,221.92 421.83,225.02 418.68,225.02" fill="#9933ff"/><polygon points="420.56,221.91 422.13,225.02 418.98,225.02" fill="#9933ff"/><polygon points="420.86,221.91 422.43,225.02 419.28,225.02" fill="#9933ff"/><polygon points="421.15,221.91 422.73,225.01 419.58,225.01" fill="#9933ff"/><polygon points="421.45,221.9 423.02,225.01 419.87,225.01" fill="#9933ff"/><polygon points="421.74,221.9 423.31,225 420.16,225" fill="#9933ff"/><polygon points="422.03,221.89 423.6,225 420.45,225" fill="#9933ff"/><polygon points="422.31,221.89 423.89,225 420.74,225" fill="#9933ff"/><polygon points="422.6,221.89 424.17,224.99 421.02,224.99" fill="#9933ff"/><polygon points="422.88,221.88 424.45,224.99 421.3,224.99" fill="#9933ff"/><polygon points="423.15,221.88 424.73,224.98 421.58,224.98" fill="#9933ff"/><polygon points="423.43,221.88 425,224.98 421.85,224.98" fill="#9933ff"/><polygon points="423.7,221.87 425.28,224.98 422.13,224.98" fill="#9933ff"/><polygon points="423.97,221.87 425.55,224.97 422.4,224.97" fill="#9933ff"/><polygon points="424.24,221.87 425.82,224.97 422.67,224.97" fill="#9933ff"/><polygon points="424.51,221.86 426.08,224.97 422.93,224.97" fill="#9933ff"/><polygon points="424.77,221.86 426.35,224.96 423.2,224.96" fill="#9933ff"/><polygon points="425.04,221.86 426.61,224.96 423.46,224.96" fill="#9933ff"/><polygon points="425.3,221.85 426.87,224.96 423.72,224.96" fill="#9933ff"/><polygon points="425.55,221.85 427.13,224.95 423.98,224.95" fill="#9933ff"/><polygon points="425.81,221.85 427.38,224.95 424.23,224.95" fill="#9933ff"/><polygon points="426.06,221.84 427.64,224.95 424.49,224.95" fill="#9933ff"/><polygon points="426.32,221.84 427.89,224.95 424.74,224.95" fill="#9933ff"/><polygon points="426.57,221.84 428.14,224.94 424.99,224.94" fill="#9933ff"/><polygon points="426.81,221.84 428.39,224.94 425.24,224.94" fill="#9933ff"/><polygon points="427.06,221.83 428.63,224.94 425.48,224.94" fill="#9933ff"/><polygon points="427.3,221.83 428.88,224.94 425.73,224.94" fill="#9933ff"/><polygon points="427.55,221.83 429.12,224.93 425.97,224.93" fill="#9933ff"/><polygon points="427.79,221.83 429.36,224.93 426.21,224.93" fill="#9933ff"/><polygon points="428.02,221.82 429.6,224.93 426.45,224.93" fill="#9933ff"/><polygon points="428.26,221.82 429.84,224.93 426.69,224.93" fill="#9933ff"/><polygon points="428.5,221.82 430.07,224.92 426.92,224.92" fill="#9933ff"/><polygon points="428.73,221.82 430.31,224.92 427.16,224.92" fill="#9933ff"/><polygon points="428.96,221.81 430.54,224.92 427.39,224.92" fill="#9933ff"/><polygon points="429.19,221.81 430.77,224.92 427.62,224.92" fill="#9933ff"/><polygon points="429.42,221.81 431,224.91 427.85,224.91" fill="#9933ff"/><polygon points="429.65,221.81 431.22,224.91 428.07,224.91" fill="#9933ff"/><polygon points="429.87,221.81 431.45,224.91 428.3,224.91" fill="#9933ff"/><polygon points="430.1,221.8 431.67,224.91 428.52,224.91" fill="#9933ff"/><polygon points="430.32,221.8 431.89,224.91 428.74,224.91" fill="#9933ff"/><polygon points="430.54,221.8 432.11,224.9 428.96,224.9" fill="#9933ff"/></g>
<polyline points="271.1,321.24 272.44,319.91 273.78,318.56 275.12,317.2 276.47,315.83 277.81,314.45 279.15,313.07 280.49,311.67 281.83,310.26 283.17,308.85 284.51,307.42 285.86,305.99 287.2,304.55 288.54,303.11 289.88,301.65 291.22,300.19 292.56,298.72 293.91,297.25 295.25,295.76 296.59,294.26 297.93,292.74 299.27,291.22 300.61,289.68 301.95,288.13 303.3,286.58 304.64,285.01 305.98,283.44 307.32,281.85 308.66,280.24 310,278.59 311.34,276.94 312.69,275.28 314.03,273.65 315.37,272.06 316.71,270.52 318.05,269.02 319.39,267.54 320.73,266.09 322.08,264.66 323.42,263.24 324.76,261.86 326.1,260.51 327.44,259.16 328.78,257.78 330.13,256.34 331.47,254.87 332.81,253.37 334.15,251.88 335.49,250.41 336.83,248.99 338.17,247.63 339.52,246.3 340.86,245 342.2,243.73 343.54,242.52 344.88,241.36 346.22,240.26 347.56,239.19 348.91,238.17 350.25,237.19 351.59,236.26 352.93,235.37 354.27,234.52 355.61,233.7 356.95,232.92 358.3,232.19 359.64,231.51 360.98,230.89 362.32,230.31 363.66,229.76 365,229.23 366.35,228.72 367.69,228.22 369.03,227.71 370.37,227.21 371.71,226.75 373.05,226.32 374.39,225.95 375.74,225.62 377.08,225.31 378.42,225.01 379.76,224.74 381.1,224.49 382.44,224.29 383.78,224.13 385.13,224 386.47,223.89 387.81,223.79 389.15,223.71 390.49,223.63 391.83,223.56 393.18,223.49 394.52,223.44 395.86,223.38 397.2,223.33 398.54,223.28 399.88,223.24 401.22,223.19 402.57,223.15 403.91,223.12 405.25,223.08 406.59,223.04 407.93,223.01 409.27,222.98 410.61,222.95 411.96,222.92 413.3,222.89 414.64,222.86 415.98,222.83 417.32,222.8 418.66,222.77 420,222.74 421.35,222.71 422.69,222.69 424.03,222.66 425.37,222.63 426.71,222.61 428.05,222.58 429.4,222.56 430.74,222.53" fill="none" stroke="#0099ff" stroke-width="1.1" stroke-linejoin="round"/>
<g><polygon points="273.27,320.81 274.84,317.7 271.69,317.7" fill="#0099ff"/><polygon points="294.39,298.44 295.96,295.33 292.81,295.33" fill="#0099ff"/><polygon points="307.01,283.95 308.58,280.85 305.43,280.85" fill="#0099ff"/><polygon points="316.03,273.02 317.61,269.92 314.46,269.92" fill="#0099ff"/><polygon points="323.06,265.34 324.64,262.23 321.49,262.23" fill="#0099ff"/><polygon points="328.83,259.46 330.4,256.35 327.25,256.35" fill="#0099ff"/><polygon points="333.71,254.09 335.28,250.99 332.13,250.99" fill="#0099ff"/><polygon points="337.94,249.59 339.52,246.49 336.37,246.49" fill="#0099ff"/><polygon points="341.68,245.94 343.26,242.83 340.11,242.83" fill="#0099ff"/><polygon points="345.03,242.96 346.6,239.86 343.45,239.86" fill="#0099ff"/><polygon points="348.06,240.53 349.64,237.43 346.49,237.43" fill="#0099ff"/><polygon points="350.83,238.5 352.4,235.4 349.25,235.4" fill="#0099ff"/><polygon points="353.38,236.81 354.95,233.71 351.8,233.71" fill="#0099ff"/><polygon points="355.74,235.35 357.31,232.25 354.16,232.25" fill="#0099ff"/><polygon points="357.93,234.11 359.51,231 356.36,231" fill="#0099ff"/><polygon points="359.99,233.07 361.57,229.96 358.42,229.96" fill="#0099ff"/><polygon points="361.92,232.2 363.5,229.09 360.35,229.09" fill="#0099ff"/><polygon points="363.75,231.45 365.32,228.34 362.17,228.34" fill="#0099ff"/><polygon points="365.47,230.78 367.05,227.67 363.9,227.67" fill="#0099ff"/><polygon points="367.11,230.16 368.68,227.06 365.53,227.06" fill="#0099ff"/><polygon points="368.66,229.57 370.24,226.47 367.09,226.47" fill="#0099ff"/><polygon points="370.15,229.02 371.72,225.92 368.57,225.92" fill="#0099ff"/><polygon points="371.57,228.52 373.14,225.41 369.99,225.41" fill="#0099ff"/><polygon points="372.92,228.08 374.5,224.98 371.35,224.98" fill="#0099ff"/><polygon points="374.23,227.72 375.8,224.61 372.65,224.61" fill="#0099ff"/><polygon points="375.48,227.41 377.05,224.31 373.9,224.31" fill="#0099ff"/><polygon points="376.68,227.12 378.26,224.02 375.11,224.02" fill="#0099ff"/><polygon points="377.85,226.86 379.42,223.75 376.27,223.75" fill="#0099ff"/><polygon points="378.97,226.62 380.54,223.52 377.39,223.52" fill="#0099ff"/><polygon points="380.05,226.41 381.62,223.3 378.47,223.3" fill="#0099ff"/><polygon points="381.1,226.22 382.67,223.12 379.52,223.12" fill="#0099ff"/><polygon points="382.11,226.06 383.68,222.96 380.53,222.96" fill="#0099ff"/><polygon points="383.09,225.93 384.67,222.82 381.52,222.82" fill="#0099ff"/><polygon points="384.05,225.82 385.62,222.72 382.47,222.72" fill="#0099ff"/><polygon points="384.97,225.74 386.55,222.64 383.4,222.64" fill="#0099ff"/><polygon points="385.87,225.66 387.45,222.56 384.3,222.56" fill="#0099ff"/><polygon points="386.75,225.6 388.32,222.49 385.17,222.49" fill="#0099ff"/><polygon points="387.6,225.53 389.17,222.43 386.02,222.43" fill="#0099ff"/><polygon points="388.43,225.48 390,222.37 386.85,222.37" fill="#0099ff"/><polygon points="389.24,225.43 390.81,222.32 387.66,222.32" fill="#0099ff"/><polygon points="390.03,225.38 391.6,222.27 388.45,222.27" fill="#0099ff"/><polygon points="390.8,225.34 392.37,222.23 389.22,222.23" fill="#0099ff"/><polygon points="391.55,225.3 393.12,222.19 389.97,222.19" fill="#0099ff"/><polygon points="392.28,225.26 393.86,222.16 390.71,222.16" fill="#0099ff"/><polygon points="393,225.23 394.58,222.12 391.43,222.12" fill="#0099ff"/><polygon points="393.7,225.19 395.28,222.09 392.13,222.09" fill="#0099ff"/><polygon points="394.39,225.17 395.97,222.06 392.82,222.06" fill="#0099ff"/><polygon points="395.07,225.14 396.64,222.03 393.49,222.03" fill="#0099ff"/><polygon points="395.72,225.11 397.3,222.01 394.15,222.01" fill="#0099ff"/><polygon points="396.37,225.09 397.95,221.98 394.8,221.98" fill="#0099ff"/><polygon points="397,225.06 398.58,221.96 395.43,221.96" fill="#0099ff"/><polygon points="397.62,225.04 399.2,221.94 396.05,221.94" fill="#0099ff"/><polygon points="398.23,225.02 399.81,221.91 396.66,221.91" fill="#0099ff"/><polygon points="398.83,225 400.41,221.89 397.26,221.89" fill="#0099ff"/><polygon points="399.42,224.98 400.99,221.87 397.84,221.87" fill="#0099ff"/><polygon points="399.99,224.96 401.57,221.85 398.42,221.85" fill="#0099ff"/><polygon points="400.56,224.94 402.13,221.84 398.98,221.84" fill="#0099ff"/><polygon points="401.11,224.92 402.69,221.82 399.54,221.82" fill="#0099ff"/><polygon points="401.66,224.91 403.24,221.8 400.09,221.8" fill="#0099ff"/><polygon points="402.2,224.89 403.77,221.79 400.62,221.79" fill="#0099ff"/><polygon points="402.73,224.87 404.3,221.77 401.15,221.77" fill="#0099ff"/><polygon points="403.25,224.86 404.82,221.75 401.67,221.75" fill="#0099ff"/><polygon points="403.76,224.84 405.33,221.74 402.18,221.74" fill="#0099ff"/><polygon points="404.26,224.83 405.84,221.73 402.69,221.73" fill="#0099ff"/><polygon points="404.76,224.82 406.33,221.71 403.18,221.71" fill="#0099ff"/><polygon points="405.25,224.8 406.82,221.7 403.67,221.7" fill="#0099ff"/><polygon points="405.73,224.79 407.3,221.69 404.15,221.69" fill="#0099ff"/><polygon points="406.2,224.78 407.78,221.67 404.63,221.67" fill="#0099ff"/><polygon points="406.67,224.77 408.24,221.66 405.09,221.66" fill="#0099ff"/><polygon points="407.13,224.76 408.7,221.65 405.55,221.65" fill="#0099ff"/><polygon points="407.58,224.74 409.16,221.64 406.01,221.64" fill="#0099ff"/><polygon points="408.03,224.73 409.6,221.63 406.45,221.63" fill="#0099ff"/><polygon points="408.47,224.72 410.04,221.62 406.89,221.62" fill="#0099ff"/><polygon points="408.91,224.71 410.48,221.61 407.33,221.61" fill="#0099ff"/><polygon points="409.33,224.7 410.91,221.6 407.76,221.6" fill="#0099ff"/><polygon points="409.76,224.69 411.33,221.59 408.18,221.59" fill="#0099ff"/><polygon points="410.18,224.68 411.75,221.58 408.6,221.58" fill="#0099ff"/><polygon points="410.59,224.67 412.16,221.57 409.01,221.57" fill="#0099ff"/><polygon points="411,224.66 412.57,221.56 409.42,221.56" fill="#0099ff"/><polygon points="411.4,224.65 412.97,221.55 409.82,221.55" fill="#0099ff"/><polygon points="411.8,224.65 413.37,221.54 410.22,221.54" fill="#0099ff"/><polygon points="412.19,224.64 413.76,221.53 410.61,221.53" fill="#0099ff"/><polygon points="412.58,224.63 414.15,221.52 411,221.52" fill="#0099ff"/><polygon points="412.96,224.62 414.53,221.51 411.38,221.51" fill="#0099ff"/><polygon points="413.34,224.61 414.91,221.51 411.76,221.51" fill="#0099ff"/><polygon points="413.71,224.6 415.29,221.5 412.14,221.5" fill="#0099ff"/><polygon points="414.08,224.6 415.66,221.49 412.51,221.49" fill="#0099ff"/><polygon points="414.45,224.59 416.02,221.48 412.87,221.48" fill="#0099ff"/><polygon points="414.81,224.58 416.38,221.47 413.23,221.47" fill="#0099ff"/><polygon points="415.17,224.57 416.74,221.47 413.59,221.47" fill="#0099ff"/><polygon points="415.52,224.56 417.09,221.46 413.94,221.46" fill="#0099ff"/><polygon points="415.87,224.56 417.44,221.45 414.29,221.45" fill="#0099ff"/><polygon points="416.21,224.55 417.79,221.44 414.64,221.44" fill="#0099ff"/><polygon points="416.56,224.54 418.13,221.44 414.98,221.44" fill="#0099ff"/><polygon points="416.89,224.53 418.47,221.43 415.32,221.43" fill="#0099ff"/><polygon points="417.23,224.53 418.8,221.42 415.65,221.42" fill="#0099ff"/><polygon points="417.56,224.52 419.14,221.42 415.99,221.42" fill="#0099ff"/><polygon points="417.89,224.51 419.46,221.41 416.31,221.41" fill="#0099ff"/><polygon points="418.21,224.51 419.79,221.4 416.64,221.4" fill="#0099ff"/><polygon points="418.54,224.5 420.11,221.39 416.96,221.39" fill="#0099ff"/><polygon points="418.85,224.49 420.43,221.39 417.28,221.39" fill="#0099ff"/><polygon points="419.17,224.49 420.74,221.38 417.59,221.38" fill="#0099ff"/><polygon points="419.48,224.48 421.06,221.37 417.91,221.37" fill="#0099ff"/><polygon points="419.79,224.47 421.37,221.37 418.22,221.37" fill="#0099ff"/><polygon points="420.1,224.47 421.67,221.36 418.52,221.36" fill="#0099ff"/><polygon points="420.4,224.46 421.97,221.35 418.82,221.35" fill="#0099ff"/><polygon points="420.7,224.45 422.27,221.35 419.12,221.35" fill="#0099ff"/><polygon points="421,224.45 422.57,221.34 419.42,221.34" fill="#0099ff"/><polygon points="421.29,224.44 422.87,221.34 419.72,221.34" fill="#0099ff"/><polygon points="421.58,224.43 423.16,221.33 420.01,221.33" fill="#0099ff"/><polygon points="421.87,224.43 423.45,221.32 420.3,221.32" fill="#0099ff"/><polygon points="422.16,224.42 423.74,221.32 420.59,221.32" fill="#0099ff"/><polygon points="422.45,224.42 424.02,221.31 420.87,221.31" fill="#0099ff"/><polygon points="422.73,224.41 424.3,221.31 421.15,221.31" fill="#0099ff"/><polygon points="423.01,224.41 424.58,221.3 421.43,221.3" fill="#0099ff"/><polygon points="423.28,224.4 424.86,221.29 421.71,221.29" fill="#0099ff"/><polygon points="423.56,224.39 425.13,221.29 421.98,221.29" fill="#0099ff"/><polygon points="423.83,224.39 425.41,221.28 422.26,221.28" fill="#0099ff"/><polygon points="424.1,224.38 425.68,221.28 422.53,221.28" fill="#0099ff"/><polygon points="424.37,224.38 425.94,221.27 422.79,221.27" fill="#0099ff"/><polygon points="424.63,224.37 426.21,221.27 423.06,221.27" fill="#0099ff"/><polygon points="424.9,224.37 426.47,221.26 423.32,221.26" fill="#0099ff"/><polygon points="425.16,224.36 426.73,221.26 423.58,221.26" fill="#0099ff"/><polygon points="425.42,224.36 426.99,221.25 423.84,221.25" fill="#0099ff"/><polygon points="425.67,224.35 427.25,221.25 424.1,221.25" fill="#0099ff"/><polygon points="425.93,224.35 427.5,221.24 424.35,221.24" fill="#0099ff"/><polygon points="426.18,224.34 427.76,221.24 424.61,221.24" fill="#0099ff"/><polygon points="426.43,224.34 428.01,221.23 424.86,221.23" fill="#0099ff"/><polygon points="426.68,224.33 428.26,221.23 425.11,221.23" fill="#0099ff"/><polygon points="426.93,224.33 428.5,221.22 425.35,221.22" fill="#0099ff"/><polygon points="427.17,224.32 428.75,221.22 425.6,221.22" fill="#0099ff"/><polygon points="427.42,224.32 428.99,221.21 425.84,221.21" fill="#0099ff"/><polygon points="427.66,224.31 429.23,221.21 426.08,221.21" fill="#0099ff"/><polygon points="427.9,224.31 429.47,221.2 426.32,221.2" fill="#0099ff"/><polygon points="428.14,224.31 429.71,221.2 426.56,221.2" fill="#0099ff"/><polygon points="428.37,224.3 429.95,221.2 426.8,221.2" fill="#0099ff"/><polygon points="428.61,224.3 430.18,221.19 427.03,221.19" fill="#0099ff"/><polygon points="428.84,224.29 430.41,221.19 427.26,221.19" fill="#0099ff"/><polygon points="429.07,224.29 430.65,221.18 427.5,221.18" fill="#0099ff"/><polygon points="429.3,224.28 430.87,221.18 427.72,221.18" fill="#0099ff"/><polygon points="429.53,224.28 431.1,221.18 427.95,221.18" fill="#0099ff"/><polygon points="429.75,224.28 431.33,221.17 428.18,221.17" fill="#0099ff"/><polygon points="429.98,224.27 431.55,221.17 428.4,221.17" fill="#0099ff"/><polygon points="430.2,224.27 431.78,221.16 428.63,221.16" fill="#0099ff"/><polygon points="430.42,224.26 432,221.16 428.85,221.16" fill="#0099ff"/><polygon points="430.64,224.26 432.22,221.16 429.07,221.16" fill="#0099ff"/></g>
</g>
<rect x="271.1" y="204.4" width="165.6" height="132.8" fill="none" stroke="#231f20" stroke-width="1.0"/>
<path d="M322.62 337.2v2.5M396.33 337.2v2.5M284.08 337.2v1.5M293.29 337.2v1.5M300.43 337.2v1.5M306.27 337.2v1.5M311.2 337.2v1.5M315.48 337.2v1.5M319.25 337.2v1.5M344.81 337.2v1.5M357.79 337.2v1.5M366.99 337.2v1.5M374.14 337.2v1.5M379.97 337.2v1.5M384.91 337.2v1.5M389.18 337.2v1.5M392.95 337.2v1.5M418.51 337.2v1.5M431.49 337.2v1.5" stroke="#231f20" stroke-width="1.0" fill="none"/>
<text x="322.62" y="348.7" font-size="9.0" text-anchor="middle" fill="#231f20">0.1</text>
<text x="396.33" y="348.7" font-size="9.0" text-anchor="middle" fill="#231f20">1</text>
<path d="M271.1 337.2h-2.5M271.1 259.03h-2.5M271.1 313.67h-1.5M271.1 299.91h-1.5M271.1 290.14h-1.5M271.1 282.57h-1.5M271.1 276.38h-1.5M271.1 271.14h-1.5M271.1 266.61h-1.5M271.1 262.61h-1.5M271.1 235.5h-1.5M271.1 221.74h-1.5M271.1 211.97h-1.5" stroke="#231f20" stroke-width="1.0" fill="none"/>
<text x="267.1" y="340.4" font-size="9.0" text-anchor="end" fill="#231f20">1</text>
<text x="267.1" y="262.23" font-size="9.0" text-anchor="end" fill="#231f20">10</text>
<text x="330.8" y="362.6" font-size="11.3" fill="#231f20"><tspan font-style="italic" font-size="12.3">V</tspan><tspan font-size="8.3" dy="2.4">eff</tspan><tspan dy="-2.4"> (V)</tspan></text>
<text transform="translate(250.8,270.8) rotate(-90)" font-size="11.3" text-anchor="middle" fill="#231f20"><tspan font-style="italic" font-size="12.3">J</tspan><tspan font-size="8.3" dy="2.4">ph</tspan><tspan dy="-2.4"> (mA cm</tspan><tspan font-size="8" dy="-4.2">-2</tspan><tspan dy="4.2">)</tspan></text>
<path d="M292.6 237.4L319.6 280.4" stroke="#ee1c24" stroke-width="1.2"/><polygon points="322.6,285.4 317.3,280.6 321.4,278.0" fill="#ee1c24"/>
<path d="M362.5 275.9H378.8" stroke="#ff9933" stroke-width="0.9"/>
<rect x="368.7" y="274.2" width="3.4" height="3.4" fill="#ff9933"/>
<text x="381.1" y="279" font-size="8.6" fill="#231f20">53 nm</text>
<path d="M362.5 286.7H378.8" stroke="#ff33ff" stroke-width="0.9"/>
<circle cx="370.4" cy="286.7" r="1.7" fill="#ff33ff"/>
<text x="381.1" y="289.8" font-size="8.6" fill="#231f20">75 nm</text>
<path d="M362.5 297.5H378.8" stroke="#9933ff" stroke-width="0.9"/>
<polygon points="370.4,295.55 372.19,299.06 368.61,299.06" fill="#9933ff"/>
<text x="381.1" y="300.6" font-size="8.6" fill="#231f20">135 nm</text>
<path d="M362.5 308.3H378.8" stroke="#0099ff" stroke-width="0.9"/>
<polygon points="370.4,310.25 372.19,306.74 368.61,306.74" fill="#0099ff"/>
<text x="381.1" y="311.4" font-size="8.6" fill="#231f20">212 nm</text>
<polyline points="503.72,263.76 522.87,241.45 575.1,246.9 642.13,236.27" fill="none" stroke="#ff9f40" stroke-width="1.1" stroke-linejoin="round"/>
<polyline points="503.72,256.19 522.87,225.38 575.1,238 642.13,217.28" fill="none" stroke="#ff40ff" stroke-width="1.1" stroke-linejoin="round"/>
<polyline points="503.72,299.75 522.87,295.77 575.1,310.91 642.13,322.99" fill="none" stroke="#a64dff" stroke-width="1.1" stroke-linejoin="round"/>
<path d="M503.72 259.86V267.66M502.02 259.86H505.42M502.02 267.66H505.42" stroke="#ff9f40" stroke-width="0.9" fill="none"/><path d="M522.87 239.45V243.45M521.17 239.45H524.57M521.17 243.45H524.57" stroke="#ff9f40" stroke-width="0.9" fill="none"/><path d="M575.1 244.2V249.6M573.4 244.2H576.8M573.4 249.6H576.8" stroke="#ff9f40" stroke-width="0.9" fill="none"/><path d="M642.13 231.97V240.57M640.43 231.97H643.83M640.43 240.57H643.83" stroke="#ff9f40" stroke-width="0.9" fill="none"/>
<path d="M503.72 253.19V259.19M502.02 253.19H505.42M502.02 259.19H505.42" stroke="#ff40ff" stroke-width="0.9" fill="none"/><path d="M522.87 223.88V226.88M521.17 223.88H524.57M521.17 226.88H524.57" stroke="#ff40ff" stroke-width="0.9" fill="none"/><path d="M575.1 235V241M573.4 235H576.8M573.4 241H576.8" stroke="#ff40ff" stroke-width="0.9" fill="none"/><path d="M642.13 212.68V221.88M640.43 212.68H643.83M640.43 221.88H643.83" stroke="#ff40ff" stroke-width="0.9" fill="none"/>
<path d="M503.72 297.45V302.05M502.02 297.45H505.42M502.02 302.05H505.42" stroke="#a64dff" stroke-width="0.9" fill="none"/><path d="M522.87 294.47V297.07M521.17 294.47H524.57M521.17 297.07H524.57" stroke="#a64dff" stroke-width="0.9" fill="none"/><path d="M575.1 308.51V313.31M573.4 308.51H576.8M573.4 313.31H576.8" stroke="#a64dff" stroke-width="0.9" fill="none"/><path d="M642.13 319.89V326.09M640.43 319.89H643.83M640.43 326.09H643.83" stroke="#a64dff" stroke-width="0.9" fill="none"/>
<rect x="492.4" y="204.4" width="165.4" height="132.8" fill="none" stroke="#231f20" stroke-width="1.0"/>
<path d="M492.4 337.2v2.5M527.22 337.2v2.5M562.04 337.2v2.5M596.86 337.2v2.5M631.68 337.2v2.5M509.81 337.2v1.5M544.63 337.2v1.5M579.45 337.2v1.5M614.27 337.2v1.5M649.09 337.2v1.5" stroke="#231f20" stroke-width="1.0" fill="none"/>
<text x="492.4" y="348.7" font-size="9.0" text-anchor="middle" fill="#231f20">40</text>
<text x="527.22" y="348.7" font-size="9.0" text-anchor="middle" fill="#231f20">80</text>
<text x="562.04" y="348.7" font-size="9.0" text-anchor="middle" fill="#231f20">120</text>
<text x="596.86" y="348.7" font-size="9.0" text-anchor="middle" fill="#231f20">160</text>
<text x="631.68" y="348.7" font-size="9.0" text-anchor="middle" fill="#231f20">200</text>
<path d="M492.4 337.2h-2.5M492.4 310.64h-2.5M492.4 284.08h-2.5M492.4 257.52h-2.5M492.4 230.96h-2.5M492.4 204.4h-2.5M492.4 323.92h-1.5M492.4 297.36h-1.5M492.4 270.8h-1.5M492.4 244.24h-1.5M492.4 217.68h-1.5" stroke="#231f20" stroke-width="1.0" fill="none"/>
<text x="488.4" y="340.4" font-size="9.0" text-anchor="end" fill="#231f20">20</text>
<text x="488.4" y="313.84" font-size="9.0" text-anchor="end" fill="#231f20">22</text>
<text x="488.4" y="287.28" font-size="9.0" text-anchor="end" fill="#231f20">24</text>
<text x="488.4" y="260.72" font-size="9.0" text-anchor="end" fill="#231f20">26</text>
<text x="488.4" y="234.16" font-size="9.0" text-anchor="end" fill="#231f20">28</text>
<text x="488.4" y="207.6" font-size="9.0" text-anchor="end" fill="#231f20">30</text>
<text x="575" y="361.7" font-size="11.3" text-anchor="middle" fill="#231f20">Active Layer Thickness (nm)</text>
<text transform="translate(474.2,270.8) rotate(-90)" font-size="11.3" text-anchor="middle" fill="#231f20">Current Density (mA cm<tspan font-size="8" dy="-4.2">-2</tspan><tspan dy="4.2">)</tspan></text>
<path d="M496.1 211.9H515.9" stroke="#ff9f40" stroke-width="0.95"/><path d="M540.9 211.9H561" stroke="#a64dff" stroke-width="0.95"/><path d="M593.9 211.9H613.7" stroke="#ff40ff" stroke-width="0.95"/>
<text x="518.6" y="214.6" font-size="10.5" fill="#231f20"><tspan font-style="italic">J</tspan><tspan font-size="7.6" dy="2.4">sc</tspan></text>
<text x="563.6" y="214.6" font-size="10.5" fill="#231f20"><tspan font-style="italic">J</tspan><tspan font-size="7.6" dy="2.8">P</tspan><tspan font-size="5.6" dy="0.3">max</tspan></text>
<text x="617.4" y="214.6" font-size="10.5" fill="#231f20"><tspan font-style="italic">J</tspan><tspan font-size="7.6" dy="2.4">sat</tspan></text>
<text x="599.2" y="255.1" font-size="10.5" fill="#231f20"><tspan font-style="italic">P</tspan><tspan font-size="7.6" dy="3.0">diss</tspan></text>
<text x="635.8" y="255.1" font-size="10.5" fill="#231f20"><tspan font-style="italic">P</tspan><tspan font-size="7.6" dy="3.0">coll</tspan></text>
<text x="590.5" y="270" font-size="8.3" text-anchor="end" fill="#231f20">53 nm:</text>
<text x="597.4" y="270" font-size="8.3" fill="#231f20">97.7%</text>
<text x="632.1" y="270" font-size="8.3" fill="#231f20">87.3%</text>
<text x="590.5" y="280.4" font-size="8.3" text-anchor="end" fill="#231f20">75 nm:</text>
<text x="597.4" y="280.4" font-size="8.3" fill="#231f20">95.9%</text>
<text x="632.1" y="280.4" font-size="8.3" fill="#231f20">81.4%</text>
<text x="590.5" y="290.8" font-size="8.3" text-anchor="end" fill="#231f20">135 nm:</text>
<text x="597.4" y="290.8" font-size="8.3" fill="#231f20">97.7%</text>
<text x="632.1" y="290.8" font-size="8.3" fill="#231f20">80.2%</text>
<text x="590.5" y="301.2" font-size="8.3" text-anchor="end" fill="#231f20">212 nm:</text>
<text x="597.4" y="301.2" font-size="8.3" fill="#231f20">95.1%</text>
<text x="632.1" y="301.2" font-size="8.3" fill="#231f20">72.4%</text>
<text x="28" y="12.8" font-size="14" font-weight="bold" fill="#000">a</text>
<text x="242.9" y="10.8" font-size="14" font-weight="bold" fill="#000">b</text>
<text x="458.4" y="10.5" font-size="14" font-weight="bold" fill="#000">c</text>
<text x="28.2" y="189.3" font-size="14" font-weight="bold" fill="#000">d</text>
<text x="243.9" y="185.1" font-size="14" font-weight="bold" fill="#000">e</text>
<text x="458.6" y="188.6" font-size="14" font-weight="bold" fill="#000">f</text>
</svg></body></html>
